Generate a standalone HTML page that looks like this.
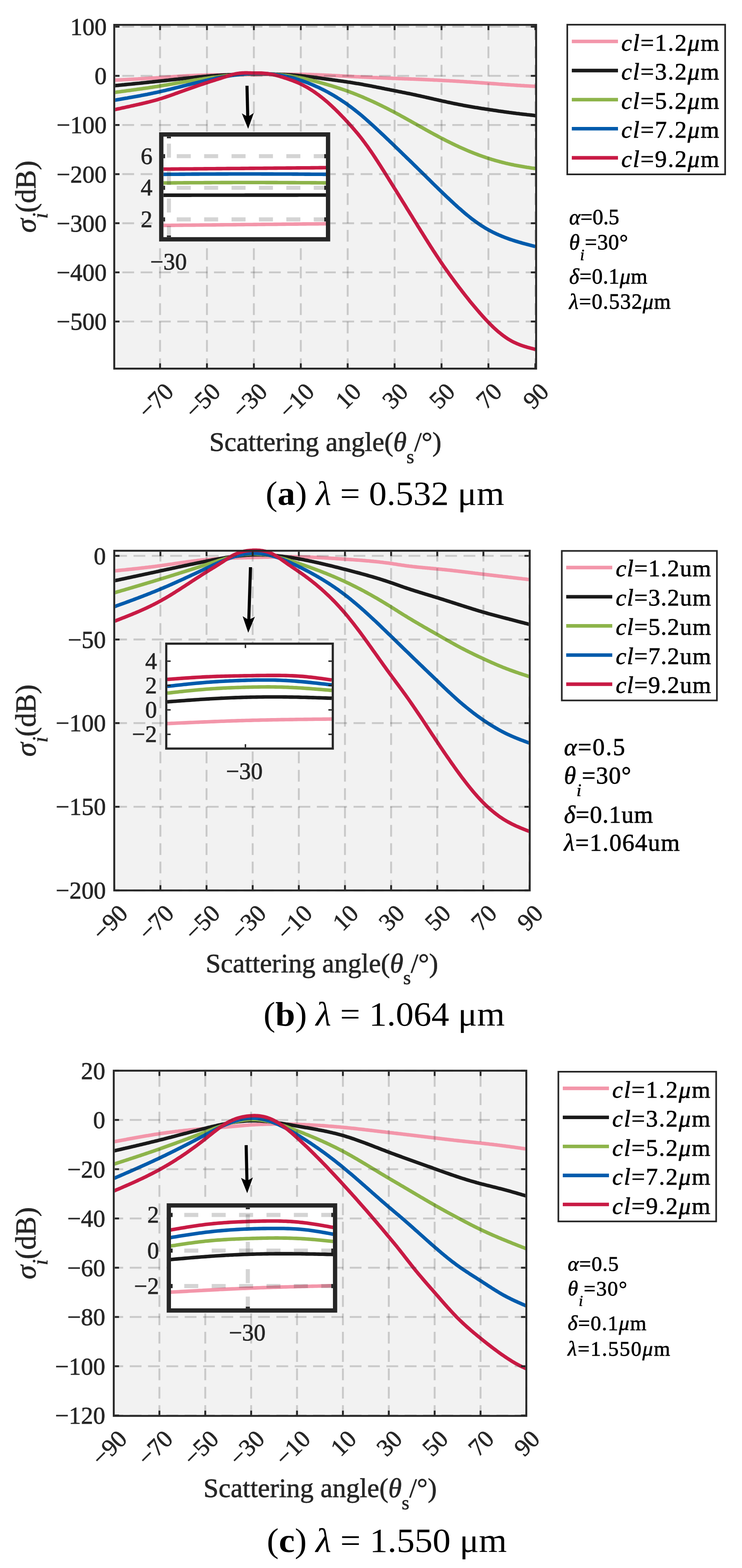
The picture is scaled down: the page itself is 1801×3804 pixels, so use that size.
<!DOCTYPE html><html><head><meta charset="utf-8"><style>html,body{margin:0;padding:0;background:#fff;overflow:hidden}svg{display:block}</style></head><body>
<svg xmlns="http://www.w3.org/2000/svg" width="1801" height="3804" viewBox="0 0 1801 3804" font-family="'Liberation Serif','Times New Roman',serif">
<rect width="1801" height="3804" fill="#fff"/>
<rect x="275" y="58" width="1028.6" height="838.6" fill="#F2F2F2"/>
<clipPath id="c2808"><rect x="279.6" y="0" width="1019.4" height="3804"/></clipPath>
<g fill="none" stroke-width="8.6" stroke-linejoin="round" clip-path="url(#c2808)">
<path d="M274.6 194.6 L277.5 194.4 L280.3 194.3 L283.2 194.2 L286.0 194.0 L288.9 193.9 L291.7 193.7 L294.6 193.6 L297.4 193.5 L300.3 193.3 L303.1 193.2 L306.0 193.0 L308.9 192.9 L311.7 192.7 L314.6 192.6 L317.4 192.5 L320.3 192.3 L323.1 192.2 L326.0 192.0 L328.8 191.9 L331.7 191.7 L334.5 191.6 L337.4 191.4 L340.3 191.3 L343.1 191.1 L346.0 190.9 L348.8 190.8 L351.7 190.6 L354.5 190.4 L357.4 190.3 L360.2 190.1 L363.1 189.9 L365.9 189.8 L368.8 189.6 L371.7 189.4 L374.5 189.2 L377.4 189.1 L380.2 188.9 L383.1 188.7 L385.9 188.5 L388.8 188.3 L391.6 188.1 L394.5 187.9 L397.3 187.7 L400.2 187.5 L403.1 187.3 L405.9 187.1 L408.8 186.9 L411.6 186.7 L414.5 186.5 L417.3 186.3 L420.2 186.1 L423.0 185.9 L425.9 185.7 L428.7 185.5 L431.6 185.3 L434.5 185.1 L437.3 184.9 L440.2 184.8 L443.0 184.6 L445.9 184.4 L448.7 184.3 L451.6 184.1 L454.4 183.9 L457.3 183.8 L460.1 183.6 L463.0 183.5 L465.9 183.4 L468.7 183.2 L471.6 183.1 L474.4 183.0 L477.3 182.9 L480.1 182.7 L483.0 182.6 L485.8 182.5 L488.7 182.4 L491.5 182.3 L494.4 182.2 L497.3 182.1 L500.1 182.1 L503.0 182.0 L505.8 181.9 L508.7 181.9 L511.5 181.8 L514.4 181.7 L517.2 181.7 L520.1 181.6 L522.9 181.6 L525.8 181.6 L528.7 181.5 L531.5 181.5 L534.4 181.5 L537.2 181.4 L540.1 181.4 L542.9 181.4 L545.8 181.4 L548.6 181.4 L551.5 181.3 L554.3 181.3 L557.2 181.3 L560.1 181.3 L562.9 181.3 L565.8 181.3 L568.6 181.3 L571.5 181.3 L574.3 181.3 L577.2 181.3 L580.0 181.3 L582.9 181.3 L585.7 181.2 L588.6 181.2 L591.5 181.2 L594.3 181.2 L597.2 181.2 L600.0 181.2 L602.9 181.2 L605.7 181.2 L608.6 181.2 L611.4 181.2 L614.3 181.1 L617.1 181.1 L620.0 181.1 L622.9 181.1 L625.7 181.0 L628.6 181.0 L631.4 181.0 L634.3 180.9 L637.1 180.9 L640.0 180.9 L642.8 180.8 L645.7 180.8 L648.5 180.8 L651.4 180.7 L654.3 180.7 L657.1 180.6 L660.0 180.6 L662.8 180.6 L665.7 180.5 L668.5 180.5 L671.4 180.5 L674.2 180.4 L677.1 180.4 L680.0 180.4 L682.8 180.3 L685.7 180.3 L688.5 180.3 L691.4 180.3 L694.2 180.3 L697.1 180.2 L699.9 180.2 L702.8 180.2 L705.6 180.2 L708.5 180.2 L711.4 180.2 L714.2 180.2 L717.1 180.3 L719.9 180.3 L722.8 180.3 L725.6 180.3 L728.5 180.4 L731.3 180.4 L734.2 180.4 L737.0 180.5 L739.9 180.5 L742.8 180.6 L745.6 180.7 L748.5 180.7 L751.3 180.8 L754.2 180.9 L757.0 181.0 L759.9 181.1 L762.7 181.2 L765.6 181.3 L768.4 181.4 L771.3 181.5 L774.2 181.6 L777.0 181.7 L779.9 181.8 L782.7 182.0 L785.6 182.1 L788.4 182.2 L791.3 182.4 L794.1 182.5 L797.0 182.6 L799.8 182.8 L802.7 182.9 L805.6 183.1 L808.4 183.2 L811.3 183.3 L814.1 183.5 L817.0 183.6 L819.8 183.8 L822.7 183.9 L825.5 184.1 L828.4 184.2 L831.2 184.4 L834.1 184.5 L837.0 184.7 L839.8 184.8 L842.7 185.0 L845.5 185.1 L848.4 185.3 L851.2 185.4 L854.1 185.6 L856.9 185.7 L859.8 185.9 L862.6 186.0 L865.5 186.2 L868.4 186.3 L871.2 186.4 L874.1 186.6 L876.9 186.7 L879.8 186.9 L882.6 187.0 L885.5 187.1 L888.3 187.3 L891.2 187.4 L894.0 187.5 L896.9 187.7 L899.8 187.8 L902.6 187.9 L905.5 188.1 L908.3 188.2 L911.2 188.3 L914.0 188.4 L916.9 188.6 L919.7 188.7 L922.6 188.8 L925.4 188.9 L928.3 189.0 L931.2 189.2 L934.0 189.3 L936.9 189.4 L939.7 189.5 L942.6 189.6 L945.4 189.7 L948.3 189.8 L951.1 189.9 L954.0 190.1 L956.8 190.2 L959.7 190.3 L962.6 190.4 L965.4 190.5 L968.3 190.6 L971.1 190.7 L974.0 190.8 L976.8 190.9 L979.7 191.0 L982.5 191.1 L985.4 191.2 L988.2 191.3 L991.1 191.4 L994.0 191.5 L996.8 191.6 L999.7 191.7 L1002.5 191.8 L1005.4 191.9 L1008.2 192.0 L1011.1 192.2 L1013.9 192.3 L1016.8 192.4 L1019.6 192.5 L1022.5 192.6 L1025.4 192.8 L1028.2 192.9 L1031.1 193.0 L1033.9 193.1 L1036.8 193.3 L1039.6 193.4 L1042.5 193.5 L1045.3 193.7 L1048.2 193.8 L1051.0 193.9 L1053.9 194.1 L1056.8 194.2 L1059.6 194.3 L1062.5 194.5 L1065.3 194.6 L1068.2 194.8 L1071.0 194.9 L1073.9 195.1 L1076.7 195.2 L1079.6 195.4 L1082.4 195.5 L1085.3 195.7 L1088.2 195.8 L1091.0 196.0 L1093.9 196.2 L1096.7 196.3 L1099.6 196.5 L1102.4 196.6 L1105.3 196.8 L1108.1 197.0 L1111.0 197.1 L1113.8 197.3 L1116.7 197.5 L1119.6 197.7 L1122.4 197.8 L1125.3 198.0 L1128.1 198.2 L1131.0 198.4 L1133.8 198.6 L1136.7 198.7 L1139.5 198.9 L1142.4 199.1 L1145.2 199.3 L1148.1 199.5 L1151.0 199.7 L1153.8 199.9 L1156.7 200.1 L1159.5 200.3 L1162.4 200.5 L1165.2 200.7 L1168.1 200.9 L1170.9 201.1 L1173.8 201.3 L1176.6 201.5 L1179.5 201.7 L1182.4 201.9 L1185.2 202.1 L1188.1 202.3 L1190.9 202.5 L1193.8 202.7 L1196.6 202.9 L1199.5 203.1 L1202.3 203.3 L1205.2 203.5 L1208.0 203.7 L1210.9 204.0 L1213.8 204.2 L1216.6 204.4 L1219.5 204.6 L1222.3 204.8 L1225.2 205.0 L1228.0 205.2 L1230.9 205.4 L1233.7 205.6 L1236.6 205.8 L1239.4 206.0 L1242.3 206.2 L1245.2 206.3 L1248.0 206.5 L1250.9 206.7 L1253.7 206.9 L1256.6 207.1 L1259.4 207.2 L1262.3 207.4 L1265.1 207.6 L1268.0 207.7 L1270.8 207.9 L1273.7 208.1 L1276.6 208.2 L1279.4 208.4 L1282.3 208.5 L1285.1 208.7 L1288.0 208.9 L1290.8 209.0 L1293.7 209.2 L1296.5 209.3 L1299.4 209.5" stroke="#F396AA"/>
<path d="M274.6 208.2 L277.5 207.9 L280.3 207.6 L283.2 207.3 L286.0 207.1 L288.9 206.8 L291.7 206.5 L294.6 206.2 L297.4 205.9 L300.3 205.7 L303.1 205.4 L306.0 205.1 L308.9 204.8 L311.7 204.5 L314.6 204.2 L317.4 204.0 L320.3 203.7 L323.1 203.4 L326.0 203.1 L328.8 202.8 L331.7 202.5 L334.5 202.2 L337.4 202.0 L340.3 201.7 L343.1 201.4 L346.0 201.1 L348.8 200.8 L351.7 200.5 L354.5 200.2 L357.4 199.9 L360.2 199.6 L363.1 199.3 L365.9 199.0 L368.8 198.7 L371.7 198.4 L374.5 198.1 L377.4 197.8 L380.2 197.5 L383.1 197.2 L385.9 196.9 L388.8 196.6 L391.6 196.3 L394.5 196.0 L397.3 195.7 L400.2 195.4 L403.1 195.1 L405.9 194.8 L408.8 194.5 L411.6 194.1 L414.5 193.8 L417.3 193.5 L420.2 193.2 L423.0 192.9 L425.9 192.6 L428.7 192.3 L431.6 192.0 L434.5 191.6 L437.3 191.3 L440.2 191.0 L443.0 190.7 L445.9 190.4 L448.7 190.1 L451.6 189.8 L454.4 189.5 L457.3 189.2 L460.1 188.9 L463.0 188.6 L465.9 188.3 L468.7 188.0 L471.6 187.7 L474.4 187.4 L477.3 187.2 L480.1 186.9 L483.0 186.6 L485.8 186.3 L488.7 186.1 L491.5 185.8 L494.4 185.5 L497.3 185.3 L500.1 185.1 L503.0 184.8 L505.8 184.6 L508.7 184.4 L511.5 184.1 L514.4 183.9 L517.2 183.7 L520.1 183.5 L522.9 183.3 L525.8 183.1 L528.7 182.9 L531.5 182.7 L534.4 182.5 L537.2 182.4 L540.1 182.2 L542.9 182.0 L545.8 181.9 L548.6 181.7 L551.5 181.6 L554.3 181.4 L557.2 181.3 L560.1 181.2 L562.9 181.0 L565.8 180.9 L568.6 180.8 L571.5 180.7 L574.3 180.6 L577.2 180.5 L580.0 180.4 L582.9 180.3 L585.7 180.2 L588.6 180.1 L591.5 180.0 L594.3 180.0 L597.2 179.9 L600.0 179.8 L602.9 179.8 L605.7 179.7 L608.6 179.7 L611.4 179.6 L614.3 179.6 L617.1 179.6 L620.0 179.5 L622.9 179.5 L625.7 179.5 L628.6 179.5 L631.4 179.5 L634.3 179.5 L637.1 179.5 L640.0 179.5 L642.8 179.5 L645.7 179.5 L648.5 179.6 L651.4 179.6 L654.3 179.6 L657.1 179.7 L660.0 179.7 L662.8 179.8 L665.7 179.9 L668.5 180.0 L671.4 180.0 L674.2 180.1 L677.1 180.2 L680.0 180.3 L682.8 180.5 L685.7 180.6 L688.5 180.7 L691.4 180.9 L694.2 181.0 L697.1 181.2 L699.9 181.4 L702.8 181.5 L705.6 181.7 L708.5 181.9 L711.4 182.2 L714.2 182.4 L717.1 182.6 L719.9 182.8 L722.8 183.1 L725.6 183.4 L728.5 183.6 L731.3 183.9 L734.2 184.2 L737.0 184.5 L739.9 184.8 L742.8 185.2 L745.6 185.5 L748.5 185.9 L751.3 186.2 L754.2 186.6 L757.0 186.9 L759.9 187.3 L762.7 187.7 L765.6 188.0 L768.4 188.4 L771.3 188.8 L774.2 189.2 L777.0 189.6 L779.9 190.0 L782.7 190.4 L785.6 190.8 L788.4 191.2 L791.3 191.6 L794.1 191.9 L797.0 192.3 L799.8 192.7 L802.7 193.1 L805.6 193.5 L808.4 193.9 L811.3 194.3 L814.1 194.7 L817.0 195.1 L819.8 195.5 L822.7 195.9 L825.5 196.3 L828.4 196.7 L831.2 197.1 L834.1 197.5 L837.0 197.9 L839.8 198.3 L842.7 198.7 L845.5 199.2 L848.4 199.6 L851.2 200.1 L854.1 200.5 L856.9 201.0 L859.8 201.4 L862.6 201.9 L865.5 202.4 L868.4 202.8 L871.2 203.3 L874.1 203.8 L876.9 204.3 L879.8 204.8 L882.6 205.4 L885.5 205.9 L888.3 206.4 L891.2 206.9 L894.0 207.5 L896.9 208.0 L899.8 208.6 L902.6 209.1 L905.5 209.7 L908.3 210.3 L911.2 210.8 L914.0 211.4 L916.9 211.9 L919.7 212.5 L922.6 213.1 L925.4 213.6 L928.3 214.2 L931.2 214.8 L934.0 215.4 L936.9 215.9 L939.7 216.5 L942.6 217.1 L945.4 217.6 L948.3 218.2 L951.1 218.8 L954.0 219.3 L956.8 219.9 L959.7 220.5 L962.6 221.0 L965.4 221.6 L968.3 222.2 L971.1 222.7 L974.0 223.3 L976.8 223.9 L979.7 224.4 L982.5 225.0 L985.4 225.6 L988.2 226.2 L991.1 226.7 L994.0 227.3 L996.8 227.9 L999.7 228.5 L1002.5 229.1 L1005.4 229.7 L1008.2 230.3 L1011.1 231.0 L1013.9 231.6 L1016.8 232.2 L1019.6 232.8 L1022.5 233.5 L1025.4 234.1 L1028.2 234.7 L1031.1 235.4 L1033.9 236.0 L1036.8 236.7 L1039.6 237.3 L1042.5 238.0 L1045.3 238.6 L1048.2 239.3 L1051.0 239.9 L1053.9 240.6 L1056.8 241.2 L1059.6 241.9 L1062.5 242.5 L1065.3 243.2 L1068.2 243.8 L1071.0 244.4 L1073.9 245.1 L1076.7 245.7 L1079.6 246.3 L1082.4 246.9 L1085.3 247.6 L1088.2 248.2 L1091.0 248.8 L1093.9 249.4 L1096.7 250.0 L1099.6 250.6 L1102.4 251.2 L1105.3 251.8 L1108.1 252.3 L1111.0 252.9 L1113.8 253.5 L1116.7 254.0 L1119.6 254.6 L1122.4 255.1 L1125.3 255.7 L1128.1 256.2 L1131.0 256.7 L1133.8 257.2 L1136.7 257.7 L1139.5 258.2 L1142.4 258.7 L1145.2 259.2 L1148.1 259.7 L1151.0 260.2 L1153.8 260.7 L1156.7 261.1 L1159.5 261.6 L1162.4 262.1 L1165.2 262.5 L1168.1 263.0 L1170.9 263.4 L1173.8 263.8 L1176.6 264.3 L1179.5 264.7 L1182.4 265.1 L1185.2 265.6 L1188.1 266.0 L1190.9 266.4 L1193.8 266.8 L1196.6 267.3 L1199.5 267.7 L1202.3 268.1 L1205.2 268.5 L1208.0 268.9 L1210.9 269.4 L1213.8 269.8 L1216.6 270.2 L1219.5 270.6 L1222.3 271.0 L1225.2 271.4 L1228.0 271.8 L1230.9 272.2 L1233.7 272.6 L1236.6 273.0 L1239.4 273.3 L1242.3 273.7 L1245.2 274.1 L1248.0 274.4 L1250.9 274.8 L1253.7 275.2 L1256.6 275.5 L1259.4 275.8 L1262.3 276.2 L1265.1 276.5 L1268.0 276.9 L1270.8 277.2 L1273.7 277.5 L1276.6 277.8 L1279.4 278.2 L1282.3 278.5 L1285.1 278.8 L1288.0 279.1 L1290.8 279.4 L1293.7 279.7 L1296.5 280.1 L1299.4 280.4" stroke="#1A1A1A"/>
<path d="M274.6 224.6 L277.5 224.3 L280.3 223.9 L283.2 223.5 L286.0 223.1 L288.9 222.8 L291.7 222.4 L294.6 222.0 L297.4 221.6 L300.3 221.3 L303.1 220.9 L306.0 220.5 L308.9 220.1 L311.7 219.7 L314.6 219.4 L317.4 219.0 L320.3 218.6 L323.1 218.2 L326.0 217.8 L328.8 217.4 L331.7 217.0 L334.5 216.6 L337.4 216.2 L340.3 215.8 L343.1 215.4 L346.0 215.0 L348.8 214.6 L351.7 214.2 L354.5 213.8 L357.4 213.4 L360.2 213.0 L363.1 212.5 L365.9 212.1 L368.8 211.7 L371.7 211.2 L374.5 210.8 L377.4 210.3 L380.2 209.9 L383.1 209.4 L385.9 209.0 L388.8 208.5 L391.6 208.1 L394.5 207.6 L397.3 207.1 L400.2 206.6 L403.1 206.2 L405.9 205.7 L408.8 205.2 L411.6 204.7 L414.5 204.2 L417.3 203.7 L420.2 203.2 L423.0 202.7 L425.9 202.2 L428.7 201.7 L431.6 201.3 L434.5 200.8 L437.3 200.3 L440.2 199.8 L443.0 199.3 L445.9 198.8 L448.7 198.3 L451.6 197.9 L454.4 197.4 L457.3 196.9 L460.1 196.5 L463.0 196.0 L465.9 195.5 L468.7 195.1 L471.6 194.6 L474.4 194.1 L477.3 193.7 L480.1 193.2 L483.0 192.8 L485.8 192.3 L488.7 191.9 L491.5 191.5 L494.4 191.0 L497.3 190.6 L500.1 190.2 L503.0 189.8 L505.8 189.3 L508.7 188.9 L511.5 188.5 L514.4 188.1 L517.2 187.7 L520.1 187.3 L522.9 186.9 L525.8 186.5 L528.7 186.2 L531.5 185.8 L534.4 185.4 L537.2 185.1 L540.1 184.7 L542.9 184.4 L545.8 184.0 L548.6 183.7 L551.5 183.4 L554.3 183.1 L557.2 182.8 L560.1 182.5 L562.9 182.2 L565.8 181.9 L568.6 181.6 L571.5 181.4 L574.3 181.1 L577.2 180.9 L580.0 180.7 L582.9 180.5 L585.7 180.3 L588.6 180.1 L591.5 179.9 L594.3 179.7 L597.2 179.6 L600.0 179.4 L602.9 179.3 L605.7 179.2 L608.6 179.1 L611.4 179.0 L614.3 178.9 L617.1 178.8 L620.0 178.8 L622.9 178.8 L625.7 178.7 L628.6 178.7 L631.4 178.7 L634.3 178.8 L637.1 178.8 L640.0 178.9 L642.8 178.9 L645.7 179.0 L648.5 179.1 L651.4 179.2 L654.3 179.4 L657.1 179.5 L660.0 179.7 L662.8 179.8 L665.7 180.0 L668.5 180.2 L671.4 180.5 L674.2 180.7 L677.1 181.0 L680.0 181.2 L682.8 181.5 L685.7 181.8 L688.5 182.2 L691.4 182.5 L694.2 182.8 L697.1 183.2 L699.9 183.6 L702.8 184.0 L705.6 184.4 L708.5 184.9 L711.4 185.4 L714.2 185.8 L717.1 186.3 L719.9 186.8 L722.8 187.4 L725.6 187.9 L728.5 188.5 L731.3 189.1 L734.2 189.7 L737.0 190.3 L739.9 190.9 L742.8 191.6 L745.6 192.2 L748.5 192.9 L751.3 193.6 L754.2 194.3 L757.0 195.0 L759.9 195.8 L762.7 196.5 L765.6 197.2 L768.4 198.0 L771.3 198.7 L774.2 199.5 L777.0 200.3 L779.9 201.1 L782.7 201.9 L785.6 202.7 L788.4 203.5 L791.3 204.3 L794.1 205.1 L797.0 206.0 L799.8 206.8 L802.7 207.7 L805.6 208.5 L808.4 209.4 L811.3 210.3 L814.1 211.2 L817.0 212.1 L819.8 213.0 L822.7 213.9 L825.5 214.9 L828.4 215.8 L831.2 216.8 L834.1 217.7 L837.0 218.7 L839.8 219.7 L842.7 220.8 L845.5 221.8 L848.4 222.8 L851.2 223.9 L854.1 225.0 L856.9 226.1 L859.8 227.2 L862.6 228.3 L865.5 229.4 L868.4 230.6 L871.2 231.8 L874.1 232.9 L876.9 234.1 L879.8 235.3 L882.6 236.5 L885.5 237.8 L888.3 239.0 L891.2 240.3 L894.0 241.5 L896.9 242.8 L899.8 244.1 L902.6 245.4 L905.5 246.7 L908.3 248.0 L911.2 249.4 L914.0 250.7 L916.9 252.1 L919.7 253.4 L922.6 254.8 L925.4 256.2 L928.3 257.6 L931.2 259.0 L934.0 260.4 L936.9 261.8 L939.7 263.3 L942.6 264.7 L945.4 266.2 L948.3 267.7 L951.1 269.2 L954.0 270.6 L956.8 272.2 L959.7 273.7 L962.6 275.2 L965.4 276.7 L968.3 278.3 L971.1 279.8 L974.0 281.4 L976.8 283.0 L979.7 284.6 L982.5 286.1 L985.4 287.7 L988.2 289.3 L991.1 290.9 L994.0 292.5 L996.8 294.1 L999.7 295.7 L1002.5 297.3 L1005.4 298.9 L1008.2 300.5 L1011.1 302.1 L1013.9 303.7 L1016.8 305.3 L1019.6 306.9 L1022.5 308.5 L1025.4 310.1 L1028.2 311.7 L1031.1 313.3 L1033.9 314.9 L1036.8 316.5 L1039.6 318.1 L1042.5 319.6 L1045.3 321.2 L1048.2 322.8 L1051.0 324.3 L1053.9 325.9 L1056.8 327.4 L1059.6 328.9 L1062.5 330.4 L1065.3 332.0 L1068.2 333.5 L1071.0 335.0 L1073.9 336.4 L1076.7 337.9 L1079.6 339.4 L1082.4 340.8 L1085.3 342.3 L1088.2 343.7 L1091.0 345.1 L1093.9 346.5 L1096.7 347.9 L1099.6 349.3 L1102.4 350.7 L1105.3 352.1 L1108.1 353.4 L1111.0 354.7 L1113.8 356.1 L1116.7 357.4 L1119.6 358.7 L1122.4 359.9 L1125.3 361.2 L1128.1 362.4 L1131.0 363.7 L1133.8 364.9 L1136.7 366.1 L1139.5 367.3 L1142.4 368.4 L1145.2 369.6 L1148.1 370.7 L1151.0 371.9 L1153.8 373.0 L1156.7 374.1 L1159.5 375.1 L1162.4 376.2 L1165.2 377.2 L1168.1 378.3 L1170.9 379.3 L1173.8 380.3 L1176.6 381.2 L1179.5 382.2 L1182.4 383.2 L1185.2 384.1 L1188.1 385.0 L1190.9 385.9 L1193.8 386.8 L1196.6 387.6 L1199.5 388.5 L1202.3 389.3 L1205.2 390.1 L1208.0 390.9 L1210.9 391.7 L1213.8 392.5 L1216.6 393.2 L1219.5 394.0 L1222.3 394.7 L1225.2 395.4 L1228.0 396.1 L1230.9 396.7 L1233.7 397.4 L1236.6 398.0 L1239.4 398.6 L1242.3 399.2 L1245.2 399.8 L1248.0 400.4 L1250.9 400.9 L1253.7 401.5 L1256.6 402.0 L1259.4 402.5 L1262.3 403.0 L1265.1 403.5 L1268.0 404.0 L1270.8 404.5 L1273.7 405.0 L1276.6 405.4 L1279.4 405.9 L1282.3 406.3 L1285.1 406.8 L1288.0 407.2 L1290.8 407.7 L1293.7 408.1 L1296.5 408.5 L1299.4 409.0" stroke="#8DB44A"/>
<path d="M274.6 243.8 L277.5 243.3 L280.3 242.8 L283.2 242.3 L286.0 241.8 L288.9 241.3 L291.7 240.8 L294.6 240.3 L297.4 239.8 L300.3 239.3 L303.1 238.8 L306.0 238.3 L308.9 237.9 L311.7 237.3 L314.6 236.8 L317.4 236.3 L320.3 235.8 L323.1 235.3 L326.0 234.8 L328.8 234.3 L331.7 233.8 L334.5 233.2 L337.4 232.7 L340.3 232.2 L343.1 231.6 L346.0 231.1 L348.8 230.5 L351.7 230.0 L354.5 229.4 L357.4 228.9 L360.2 228.3 L363.1 227.7 L365.9 227.1 L368.8 226.5 L371.7 225.9 L374.5 225.3 L377.4 224.7 L380.2 224.1 L383.1 223.5 L385.9 222.8 L388.8 222.2 L391.6 221.5 L394.5 220.9 L397.3 220.2 L400.2 219.6 L403.1 218.9 L405.9 218.2 L408.8 217.5 L411.6 216.8 L414.5 216.1 L417.3 215.4 L420.2 214.7 L423.0 214.0 L425.9 213.3 L428.7 212.6 L431.6 211.9 L434.5 211.2 L437.3 210.5 L440.2 209.8 L443.0 209.0 L445.9 208.3 L448.7 207.6 L451.6 206.9 L454.4 206.2 L457.3 205.5 L460.1 204.8 L463.0 204.1 L465.9 203.4 L468.7 202.7 L471.6 202.0 L474.4 201.3 L477.3 200.7 L480.1 200.0 L483.0 199.3 L485.8 198.6 L488.7 198.0 L491.5 197.3 L494.4 196.6 L497.3 196.0 L500.1 195.3 L503.0 194.7 L505.8 194.0 L508.7 193.4 L511.5 192.8 L514.4 192.2 L517.2 191.6 L520.1 191.0 L522.9 190.4 L525.8 189.8 L528.7 189.2 L531.5 188.6 L534.4 188.1 L537.2 187.5 L540.1 187.0 L542.9 186.5 L545.8 185.9 L548.6 185.4 L551.5 185.0 L554.3 184.5 L557.2 184.0 L560.1 183.6 L562.9 183.1 L565.8 182.7 L568.6 182.3 L571.5 181.9 L574.3 181.6 L577.2 181.2 L580.0 180.9 L582.9 180.5 L585.7 180.2 L588.6 180.0 L591.5 179.7 L594.3 179.4 L597.2 179.2 L600.0 179.0 L602.9 178.8 L605.7 178.7 L608.6 178.5 L611.4 178.4 L614.3 178.3 L617.1 178.2 L620.0 178.2 L622.9 178.1 L625.7 178.1 L628.6 178.2 L631.4 178.2 L634.3 178.3 L637.1 178.3 L640.0 178.5 L642.8 178.6 L645.7 178.8 L648.5 178.9 L651.4 179.1 L654.3 179.4 L657.1 179.6 L660.0 179.9 L662.8 180.2 L665.7 180.6 L668.5 180.9 L671.4 181.3 L674.2 181.7 L677.1 182.1 L680.0 182.6 L682.8 183.1 L685.7 183.6 L688.5 184.1 L691.4 184.7 L694.2 185.3 L697.1 185.9 L699.9 186.6 L702.8 187.2 L705.6 187.9 L708.5 188.6 L711.4 189.4 L714.2 190.2 L717.1 191.0 L719.9 191.8 L722.8 192.7 L725.6 193.5 L728.5 194.5 L731.3 195.4 L734.2 196.4 L737.0 197.4 L739.9 198.4 L742.8 199.4 L745.6 200.5 L748.5 201.6 L751.3 202.8 L754.2 203.9 L757.0 205.1 L759.9 206.3 L762.7 207.5 L765.6 208.8 L768.4 210.1 L771.3 211.4 L774.2 212.7 L777.0 214.1 L779.9 215.5 L782.7 216.9 L785.6 218.3 L788.4 219.8 L791.3 221.3 L794.1 222.8 L797.0 224.3 L799.8 225.9 L802.7 227.5 L805.6 229.2 L808.4 230.8 L811.3 232.5 L814.1 234.2 L817.0 236.0 L819.8 237.8 L822.7 239.6 L825.5 241.4 L828.4 243.3 L831.2 245.2 L834.1 247.1 L837.0 249.0 L839.8 251.0 L842.7 253.0 L845.5 255.1 L848.4 257.2 L851.2 259.3 L854.1 261.4 L856.9 263.6 L859.8 265.8 L862.6 268.0 L865.5 270.3 L868.4 272.6 L871.2 274.9 L874.1 277.2 L876.9 279.6 L879.8 282.0 L882.6 284.5 L885.5 286.9 L888.3 289.4 L891.2 291.9 L894.0 294.5 L896.9 297.0 L899.8 299.6 L902.6 302.2 L905.5 304.8 L908.3 307.4 L911.2 310.0 L914.0 312.7 L916.9 315.3 L919.7 318.0 L922.6 320.6 L925.4 323.3 L928.3 326.0 L931.2 328.7 L934.0 331.4 L936.9 334.1 L939.7 336.8 L942.6 339.5 L945.4 342.3 L948.3 345.0 L951.1 347.7 L954.0 350.5 L956.8 353.2 L959.7 356.0 L962.6 358.7 L965.4 361.5 L968.3 364.2 L971.1 367.0 L974.0 369.7 L976.8 372.5 L979.7 375.3 L982.5 378.0 L985.4 380.8 L988.2 383.6 L991.1 386.4 L994.0 389.1 L996.8 391.9 L999.7 394.7 L1002.5 397.5 L1005.4 400.3 L1008.2 403.1 L1011.1 405.9 L1013.9 408.7 L1016.8 411.5 L1019.6 414.3 L1022.5 417.1 L1025.4 419.9 L1028.2 422.7 L1031.1 425.5 L1033.9 428.3 L1036.8 431.1 L1039.6 433.9 L1042.5 436.7 L1045.3 439.5 L1048.2 442.4 L1051.0 445.2 L1053.9 448.0 L1056.8 450.8 L1059.6 453.5 L1062.5 456.3 L1065.3 459.1 L1068.2 461.9 L1071.0 464.6 L1073.9 467.4 L1076.7 470.1 L1079.6 472.9 L1082.4 475.6 L1085.3 478.3 L1088.2 481.0 L1091.0 483.7 L1093.9 486.4 L1096.7 489.0 L1099.6 491.7 L1102.4 494.3 L1105.3 496.9 L1108.1 499.5 L1111.0 502.1 L1113.8 504.6 L1116.7 507.1 L1119.6 509.6 L1122.4 512.1 L1125.3 514.5 L1128.1 517.0 L1131.0 519.4 L1133.8 521.7 L1136.7 524.0 L1139.5 526.3 L1142.4 528.6 L1145.2 530.8 L1148.1 533.0 L1151.0 535.1 L1153.8 537.2 L1156.7 539.3 L1159.5 541.3 L1162.4 543.3 L1165.2 545.2 L1168.1 547.1 L1170.9 548.9 L1173.8 550.7 L1176.6 552.5 L1179.5 554.2 L1182.4 555.8 L1185.2 557.4 L1188.1 559.0 L1190.9 560.5 L1193.8 562.0 L1196.6 563.5 L1199.5 564.9 L1202.3 566.2 L1205.2 567.6 L1208.0 568.8 L1210.9 570.1 L1213.8 571.3 L1216.6 572.5 L1219.5 573.7 L1222.3 574.8 L1225.2 575.9 L1228.0 577.0 L1230.9 578.1 L1233.7 579.1 L1236.6 580.1 L1239.4 581.1 L1242.3 582.0 L1245.2 583.0 L1248.0 583.9 L1250.9 584.8 L1253.7 585.7 L1256.6 586.5 L1259.4 587.4 L1262.3 588.2 L1265.1 589.0 L1268.0 589.8 L1270.8 590.6 L1273.7 591.4 L1276.6 592.1 L1279.4 592.9 L1282.3 593.7 L1285.1 594.4 L1288.0 595.1 L1290.8 595.9 L1293.7 596.6 L1296.5 597.3 L1299.4 598.1" stroke="#005BAC"/>
<path d="M274.6 266.8 L277.5 266.2 L280.3 265.6 L283.2 264.9 L286.0 264.3 L288.9 263.7 L291.7 263.1 L294.6 262.4 L297.4 261.8 L300.3 261.2 L303.1 260.6 L306.0 259.9 L308.9 259.3 L311.7 258.7 L314.6 258.1 L317.4 257.4 L320.3 256.8 L323.1 256.2 L326.0 255.5 L328.8 254.9 L331.7 254.2 L334.5 253.6 L337.4 253.0 L340.3 252.3 L343.1 251.7 L346.0 251.0 L348.8 250.3 L351.7 249.7 L354.5 249.0 L357.4 248.3 L360.2 247.6 L363.1 246.9 L365.9 246.1 L368.8 245.4 L371.7 244.6 L374.5 243.9 L377.4 243.1 L380.2 242.3 L383.1 241.5 L385.9 240.6 L388.8 239.7 L391.6 238.9 L394.5 238.0 L397.3 237.0 L400.2 236.1 L403.1 235.1 L405.9 234.2 L408.8 233.2 L411.6 232.2 L414.5 231.2 L417.3 230.2 L420.2 229.2 L423.0 228.2 L425.9 227.1 L428.7 226.1 L431.6 225.1 L434.5 224.0 L437.3 223.0 L440.2 222.0 L443.0 221.0 L445.9 220.0 L448.7 218.9 L451.6 217.9 L454.4 216.9 L457.3 215.9 L460.1 214.9 L463.0 213.9 L465.9 212.9 L468.7 211.9 L471.6 210.9 L474.4 209.9 L477.3 208.9 L480.1 208.0 L483.0 207.0 L485.8 206.0 L488.7 205.0 L491.5 204.1 L494.4 203.1 L497.3 202.1 L500.1 201.2 L503.0 200.3 L505.8 199.3 L508.7 198.4 L511.5 197.5 L514.4 196.6 L517.2 195.7 L520.1 194.8 L522.9 193.9 L525.8 193.0 L528.7 192.1 L531.5 191.2 L534.4 190.3 L537.2 189.4 L540.1 188.5 L542.9 187.5 L545.8 186.6 L548.6 185.6 L551.5 184.7 L554.3 183.8 L557.2 182.9 L560.1 182.1 L562.9 181.3 L565.8 180.6 L568.6 179.9 L571.5 179.3 L574.3 178.8 L577.2 178.3 L580.0 177.9 L582.9 177.6 L585.7 177.3 L588.6 177.1 L591.5 177.0 L594.3 176.9 L597.2 176.9 L600.0 176.9 L602.9 177.0 L605.7 177.1 L608.6 177.1 L611.4 177.2 L614.3 177.3 L617.1 177.3 L620.0 177.3 L622.9 177.3 L625.7 177.3 L628.6 177.3 L631.4 177.4 L634.3 177.4 L637.1 177.6 L640.0 177.8 L642.8 178.0 L645.7 178.3 L648.5 178.6 L651.4 179.0 L654.3 179.4 L657.1 179.9 L660.0 180.4 L662.8 181.0 L665.7 181.7 L668.5 182.3 L671.4 183.1 L674.2 183.8 L677.1 184.6 L680.0 185.5 L682.8 186.3 L685.7 187.2 L688.5 188.1 L691.4 189.1 L694.2 190.0 L697.1 191.0 L699.9 192.0 L702.8 192.9 L705.6 194.0 L708.5 195.0 L711.4 196.1 L714.2 197.2 L717.1 198.3 L719.9 199.4 L722.8 200.7 L725.6 201.9 L728.5 203.2 L731.3 204.6 L734.2 206.0 L737.0 207.4 L739.9 209.0 L742.8 210.5 L745.6 212.1 L748.5 213.8 L751.3 215.5 L754.2 217.3 L757.0 219.1 L759.9 221.0 L762.7 222.9 L765.6 224.9 L768.4 227.0 L771.3 229.0 L774.2 231.1 L777.0 233.3 L779.9 235.5 L782.7 237.8 L785.6 240.1 L788.4 242.5 L791.3 244.9 L794.1 247.3 L797.0 249.8 L799.8 252.4 L802.7 255.0 L805.6 257.6 L808.4 260.3 L811.3 263.0 L814.1 265.8 L817.0 268.6 L819.8 271.4 L822.7 274.3 L825.5 277.2 L828.4 280.1 L831.2 283.1 L834.1 286.1 L837.0 289.1 L839.8 292.2 L842.7 295.2 L845.5 298.3 L848.4 301.5 L851.2 304.6 L854.1 307.8 L856.9 311.1 L859.8 314.4 L862.6 317.7 L865.5 321.1 L868.4 324.5 L871.2 328.0 L874.1 331.6 L876.9 335.2 L879.8 338.9 L882.6 342.7 L885.5 346.5 L888.3 350.4 L891.2 354.3 L894.0 358.3 L896.9 362.4 L899.8 366.5 L902.6 370.7 L905.5 374.9 L908.3 379.2 L911.2 383.5 L914.0 387.8 L916.9 392.2 L919.7 396.7 L922.6 401.1 L925.4 405.6 L928.3 410.1 L931.2 414.6 L934.0 419.1 L936.9 423.7 L939.7 428.2 L942.6 432.8 L945.4 437.4 L948.3 441.9 L951.1 446.5 L954.0 451.1 L956.8 455.7 L959.7 460.3 L962.6 464.9 L965.4 469.5 L968.3 474.1 L971.1 478.7 L974.0 483.3 L976.8 487.9 L979.7 492.5 L982.5 497.1 L985.4 501.8 L988.2 506.4 L991.1 511.0 L994.0 515.6 L996.8 520.2 L999.7 524.8 L1002.5 529.5 L1005.4 534.1 L1008.2 538.7 L1011.1 543.3 L1013.9 547.9 L1016.8 552.5 L1019.6 557.1 L1022.5 561.7 L1025.4 566.2 L1028.2 570.8 L1031.1 575.4 L1033.9 579.9 L1036.8 584.4 L1039.6 588.9 L1042.5 593.4 L1045.3 597.9 L1048.2 602.3 L1051.0 606.8 L1053.9 611.2 L1056.8 615.5 L1059.6 619.9 L1062.5 624.2 L1065.3 628.5 L1068.2 632.8 L1071.0 637.0 L1073.9 641.2 L1076.7 645.3 L1079.6 649.5 L1082.4 653.5 L1085.3 657.6 L1088.2 661.6 L1091.0 665.6 L1093.9 669.5 L1096.7 673.4 L1099.6 677.3 L1102.4 681.2 L1105.3 685.0 L1108.1 688.9 L1111.0 692.7 L1113.8 696.5 L1116.7 700.2 L1119.6 703.9 L1122.4 707.7 L1125.3 711.3 L1128.1 715.0 L1131.0 718.6 L1133.8 722.2 L1136.7 725.8 L1139.5 729.4 L1142.4 732.9 L1145.2 736.4 L1148.1 739.8 L1151.0 743.2 L1153.8 746.6 L1156.7 750.0 L1159.5 753.3 L1162.4 756.6 L1165.2 759.9 L1168.1 763.1 L1170.9 766.3 L1173.8 769.5 L1176.6 772.6 L1179.5 775.7 L1182.4 778.7 L1185.2 781.7 L1188.1 784.6 L1190.9 787.5 L1193.8 790.3 L1196.6 793.1 L1199.5 795.8 L1202.3 798.4 L1205.2 801.0 L1208.0 803.4 L1210.9 805.9 L1213.8 808.2 L1216.6 810.5 L1219.5 812.7 L1222.3 814.9 L1225.2 816.9 L1228.0 818.9 L1230.9 820.8 L1233.7 822.7 L1236.6 824.4 L1239.4 826.1 L1242.3 827.7 L1245.2 829.2 L1248.0 830.6 L1250.9 831.9 L1253.7 833.2 L1256.6 834.4 L1259.4 835.6 L1262.3 836.7 L1265.1 837.7 L1268.0 838.7 L1270.8 839.7 L1273.7 840.6 L1276.6 841.4 L1279.4 842.3 L1282.3 843.1 L1285.1 843.9 L1288.0 844.7 L1290.8 845.4 L1293.7 846.2 L1296.5 846.9 L1299.4 847.6" stroke="#C81A44"/>
</g>
<line x1="388.5" y1="62.6" x2="388.5" y2="892.0" stroke="#262626" stroke-opacity="0.2" stroke-width="4.6" stroke-dasharray="28.6 15.9" stroke-dashoffset="38.9"/>
<line x1="502.3" y1="62.6" x2="502.3" y2="892.0" stroke="#262626" stroke-opacity="0.2" stroke-width="4.6" stroke-dasharray="28.6 15.9" stroke-dashoffset="38.9"/>
<line x1="616.2" y1="62.6" x2="616.2" y2="892.0" stroke="#262626" stroke-opacity="0.2" stroke-width="4.6" stroke-dasharray="28.6 15.9" stroke-dashoffset="38.9"/>
<line x1="730.1" y1="62.6" x2="730.1" y2="892.0" stroke="#262626" stroke-opacity="0.2" stroke-width="4.6" stroke-dasharray="28.6 15.9" stroke-dashoffset="38.9"/>
<line x1="843.9" y1="62.6" x2="843.9" y2="892.0" stroke="#262626" stroke-opacity="0.2" stroke-width="4.6" stroke-dasharray="28.6 15.9" stroke-dashoffset="38.9"/>
<line x1="957.8" y1="62.6" x2="957.8" y2="892.0" stroke="#262626" stroke-opacity="0.2" stroke-width="4.6" stroke-dasharray="28.6 15.9" stroke-dashoffset="38.9"/>
<line x1="1071.7" y1="62.6" x2="1071.7" y2="892.0" stroke="#262626" stroke-opacity="0.2" stroke-width="4.6" stroke-dasharray="28.6 15.9" stroke-dashoffset="38.9"/>
<line x1="1185.5" y1="62.6" x2="1185.5" y2="892.0" stroke="#262626" stroke-opacity="0.2" stroke-width="4.6" stroke-dasharray="28.6 15.9" stroke-dashoffset="38.9"/>
<line x1="1299.4" y1="62.6" x2="1299.4" y2="892.0" stroke="#262626" stroke-opacity="0.2" stroke-width="4.6" stroke-dasharray="28.6 15.9" stroke-dashoffset="38.9"/>
<line x1="279.6" y1="64.8" x2="1299.0" y2="64.8" stroke="#262626" stroke-opacity="0.2" stroke-width="4.6" stroke-dasharray="28.6 15.9" stroke-dashoffset="27.2"/>
<line x1="279.6" y1="184.0" x2="1299.0" y2="184.0" stroke="#262626" stroke-opacity="0.2" stroke-width="4.6" stroke-dasharray="28.6 15.9" stroke-dashoffset="27.2"/>
<line x1="279.6" y1="303.2" x2="1299.0" y2="303.2" stroke="#262626" stroke-opacity="0.2" stroke-width="4.6" stroke-dasharray="28.6 15.9" stroke-dashoffset="27.2"/>
<line x1="279.6" y1="422.4" x2="1299.0" y2="422.4" stroke="#262626" stroke-opacity="0.2" stroke-width="4.6" stroke-dasharray="28.6 15.9" stroke-dashoffset="27.2"/>
<line x1="279.6" y1="541.6" x2="1299.0" y2="541.6" stroke="#262626" stroke-opacity="0.2" stroke-width="4.6" stroke-dasharray="28.6 15.9" stroke-dashoffset="27.2"/>
<line x1="279.6" y1="660.8" x2="1299.0" y2="660.8" stroke="#262626" stroke-opacity="0.2" stroke-width="4.6" stroke-dasharray="28.6 15.9" stroke-dashoffset="27.2"/>
<line x1="279.6" y1="780.0" x2="1299.0" y2="780.0" stroke="#262626" stroke-opacity="0.2" stroke-width="4.6" stroke-dasharray="28.6 15.9" stroke-dashoffset="27.2"/>
<g stroke="#262626" stroke-width="4.5" clip-path="url(#c2808)">
<line x1="274.6" y1="62.6" x2="274.6" y2="73.1"/><line x1="274.6" y1="892.0" x2="274.6" y2="881.5"/>
<line x1="388.5" y1="62.6" x2="388.5" y2="73.1"/><line x1="388.5" y1="892.0" x2="388.5" y2="881.5"/>
<line x1="502.3" y1="62.6" x2="502.3" y2="73.1"/><line x1="502.3" y1="892.0" x2="502.3" y2="881.5"/>
<line x1="616.2" y1="62.6" x2="616.2" y2="73.1"/><line x1="616.2" y1="892.0" x2="616.2" y2="881.5"/>
<line x1="730.1" y1="62.6" x2="730.1" y2="73.1"/><line x1="730.1" y1="892.0" x2="730.1" y2="881.5"/>
<line x1="843.9" y1="62.6" x2="843.9" y2="73.1"/><line x1="843.9" y1="892.0" x2="843.9" y2="881.5"/>
<line x1="957.8" y1="62.6" x2="957.8" y2="73.1"/><line x1="957.8" y1="892.0" x2="957.8" y2="881.5"/>
<line x1="1071.7" y1="62.6" x2="1071.7" y2="73.1"/><line x1="1071.7" y1="892.0" x2="1071.7" y2="881.5"/>
<line x1="1185.5" y1="62.6" x2="1185.5" y2="73.1"/><line x1="1185.5" y1="892.0" x2="1185.5" y2="881.5"/>
<line x1="1299.4" y1="62.6" x2="1299.4" y2="73.1"/><line x1="1299.4" y1="892.0" x2="1299.4" y2="881.5"/>
<line x1="279.6" y1="64.8" x2="290.1" y2="64.8"/><line x1="1299.0" y1="64.8" x2="1288.5" y2="64.8"/>
<line x1="279.6" y1="184.0" x2="290.1" y2="184.0"/><line x1="1299.0" y1="184.0" x2="1288.5" y2="184.0"/>
<line x1="279.6" y1="303.2" x2="290.1" y2="303.2"/><line x1="1299.0" y1="303.2" x2="1288.5" y2="303.2"/>
<line x1="279.6" y1="422.4" x2="290.1" y2="422.4"/><line x1="1299.0" y1="422.4" x2="1288.5" y2="422.4"/>
<line x1="279.6" y1="541.6" x2="290.1" y2="541.6"/><line x1="1299.0" y1="541.6" x2="1288.5" y2="541.6"/>
<line x1="279.6" y1="660.8" x2="290.1" y2="660.8"/><line x1="1299.0" y1="660.8" x2="1288.5" y2="660.8"/>
<line x1="279.6" y1="780.0" x2="290.1" y2="780.0"/><line x1="1299.0" y1="780.0" x2="1288.5" y2="780.0"/>
</g>
<rect x="277.30" y="60.30" width="1024.00" height="834.00" fill="none" stroke="#262626" stroke-width="4.6"/>
<g font-size="59" fill="#262626" stroke="#262626" stroke-width="0.9" text-anchor="end">
<text x="259" y="84.9">100</text>
<text x="259" y="204.1">0</text>
<text x="259" y="323.3">−100</text>
<text x="259" y="442.5">−200</text>
<text x="259" y="561.7">−300</text>
<text x="259" y="680.9">−400</text>
<text x="259" y="800.1">−500</text>
<text x="424.5" y="953.6" transform="rotate(-45 424.5 953.6)">−70</text>
<text x="538.3" y="953.6" transform="rotate(-45 538.3 953.6)">−50</text>
<text x="652.2" y="953.6" transform="rotate(-45 652.2 953.6)">−30</text>
<text x="766.1" y="953.6" transform="rotate(-45 766.1 953.6)">−10</text>
<text x="879.9" y="953.6" transform="rotate(-45 879.9 953.6)">10</text>
<text x="993.8" y="953.6" transform="rotate(-45 993.8 953.6)">30</text>
<text x="1107.7" y="953.6" transform="rotate(-45 1107.7 953.6)">50</text>
<text x="1221.5" y="953.6" transform="rotate(-45 1221.5 953.6)">70</text>
<text x="1335.4" y="953.6" transform="rotate(-45 1335.4 953.6)">90</text>
</g>
<rect x="386.2" y="321" width="415.3" height="264.8" fill="#fff"/>
<g fill="none" stroke-width="8.6">
<path d="M397.0 546.8 L402.0 546.8 L407.0 546.7 L412.0 546.7 L416.9 546.6 L421.9 546.6 L426.9 546.5 L431.9 546.5 L436.9 546.4 L441.9 546.4 L446.9 546.3 L451.9 546.3 L456.8 546.2 L461.8 546.2 L466.8 546.1 L471.8 546.1 L476.8 546.0 L481.8 546.0 L486.8 545.9 L491.8 545.9 L496.7 545.8 L501.7 545.8 L506.7 545.7 L511.7 545.7 L516.7 545.6 L521.7 545.6 L526.7 545.5 L531.7 545.5 L536.6 545.4 L541.6 545.4 L546.6 545.3 L551.6 545.3 L556.6 545.2 L561.6 545.2 L566.6 545.1 L571.6 545.1 L576.5 545.0 L581.5 545.0 L586.5 544.9 L591.5 544.9 L596.5 544.8 L601.5 544.8 L606.5 544.7 L611.5 544.7 L616.4 544.6 L621.4 544.6 L626.4 544.5 L631.4 544.5 L636.4 544.4 L641.4 544.4 L646.4 544.3 L651.4 544.3 L656.3 544.2 L661.3 544.2 L666.3 544.1 L671.3 544.1 L676.3 544.0 L681.3 544.0 L686.3 543.9 L691.3 543.9 L696.2 543.8 L701.2 543.8 L706.2 543.7 L711.2 543.7 L716.2 543.6 L721.2 543.6 L726.2 543.5 L731.2 543.5 L736.1 543.4 L741.1 543.4 L746.1 543.3 L751.1 543.3 L756.1 543.2 L761.1 543.2 L766.1 543.1 L771.1 543.1 L776.0 543.0 L781.0 543.0 L786.0 542.9 L791.0 542.9" stroke="#F396AA"/>
<path d="M397.0 473.6 L402.0 473.6 L407.0 473.6 L412.0 473.6 L416.9 473.6 L421.9 473.6 L426.9 473.6 L431.9 473.6 L436.9 473.6 L441.9 473.6 L446.9 473.6 L451.9 473.6 L456.8 473.6 L461.8 473.6 L466.8 473.5 L471.8 473.5 L476.8 473.5 L481.8 473.5 L486.8 473.5 L491.8 473.5 L496.7 473.5 L501.7 473.5 L506.7 473.5 L511.7 473.5 L516.7 473.5 L521.7 473.5 L526.7 473.5 L531.7 473.5 L536.6 473.5 L541.6 473.5 L546.6 473.5 L551.6 473.5 L556.6 473.5 L561.6 473.5 L566.6 473.5 L571.6 473.5 L576.5 473.5 L581.5 473.5 L586.5 473.5 L591.5 473.5 L596.5 473.4 L601.5 473.4 L606.5 473.4 L611.5 473.4 L616.4 473.4 L621.4 473.4 L626.4 473.4 L631.4 473.4 L636.4 473.4 L641.4 473.4 L646.4 473.4 L651.4 473.4 L656.3 473.4 L661.3 473.4 L666.3 473.4 L671.3 473.4 L676.3 473.4 L681.3 473.4 L686.3 473.4 L691.3 473.4 L696.2 473.4 L701.2 473.4 L706.2 473.4 L711.2 473.4 L716.2 473.4 L721.2 473.4 L726.2 473.3 L731.2 473.3 L736.1 473.3 L741.1 473.3 L746.1 473.3 L751.1 473.3 L756.1 473.3 L761.1 473.3 L766.1 473.3 L771.1 473.3 L776.0 473.3 L781.0 473.3 L786.0 473.3 L791.0 473.3" stroke="#1A1A1A"/>
<path d="M397.0 443.8 L402.0 443.8 L407.0 443.7 L412.0 443.7 L416.9 443.7 L421.9 443.6 L426.9 443.6 L431.9 443.5 L436.9 443.5 L441.9 443.5 L446.9 443.4 L451.9 443.4 L456.8 443.4 L461.8 443.3 L466.8 443.3 L471.8 443.3 L476.8 443.2 L481.8 443.2 L486.8 443.2 L491.8 443.2 L496.7 443.1 L501.7 443.1 L506.7 443.1 L511.7 443.1 L516.7 443.0 L521.7 443.0 L526.7 443.0 L531.7 443.0 L536.6 442.9 L541.6 442.9 L546.6 442.9 L551.6 442.9 L556.6 442.9 L561.6 442.9 L566.6 442.8 L571.6 442.8 L576.5 442.8 L581.5 442.8 L586.5 442.8 L591.5 442.8 L596.5 442.8 L601.5 442.8 L606.5 442.8 L611.5 442.8 L616.4 442.8 L621.4 442.8 L626.4 442.8 L631.4 442.8 L636.4 442.8 L641.4 442.8 L646.4 442.9 L651.4 442.9 L656.3 442.9 L661.3 442.9 L666.3 442.9 L671.3 442.9 L676.3 443.0 L681.3 443.0 L686.3 443.0 L691.3 443.0 L696.2 443.0 L701.2 443.1 L706.2 443.1 L711.2 443.1 L716.2 443.1 L721.2 443.2 L726.2 443.2 L731.2 443.2 L736.1 443.3 L741.1 443.3 L746.1 443.3 L751.1 443.3 L756.1 443.4 L761.1 443.4 L766.1 443.4 L771.1 443.5 L776.0 443.5 L781.0 443.5 L786.0 443.6 L791.0 443.6" stroke="#8DB44A"/>
<path d="M397.0 422.9 L402.0 422.9 L407.0 422.8 L412.0 422.8 L416.9 422.8 L421.9 422.7 L426.9 422.7 L431.9 422.7 L436.9 422.6 L441.9 422.6 L446.9 422.6 L451.9 422.5 L456.8 422.5 L461.8 422.5 L466.8 422.4 L471.8 422.4 L476.8 422.4 L481.8 422.4 L486.8 422.3 L491.8 422.3 L496.7 422.3 L501.7 422.3 L506.7 422.2 L511.7 422.2 L516.7 422.2 L521.7 422.2 L526.7 422.1 L531.7 422.1 L536.6 422.1 L541.6 422.1 L546.6 422.1 L551.6 422.1 L556.6 422.0 L561.6 422.0 L566.6 422.0 L571.6 422.0 L576.5 422.0 L581.5 422.0 L586.5 422.0 L591.5 422.0 L596.5 422.0 L601.5 422.0 L606.5 422.0 L611.5 422.0 L616.4 422.0 L621.4 422.0 L626.4 422.0 L631.4 422.0 L636.4 422.1 L641.4 422.1 L646.4 422.1 L651.4 422.1 L656.3 422.1 L661.3 422.1 L666.3 422.2 L671.3 422.2 L676.3 422.2 L681.3 422.2 L686.3 422.2 L691.3 422.3 L696.2 422.3 L701.2 422.3 L706.2 422.3 L711.2 422.4 L716.2 422.4 L721.2 422.4 L726.2 422.5 L731.2 422.5 L736.1 422.5 L741.1 422.6 L746.1 422.6 L751.1 422.6 L756.1 422.7 L761.1 422.7 L766.1 422.7 L771.1 422.8 L776.0 422.8 L781.0 422.8 L786.0 422.9 L791.0 422.9" stroke="#005BAC"/>
<path d="M397.0 410.3 L402.0 410.3 L407.0 410.2 L412.0 410.2 L416.9 410.1 L421.9 410.1 L426.9 410.0 L431.9 410.0 L436.9 409.9 L441.9 409.9 L446.9 409.9 L451.9 409.8 L456.8 409.8 L461.8 409.7 L466.8 409.7 L471.8 409.6 L476.8 409.6 L481.8 409.5 L486.8 409.5 L491.8 409.5 L496.7 409.4 L501.7 409.4 L506.7 409.3 L511.7 409.3 L516.7 409.2 L521.7 409.2 L526.7 409.1 L531.7 409.1 L536.6 409.1 L541.6 409.0 L546.6 409.0 L551.6 408.9 L556.6 408.9 L561.6 408.8 L566.6 408.8 L571.6 408.7 L576.5 408.7 L581.5 408.7 L586.5 408.6 L591.5 408.6 L596.5 408.5 L601.5 408.5 L606.5 408.4 L611.5 408.4 L616.4 408.4 L621.4 408.3 L626.4 408.3 L631.4 408.2 L636.4 408.2 L641.4 408.1 L646.4 408.1 L651.4 408.0 L656.3 408.0 L661.3 408.0 L666.3 407.9 L671.3 407.9 L676.3 407.8 L681.3 407.8 L686.3 407.7 L691.3 407.7 L696.2 407.6 L701.2 407.6 L706.2 407.6 L711.2 407.5 L716.2 407.5 L721.2 407.4 L726.2 407.4 L731.2 407.3 L736.1 407.3 L741.1 407.2 L746.1 407.2 L751.1 407.2 L756.1 407.1 L761.1 407.1 L766.1 407.0 L771.1 407.0 L776.0 406.9 L781.0 406.9 L786.0 406.8 L791.0 406.8" stroke="#C81A44"/>
</g>
<line x1="396.7" y1="378.9" x2="791.0" y2="378.9" stroke="#262626" stroke-opacity="0.2" stroke-width="9.9" stroke-dasharray="34 32.5" stroke-dashoffset="34.2"/>
<line x1="396.7" y1="455.6" x2="791.0" y2="455.6" stroke="#262626" stroke-opacity="0.2" stroke-width="9.9" stroke-dasharray="34 32.5" stroke-dashoffset="34.2"/>
<line x1="396.7" y1="532.3" x2="791.0" y2="532.3" stroke="#262626" stroke-opacity="0.2" stroke-width="9.9" stroke-dasharray="34 32.5" stroke-dashoffset="34.2"/>
<line x1="410" y1="331.5" x2="410" y2="575.3" stroke="#262626" stroke-opacity="0.2" stroke-width="9.9" stroke-dasharray="34 32.5" stroke-dashoffset="49.4"/>
<g stroke="#262626" stroke-width="10">
<line x1="396.7" y1="378.9" x2="400.7" y2="378.9"/><line x1="791.0" y1="378.9" x2="787.0" y2="378.9"/>
<line x1="396.7" y1="455.6" x2="400.7" y2="455.6"/><line x1="791.0" y1="455.6" x2="787.0" y2="455.6"/>
<line x1="396.7" y1="532.3" x2="400.7" y2="532.3"/><line x1="791.0" y1="532.3" x2="787.0" y2="532.3"/>
<line x1="410" y1="331.5" x2="410" y2="335.5"/><line x1="410" y1="575.3" x2="410" y2="571.3"/>
</g>
<rect x="391.45" y="326.25" width="404.80" height="254.30" fill="none" stroke="#262626" stroke-width="10.5"/>
<g font-size="57" fill="#262626" stroke="#262626" stroke-width="0.9">
<text x="370" y="397.7" text-anchor="end">6</text>
<text x="370" y="474.4" text-anchor="end">4</text>
<text x="370" y="551.1" text-anchor="end">2</text>
<text x="409" y="654" text-anchor="middle">−30</text>
</g>
<line x1="599.5" y1="208" x2="601.5" y2="290" stroke="#000" stroke-width="7.5"/>
<polygon points="602.3,312.5 616.0,274.1 601.5,283.5 587.0,275.1" fill="#000"/>
<rect x="1376.9" y="59.9" width="383.2" height="363.1" fill="#fff" stroke="#262626" stroke-width="4.0"/>
<line x1="1387.9" y1="100.5" x2="1500" y2="100.5" stroke="#F396AA" stroke-width="8.6"/>
<text x="1508" y="122.6" font-size="58" fill="#000" stroke="#000" stroke-width="0.9" textLength="237.6" lengthAdjust="spacing"><tspan font-style="italic">cl</tspan>=1.2<tspan font-style="italic">μ</tspan>m</text>
<line x1="1387.9" y1="171.1" x2="1500" y2="171.1" stroke="#1A1A1A" stroke-width="8.6"/>
<text x="1508" y="193.2" font-size="58" fill="#000" stroke="#000" stroke-width="0.9" textLength="237.6" lengthAdjust="spacing"><tspan font-style="italic">cl</tspan>=3.2<tspan font-style="italic">μ</tspan>m</text>
<line x1="1387.9" y1="241.7" x2="1500" y2="241.7" stroke="#8DB44A" stroke-width="8.6"/>
<text x="1508" y="263.8" font-size="58" fill="#000" stroke="#000" stroke-width="0.9" textLength="237.6" lengthAdjust="spacing"><tspan font-style="italic">cl</tspan>=5.2<tspan font-style="italic">μ</tspan>m</text>
<line x1="1387.9" y1="312.3" x2="1500" y2="312.3" stroke="#005BAC" stroke-width="8.6"/>
<text x="1508" y="334.4" font-size="58" fill="#000" stroke="#000" stroke-width="0.9" textLength="237.6" lengthAdjust="spacing"><tspan font-style="italic">cl</tspan>=7.2<tspan font-style="italic">μ</tspan>m</text>
<line x1="1387.9" y1="382.9" x2="1500" y2="382.9" stroke="#C81A44" stroke-width="8.6"/>
<text x="1508" y="405.0" font-size="58" fill="#000" stroke="#000" stroke-width="0.9" textLength="237.6" lengthAdjust="spacing"><tspan font-style="italic">cl</tspan>=9.2<tspan font-style="italic">μ</tspan>m</text>
<g font-size="52" fill="#000" stroke="#000" stroke-width="0.9">
<text x="1381.6" y="544.1" textLength="121.5" lengthAdjust="spacing"><tspan font-style="italic">α</tspan>=0.5</text>
<text x="1381.6" y="605.1" textLength="142.7" lengthAdjust="spacing"><tspan font-style="italic">θ</tspan><tspan font-style="italic" font-size="37.4" dy="26.0">i</tspan><tspan dy="-26.0">=30°</tspan></text>
<text x="1381.6" y="688" textLength="189.9" lengthAdjust="spacing"><tspan font-style="italic">δ</tspan>=0.1<tspan font-style="italic">μ</tspan>m</text>
<text x="1381.6" y="749.4" textLength="246.4" lengthAdjust="spacing"><tspan font-style="italic">λ</tspan>=0.532<tspan font-style="italic">μ</tspan>m</text>
</g>
<text x="85.5" y="477" font-size="69" fill="#262626" stroke="#262626" stroke-width="0.9" text-anchor="middle" transform="rotate(-90 85.5 477)"><tspan font-style="italic">σ</tspan><tspan font-style="italic" font-size="51.8" dy="29.0">i</tspan><tspan dy="-29.0">(dB)</tspan></text>
<text x="508" y="1094" font-size="66" fill="#262626" stroke="#262626" stroke-width="0.9" textLength="563.6" lengthAdjust="spacing">Scattering angle(<tspan font-style="italic">θ</tspan><tspan font-size="47.5" dy="29.7">s</tspan><tspan dy="-29.7">/°)</tspan></text>
<text x="644.8" y="1225.2" font-size="83" fill="#000" textLength="579.2" lengthAdjust="spacingAndGlyphs">(<tspan font-weight="bold">a</tspan>) <tspan font-style="italic">λ</tspan> = 0.532 μm</text>
<rect x="275" y="1333.8" width="1013.1" height="828.7" fill="#F2F2F2"/>
<clipPath id="c4083"><rect x="279.6" y="0" width="1003.9" height="3804"/></clipPath>
<g fill="none" stroke-width="8.6" stroke-linejoin="round" clip-path="url(#c4083)">
<path d="M277.3 1385.0 L280.1 1384.8 L282.9 1384.5 L285.7 1384.2 L288.5 1383.9 L291.3 1383.6 L294.1 1383.3 L297.0 1383.0 L299.8 1382.7 L302.6 1382.5 L305.4 1382.2 L308.2 1381.9 L311.0 1381.6 L313.8 1381.3 L316.6 1381.0 L319.4 1380.7 L322.2 1380.4 L325.0 1380.1 L327.8 1379.8 L330.6 1379.5 L333.5 1379.2 L336.3 1378.9 L339.1 1378.5 L341.9 1378.2 L344.7 1377.9 L347.5 1377.6 L350.3 1377.3 L353.1 1376.9 L355.9 1376.6 L358.7 1376.3 L361.5 1375.9 L364.3 1375.6 L367.1 1375.3 L370.0 1374.9 L372.8 1374.5 L375.6 1374.2 L378.4 1373.8 L381.2 1373.5 L384.0 1373.1 L386.8 1372.7 L389.6 1372.3 L392.4 1372.0 L395.2 1371.6 L398.0 1371.2 L400.8 1370.8 L403.7 1370.4 L406.5 1370.0 L409.3 1369.6 L412.1 1369.2 L414.9 1368.8 L417.7 1368.4 L420.5 1367.9 L423.3 1367.5 L426.1 1367.1 L428.9 1366.7 L431.7 1366.3 L434.5 1365.9 L437.3 1365.5 L440.2 1365.1 L443.0 1364.7 L445.8 1364.3 L448.6 1363.9 L451.4 1363.5 L454.2 1363.1 L457.0 1362.7 L459.8 1362.3 L462.6 1362.0 L465.4 1361.6 L468.2 1361.2 L471.0 1360.9 L473.8 1360.5 L476.7 1360.2 L479.5 1359.8 L482.3 1359.5 L485.1 1359.2 L487.9 1358.9 L490.7 1358.6 L493.5 1358.3 L496.3 1358.0 L499.1 1357.7 L501.9 1357.4 L504.7 1357.2 L507.5 1357.0 L510.3 1356.7 L513.2 1356.5 L516.0 1356.3 L518.8 1356.1 L521.6 1355.9 L524.4 1355.7 L527.2 1355.5 L530.0 1355.3 L532.8 1355.2 L535.6 1355.0 L538.4 1354.9 L541.2 1354.7 L544.0 1354.6 L546.8 1354.5 L549.7 1354.4 L552.5 1354.2 L555.3 1354.1 L558.1 1354.0 L560.9 1353.9 L563.7 1353.8 L566.5 1353.7 L569.3 1353.6 L572.1 1353.5 L574.9 1353.5 L577.7 1353.4 L580.5 1353.3 L583.4 1353.2 L586.2 1353.2 L589.0 1353.1 L591.8 1353.0 L594.6 1353.0 L597.4 1352.9 L600.2 1352.8 L603.0 1352.7 L605.8 1352.7 L608.6 1352.6 L611.4 1352.5 L614.2 1352.5 L617.0 1352.4 L619.9 1352.3 L622.7 1352.3 L625.5 1352.2 L628.3 1352.1 L631.1 1352.0 L633.9 1352.0 L636.7 1351.9 L639.5 1351.8 L642.3 1351.8 L645.1 1351.7 L647.9 1351.6 L650.7 1351.6 L653.5 1351.5 L656.4 1351.4 L659.2 1351.4 L662.0 1351.3 L664.8 1351.2 L667.6 1351.2 L670.4 1351.1 L673.2 1351.1 L676.0 1351.0 L678.8 1351.0 L681.6 1351.0 L684.4 1350.9 L687.2 1350.9 L690.0 1350.9 L692.9 1350.8 L695.7 1350.8 L698.5 1350.8 L701.3 1350.8 L704.1 1350.8 L706.9 1350.8 L709.7 1350.8 L712.5 1350.8 L715.3 1350.9 L718.1 1350.9 L720.9 1350.9 L723.7 1351.0 L726.5 1351.0 L729.4 1351.1 L732.2 1351.1 L735.0 1351.2 L737.8 1351.3 L740.6 1351.3 L743.4 1351.4 L746.2 1351.5 L749.0 1351.6 L751.8 1351.7 L754.6 1351.8 L757.4 1351.9 L760.2 1352.0 L763.0 1352.2 L765.9 1352.3 L768.7 1352.4 L771.5 1352.6 L774.3 1352.7 L777.1 1352.8 L779.9 1353.0 L782.7 1353.1 L785.5 1353.3 L788.3 1353.5 L791.1 1353.6 L793.9 1353.8 L796.7 1354.0 L799.6 1354.1 L802.4 1354.3 L805.2 1354.5 L808.0 1354.6 L810.8 1354.8 L813.6 1355.0 L816.4 1355.2 L819.2 1355.4 L822.0 1355.5 L824.8 1355.7 L827.6 1355.9 L830.4 1356.1 L833.2 1356.3 L836.1 1356.5 L838.9 1356.7 L841.7 1356.9 L844.5 1357.0 L847.3 1357.2 L850.1 1357.4 L852.9 1357.6 L855.7 1357.8 L858.5 1358.0 L861.3 1358.2 L864.1 1358.4 L866.9 1358.6 L869.7 1358.8 L872.6 1359.0 L875.4 1359.2 L878.2 1359.4 L881.0 1359.7 L883.8 1359.9 L886.6 1360.1 L889.4 1360.4 L892.2 1360.6 L895.0 1360.8 L897.8 1361.1 L900.6 1361.4 L903.4 1361.6 L906.2 1361.9 L909.1 1362.2 L911.9 1362.4 L914.7 1362.7 L917.5 1363.0 L920.3 1363.3 L923.1 1363.7 L925.9 1364.0 L928.7 1364.3 L931.5 1364.7 L934.3 1365.0 L937.1 1365.4 L939.9 1365.7 L942.7 1366.1 L945.6 1366.5 L948.4 1366.9 L951.2 1367.3 L954.0 1367.7 L956.8 1368.2 L959.6 1368.6 L962.4 1369.0 L965.2 1369.5 L968.0 1369.9 L970.8 1370.3 L973.6 1370.8 L976.4 1371.2 L979.2 1371.6 L982.1 1372.0 L984.9 1372.4 L987.7 1372.8 L990.5 1373.1 L993.3 1373.5 L996.1 1373.8 L998.9 1374.1 L1001.7 1374.5 L1004.5 1374.8 L1007.3 1375.1 L1010.1 1375.4 L1012.9 1375.7 L1015.8 1376.0 L1018.6 1376.2 L1021.4 1376.5 L1024.2 1376.8 L1027.0 1377.1 L1029.8 1377.3 L1032.6 1377.6 L1035.4 1377.8 L1038.2 1378.1 L1041.0 1378.3 L1043.8 1378.6 L1046.6 1378.9 L1049.4 1379.1 L1052.3 1379.4 L1055.1 1379.6 L1057.9 1379.9 L1060.7 1380.2 L1063.5 1380.4 L1066.3 1380.7 L1069.1 1381.0 L1071.9 1381.3 L1074.7 1381.6 L1077.5 1381.8 L1080.3 1382.1 L1083.1 1382.4 L1085.9 1382.7 L1088.8 1383.0 L1091.6 1383.3 L1094.4 1383.6 L1097.2 1383.9 L1100.0 1384.3 L1102.8 1384.6 L1105.6 1384.9 L1108.4 1385.2 L1111.2 1385.5 L1114.0 1385.9 L1116.8 1386.2 L1119.6 1386.5 L1122.4 1386.9 L1125.3 1387.2 L1128.1 1387.5 L1130.9 1387.9 L1133.7 1388.2 L1136.5 1388.6 L1139.3 1388.9 L1142.1 1389.3 L1144.9 1389.6 L1147.7 1390.0 L1150.5 1390.3 L1153.3 1390.7 L1156.1 1391.0 L1158.9 1391.3 L1161.8 1391.7 L1164.6 1392.0 L1167.4 1392.4 L1170.2 1392.7 L1173.0 1393.1 L1175.8 1393.4 L1178.6 1393.7 L1181.4 1394.1 L1184.2 1394.4 L1187.0 1394.7 L1189.8 1395.1 L1192.6 1395.4 L1195.5 1395.7 L1198.3 1396.1 L1201.1 1396.4 L1203.9 1396.7 L1206.7 1397.0 L1209.5 1397.4 L1212.3 1397.7 L1215.1 1398.0 L1217.9 1398.3 L1220.7 1398.7 L1223.5 1399.0 L1226.3 1399.3 L1229.1 1399.6 L1232.0 1399.9 L1234.8 1400.3 L1237.6 1400.6 L1240.4 1400.9 L1243.2 1401.2 L1246.0 1401.6 L1248.8 1401.9 L1251.6 1402.2 L1254.4 1402.5 L1257.2 1402.9 L1260.0 1403.2 L1262.8 1403.5 L1265.6 1403.8 L1268.5 1404.2 L1271.3 1404.5 L1274.1 1404.8 L1276.9 1405.1 L1279.7 1405.5 L1282.5 1405.8 L1285.3 1406.1" stroke="#F396AA"/>
<path d="M277.3 1409.0 L280.1 1408.4 L282.9 1407.8 L285.7 1407.2 L288.5 1406.6 L291.3 1406.0 L294.1 1405.4 L297.0 1404.8 L299.8 1404.2 L302.6 1403.6 L305.4 1403.0 L308.2 1402.4 L311.0 1401.8 L313.8 1401.2 L316.6 1400.6 L319.4 1400.0 L322.2 1399.4 L325.0 1398.8 L327.8 1398.2 L330.6 1397.6 L333.5 1397.0 L336.3 1396.4 L339.1 1395.8 L341.9 1395.2 L344.7 1394.6 L347.5 1394.0 L350.3 1393.4 L353.1 1392.8 L355.9 1392.2 L358.7 1391.6 L361.5 1391.0 L364.3 1390.4 L367.1 1389.8 L370.0 1389.2 L372.8 1388.6 L375.6 1388.0 L378.4 1387.4 L381.2 1386.8 L384.0 1386.2 L386.8 1385.5 L389.6 1384.9 L392.4 1384.3 L395.2 1383.7 L398.0 1383.1 L400.8 1382.5 L403.7 1381.9 L406.5 1381.3 L409.3 1380.7 L412.1 1380.1 L414.9 1379.5 L417.7 1378.9 L420.5 1378.3 L423.3 1377.7 L426.1 1377.1 L428.9 1376.5 L431.7 1375.9 L434.5 1375.3 L437.3 1374.7 L440.2 1374.1 L443.0 1373.5 L445.8 1372.9 L448.6 1372.3 L451.4 1371.7 L454.2 1371.1 L457.0 1370.5 L459.8 1369.9 L462.6 1369.3 L465.4 1368.8 L468.2 1368.2 L471.0 1367.6 L473.8 1367.0 L476.7 1366.4 L479.5 1365.8 L482.3 1365.3 L485.1 1364.7 L487.9 1364.1 L490.7 1363.6 L493.5 1363.0 L496.3 1362.4 L499.1 1361.9 L501.9 1361.3 L504.7 1360.8 L507.5 1360.2 L510.3 1359.7 L513.2 1359.1 L516.0 1358.6 L518.8 1358.1 L521.6 1357.5 L524.4 1357.0 L527.2 1356.5 L530.0 1356.0 L532.8 1355.5 L535.6 1355.0 L538.4 1354.5 L541.2 1354.0 L544.0 1353.6 L546.8 1353.1 L549.7 1352.7 L552.5 1352.2 L555.3 1351.8 L558.1 1351.4 L560.9 1351.0 L563.7 1350.6 L566.5 1350.2 L569.3 1349.8 L572.1 1349.5 L574.9 1349.1 L577.7 1348.8 L580.5 1348.5 L583.4 1348.2 L586.2 1347.9 L589.0 1347.7 L591.8 1347.4 L594.6 1347.2 L597.4 1347.0 L600.2 1346.8 L603.0 1346.6 L605.8 1346.5 L608.6 1346.3 L611.4 1346.2 L614.2 1346.1 L617.0 1346.0 L619.9 1346.0 L622.7 1345.9 L625.5 1345.9 L628.3 1345.9 L631.1 1346.0 L633.9 1346.0 L636.7 1346.1 L639.5 1346.1 L642.3 1346.2 L645.1 1346.3 L647.9 1346.5 L650.7 1346.6 L653.5 1346.8 L656.4 1347.0 L659.2 1347.2 L662.0 1347.4 L664.8 1347.6 L667.6 1347.8 L670.4 1348.1 L673.2 1348.4 L676.0 1348.7 L678.8 1349.0 L681.6 1349.3 L684.4 1349.6 L687.2 1349.9 L690.0 1350.3 L692.9 1350.7 L695.7 1351.1 L698.5 1351.5 L701.3 1351.9 L704.1 1352.3 L706.9 1352.7 L709.7 1353.1 L712.5 1353.6 L715.3 1354.1 L718.1 1354.5 L720.9 1355.0 L723.7 1355.5 L726.5 1356.0 L729.4 1356.5 L732.2 1357.1 L735.0 1357.6 L737.8 1358.1 L740.6 1358.7 L743.4 1359.2 L746.2 1359.8 L749.0 1360.4 L751.8 1361.0 L754.6 1361.5 L757.4 1362.1 L760.2 1362.7 L763.0 1363.4 L765.9 1364.0 L768.7 1364.6 L771.5 1365.2 L774.3 1365.9 L777.1 1366.5 L779.9 1367.2 L782.7 1367.8 L785.5 1368.5 L788.3 1369.1 L791.1 1369.8 L793.9 1370.5 L796.7 1371.2 L799.6 1371.8 L802.4 1372.5 L805.2 1373.2 L808.0 1373.9 L810.8 1374.6 L813.6 1375.3 L816.4 1376.0 L819.2 1376.7 L822.0 1377.4 L824.8 1378.1 L827.6 1378.8 L830.4 1379.6 L833.2 1380.3 L836.1 1381.0 L838.9 1381.7 L841.7 1382.4 L844.5 1383.2 L847.3 1383.9 L850.1 1384.6 L852.9 1385.3 L855.7 1386.1 L858.5 1386.8 L861.3 1387.6 L864.1 1388.3 L866.9 1389.0 L869.7 1389.8 L872.6 1390.5 L875.4 1391.3 L878.2 1392.1 L881.0 1392.8 L883.8 1393.6 L886.6 1394.4 L889.4 1395.2 L892.2 1396.0 L895.0 1396.8 L897.8 1397.6 L900.6 1398.4 L903.4 1399.2 L906.2 1400.0 L909.1 1400.8 L911.9 1401.7 L914.7 1402.5 L917.5 1403.4 L920.3 1404.2 L923.1 1405.1 L925.9 1406.0 L928.7 1406.9 L931.5 1407.8 L934.3 1408.7 L937.1 1409.6 L939.9 1410.5 L942.7 1411.5 L945.6 1412.4 L948.4 1413.4 L951.2 1414.3 L954.0 1415.3 L956.8 1416.3 L959.6 1417.3 L962.4 1418.3 L965.2 1419.3 L968.0 1420.3 L970.8 1421.3 L973.6 1422.3 L976.4 1423.2 L979.2 1424.2 L982.1 1425.2 L984.9 1426.1 L987.7 1427.1 L990.5 1428.0 L993.3 1428.9 L996.1 1429.9 L998.9 1430.8 L1001.7 1431.7 L1004.5 1432.6 L1007.3 1433.5 L1010.1 1434.3 L1012.9 1435.2 L1015.8 1436.1 L1018.6 1437.0 L1021.4 1437.8 L1024.2 1438.7 L1027.0 1439.6 L1029.8 1440.4 L1032.6 1441.3 L1035.4 1442.1 L1038.2 1443.0 L1041.0 1443.8 L1043.8 1444.7 L1046.6 1445.5 L1049.4 1446.4 L1052.3 1447.3 L1055.1 1448.1 L1057.9 1449.0 L1060.7 1449.8 L1063.5 1450.7 L1066.3 1451.6 L1069.1 1452.5 L1071.9 1453.3 L1074.7 1454.2 L1077.5 1455.1 L1080.3 1456.0 L1083.1 1456.9 L1085.9 1457.8 L1088.8 1458.7 L1091.6 1459.6 L1094.4 1460.5 L1097.2 1461.4 L1100.0 1462.3 L1102.8 1463.2 L1105.6 1464.1 L1108.4 1465.0 L1111.2 1465.9 L1114.0 1466.8 L1116.8 1467.7 L1119.6 1468.6 L1122.4 1469.5 L1125.3 1470.4 L1128.1 1471.3 L1130.9 1472.2 L1133.7 1473.1 L1136.5 1473.9 L1139.3 1474.8 L1142.1 1475.7 L1144.9 1476.6 L1147.7 1477.5 L1150.5 1478.3 L1153.3 1479.2 L1156.1 1480.1 L1158.9 1480.9 L1161.8 1481.8 L1164.6 1482.6 L1167.4 1483.4 L1170.2 1484.3 L1173.0 1485.1 L1175.8 1485.9 L1178.6 1486.7 L1181.4 1487.5 L1184.2 1488.3 L1187.0 1489.1 L1189.8 1489.8 L1192.6 1490.6 L1195.5 1491.4 L1198.3 1492.1 L1201.1 1492.9 L1203.9 1493.6 L1206.7 1494.4 L1209.5 1495.1 L1212.3 1495.9 L1215.1 1496.6 L1217.9 1497.3 L1220.7 1498.1 L1223.5 1498.8 L1226.3 1499.5 L1229.1 1500.3 L1232.0 1501.0 L1234.8 1501.7 L1237.6 1502.5 L1240.4 1503.2 L1243.2 1503.9 L1246.0 1504.7 L1248.8 1505.4 L1251.6 1506.1 L1254.4 1506.8 L1257.2 1507.6 L1260.0 1508.3 L1262.8 1509.0 L1265.6 1509.8 L1268.5 1510.5 L1271.3 1511.2 L1274.1 1512.0 L1276.9 1512.7 L1279.7 1513.4 L1282.5 1514.1 L1285.3 1514.9" stroke="#1A1A1A"/>
<path d="M277.3 1438.2 L280.1 1437.4 L282.9 1436.5 L285.7 1435.7 L288.5 1434.9 L291.3 1434.1 L294.1 1433.2 L297.0 1432.4 L299.8 1431.6 L302.6 1430.8 L305.4 1429.9 L308.2 1429.1 L311.0 1428.3 L313.8 1427.5 L316.6 1426.6 L319.4 1425.8 L322.2 1425.0 L325.0 1424.2 L327.8 1423.3 L330.6 1422.5 L333.5 1421.7 L336.3 1420.8 L339.1 1420.0 L341.9 1419.2 L344.7 1418.3 L347.5 1417.5 L350.3 1416.7 L353.1 1415.8 L355.9 1415.0 L358.7 1414.1 L361.5 1413.3 L364.3 1412.5 L367.1 1411.6 L370.0 1410.8 L372.8 1409.9 L375.6 1409.1 L378.4 1408.2 L381.2 1407.4 L384.0 1406.5 L386.8 1405.7 L389.6 1404.8 L392.4 1403.9 L395.2 1403.1 L398.0 1402.2 L400.8 1401.4 L403.7 1400.5 L406.5 1399.6 L409.3 1398.8 L412.1 1397.9 L414.9 1397.0 L417.7 1396.2 L420.5 1395.3 L423.3 1394.4 L426.1 1393.5 L428.9 1392.7 L431.7 1391.8 L434.5 1390.9 L437.3 1390.0 L440.2 1389.1 L443.0 1388.2 L445.8 1387.4 L448.6 1386.5 L451.4 1385.6 L454.2 1384.7 L457.0 1383.8 L459.8 1382.9 L462.6 1382.0 L465.4 1381.1 L468.2 1380.2 L471.0 1379.3 L473.8 1378.4 L476.7 1377.5 L479.5 1376.6 L482.3 1375.7 L485.1 1374.8 L487.9 1373.8 L490.7 1372.9 L493.5 1372.0 L496.3 1371.1 L499.1 1370.2 L501.9 1369.3 L504.7 1368.3 L507.5 1367.4 L510.3 1366.5 L513.2 1365.6 L516.0 1364.7 L518.8 1363.8 L521.6 1362.9 L524.4 1362.0 L527.2 1361.1 L530.0 1360.2 L532.8 1359.3 L535.6 1358.5 L538.4 1357.6 L541.2 1356.8 L544.0 1356.0 L546.8 1355.2 L549.7 1354.4 L552.5 1353.6 L555.3 1352.9 L558.1 1352.2 L560.9 1351.4 L563.7 1350.8 L566.5 1350.1 L569.3 1349.5 L572.1 1348.9 L574.9 1348.3 L577.7 1347.8 L580.5 1347.3 L583.4 1346.8 L586.2 1346.3 L589.0 1345.9 L591.8 1345.5 L594.6 1345.2 L597.4 1344.9 L600.2 1344.6 L603.0 1344.4 L605.8 1344.2 L608.6 1344.0 L611.4 1343.9 L614.2 1343.9 L617.0 1343.8 L619.9 1343.9 L622.7 1343.9 L625.5 1344.1 L628.3 1344.2 L631.1 1344.4 L633.9 1344.6 L636.7 1344.9 L639.5 1345.2 L642.3 1345.5 L645.1 1345.9 L647.9 1346.3 L650.7 1346.8 L653.5 1347.3 L656.4 1347.8 L659.2 1348.3 L662.0 1348.9 L664.8 1349.4 L667.6 1350.1 L670.4 1350.7 L673.2 1351.4 L676.0 1352.1 L678.8 1352.8 L681.6 1353.5 L684.4 1354.3 L687.2 1355.1 L690.0 1355.9 L692.9 1356.7 L695.7 1357.5 L698.5 1358.3 L701.3 1359.2 L704.1 1360.1 L706.9 1361.0 L709.7 1361.9 L712.5 1362.8 L715.3 1363.7 L718.1 1364.6 L720.9 1365.6 L723.7 1366.5 L726.5 1367.5 L729.4 1368.4 L732.2 1369.4 L735.0 1370.3 L737.8 1371.3 L740.6 1372.3 L743.4 1373.3 L746.2 1374.3 L749.0 1375.3 L751.8 1376.3 L754.6 1377.3 L757.4 1378.3 L760.2 1379.3 L763.0 1380.3 L765.9 1381.4 L768.7 1382.4 L771.5 1383.5 L774.3 1384.5 L777.1 1385.6 L779.9 1386.7 L782.7 1387.8 L785.5 1388.9 L788.3 1390.0 L791.1 1391.1 L793.9 1392.2 L796.7 1393.4 L799.6 1394.5 L802.4 1395.7 L805.2 1396.9 L808.0 1398.0 L810.8 1399.2 L813.6 1400.4 L816.4 1401.6 L819.2 1402.9 L822.0 1404.1 L824.8 1405.3 L827.6 1406.6 L830.4 1407.9 L833.2 1409.1 L836.1 1410.4 L838.9 1411.8 L841.7 1413.1 L844.5 1414.4 L847.3 1415.7 L850.1 1417.1 L852.9 1418.5 L855.7 1419.9 L858.5 1421.3 L861.3 1422.7 L864.1 1424.1 L866.9 1425.5 L869.7 1427.0 L872.6 1428.4 L875.4 1429.9 L878.2 1431.4 L881.0 1432.8 L883.8 1434.3 L886.6 1435.9 L889.4 1437.4 L892.2 1438.9 L895.0 1440.5 L897.8 1442.0 L900.6 1443.6 L903.4 1445.2 L906.2 1446.8 L909.1 1448.4 L911.9 1450.0 L914.7 1451.6 L917.5 1453.2 L920.3 1454.9 L923.1 1456.5 L925.9 1458.2 L928.7 1459.9 L931.5 1461.6 L934.3 1463.3 L937.1 1465.0 L939.9 1466.7 L942.7 1468.4 L945.6 1470.1 L948.4 1471.9 L951.2 1473.7 L954.0 1475.4 L956.8 1477.2 L959.6 1479.0 L962.4 1480.7 L965.2 1482.5 L968.0 1484.3 L970.8 1486.1 L973.6 1487.8 L976.4 1489.6 L979.2 1491.4 L982.1 1493.1 L984.9 1494.8 L987.7 1496.5 L990.5 1498.3 L993.3 1500.0 L996.1 1501.6 L998.9 1503.3 L1001.7 1505.0 L1004.5 1506.7 L1007.3 1508.3 L1010.1 1510.0 L1012.9 1511.6 L1015.8 1513.3 L1018.6 1514.9 L1021.4 1516.5 L1024.2 1518.1 L1027.0 1519.8 L1029.8 1521.4 L1032.6 1523.0 L1035.4 1524.6 L1038.2 1526.2 L1041.0 1527.8 L1043.8 1529.4 L1046.6 1531.0 L1049.4 1532.6 L1052.3 1534.2 L1055.1 1535.8 L1057.9 1537.4 L1060.7 1539.0 L1063.5 1540.6 L1066.3 1542.2 L1069.1 1543.8 L1071.9 1545.4 L1074.7 1547.1 L1077.5 1548.7 L1080.3 1550.3 L1083.1 1551.9 L1085.9 1553.5 L1088.8 1555.0 L1091.6 1556.6 L1094.4 1558.2 L1097.2 1559.8 L1100.0 1561.3 L1102.8 1562.9 L1105.6 1564.4 L1108.4 1566.0 L1111.2 1567.5 L1114.0 1569.0 L1116.8 1570.5 L1119.6 1572.0 L1122.4 1573.4 L1125.3 1574.9 L1128.1 1576.3 L1130.9 1577.8 L1133.7 1579.2 L1136.5 1580.6 L1139.3 1582.0 L1142.1 1583.4 L1144.9 1584.7 L1147.7 1586.1 L1150.5 1587.5 L1153.3 1588.8 L1156.1 1590.2 L1158.9 1591.5 L1161.8 1592.8 L1164.6 1594.1 L1167.4 1595.4 L1170.2 1596.7 L1173.0 1598.0 L1175.8 1599.3 L1178.6 1600.6 L1181.4 1601.9 L1184.2 1603.2 L1187.0 1604.4 L1189.8 1605.7 L1192.6 1607.0 L1195.5 1608.2 L1198.3 1609.4 L1201.1 1610.7 L1203.9 1611.9 L1206.7 1613.1 L1209.5 1614.3 L1212.3 1615.4 L1215.1 1616.6 L1217.9 1617.7 L1220.7 1618.9 L1223.5 1620.0 L1226.3 1621.1 L1229.1 1622.2 L1232.0 1623.3 L1234.8 1624.3 L1237.6 1625.4 L1240.4 1626.4 L1243.2 1627.4 L1246.0 1628.4 L1248.8 1629.4 L1251.6 1630.4 L1254.4 1631.3 L1257.2 1632.3 L1260.0 1633.3 L1262.8 1634.2 L1265.6 1635.1 L1268.5 1636.1 L1271.3 1637.0 L1274.1 1637.9 L1276.9 1638.8 L1279.7 1639.8 L1282.5 1640.7 L1285.3 1641.6" stroke="#8DB44A"/>
<path d="M277.3 1471.9 L280.1 1470.9 L282.9 1469.8 L285.7 1468.8 L288.5 1467.8 L291.3 1466.8 L294.1 1465.8 L297.0 1464.7 L299.8 1463.7 L302.6 1462.7 L305.4 1461.7 L308.2 1460.6 L311.0 1459.6 L313.8 1458.6 L316.6 1457.5 L319.4 1456.5 L322.2 1455.5 L325.0 1454.4 L327.8 1453.4 L330.6 1452.3 L333.5 1451.3 L336.3 1450.2 L339.1 1449.1 L341.9 1448.1 L344.7 1447.0 L347.5 1445.9 L350.3 1444.8 L353.1 1443.8 L355.9 1442.7 L358.7 1441.6 L361.5 1440.5 L364.3 1439.4 L367.1 1438.2 L370.0 1437.1 L372.8 1436.0 L375.6 1434.9 L378.4 1433.7 L381.2 1432.6 L384.0 1431.4 L386.8 1430.2 L389.6 1429.1 L392.4 1427.9 L395.2 1426.7 L398.0 1425.5 L400.8 1424.3 L403.7 1423.1 L406.5 1421.9 L409.3 1420.7 L412.1 1419.4 L414.9 1418.2 L417.7 1417.0 L420.5 1415.7 L423.3 1414.5 L426.1 1413.2 L428.9 1412.0 L431.7 1410.7 L434.5 1409.4 L437.3 1408.2 L440.2 1406.9 L443.0 1405.6 L445.8 1404.3 L448.6 1403.0 L451.4 1401.7 L454.2 1400.4 L457.0 1399.1 L459.8 1397.8 L462.6 1396.5 L465.4 1395.2 L468.2 1393.9 L471.0 1392.6 L473.8 1391.3 L476.7 1390.0 L479.5 1388.6 L482.3 1387.3 L485.1 1386.0 L487.9 1384.7 L490.7 1383.4 L493.5 1382.0 L496.3 1380.7 L499.1 1379.4 L501.9 1378.1 L504.7 1376.8 L507.5 1375.5 L510.3 1374.1 L513.2 1372.8 L516.0 1371.5 L518.8 1370.2 L521.6 1369.0 L524.4 1367.7 L527.2 1366.4 L530.0 1365.2 L532.8 1364.0 L535.6 1362.8 L538.4 1361.6 L541.2 1360.4 L544.0 1359.3 L546.8 1358.1 L549.7 1357.0 L552.5 1356.0 L555.3 1354.9 L558.1 1353.9 L560.9 1352.9 L563.7 1352.0 L566.5 1351.1 L569.3 1350.2 L572.1 1349.4 L574.9 1348.6 L577.7 1347.8 L580.5 1347.1 L583.4 1346.4 L586.2 1345.8 L589.0 1345.2 L591.8 1344.7 L594.6 1344.2 L597.4 1343.7 L600.2 1343.4 L603.0 1343.0 L605.8 1342.8 L608.6 1342.5 L611.4 1342.4 L614.2 1342.3 L617.0 1342.3 L619.9 1342.3 L622.7 1342.4 L625.5 1342.5 L628.3 1342.7 L631.1 1343.0 L633.9 1343.3 L636.7 1343.6 L639.5 1344.0 L642.3 1344.5 L645.1 1345.0 L647.9 1345.6 L650.7 1346.2 L653.5 1346.8 L656.4 1347.5 L659.2 1348.2 L662.0 1349.0 L664.8 1349.8 L667.6 1350.7 L670.4 1351.6 L673.2 1352.5 L676.0 1353.4 L678.8 1354.4 L681.6 1355.5 L684.4 1356.5 L687.2 1357.6 L690.0 1358.7 L692.9 1359.9 L695.7 1361.0 L698.5 1362.2 L701.3 1363.5 L704.1 1364.7 L706.9 1366.0 L709.7 1367.3 L712.5 1368.6 L715.3 1369.9 L718.1 1371.2 L720.9 1372.6 L723.7 1373.9 L726.5 1375.3 L729.4 1376.7 L732.2 1378.1 L735.0 1379.5 L737.8 1381.0 L740.6 1382.4 L743.4 1383.9 L746.2 1385.3 L749.0 1386.8 L751.8 1388.3 L754.6 1389.8 L757.4 1391.4 L760.2 1392.9 L763.0 1394.5 L765.9 1396.1 L768.7 1397.7 L771.5 1399.3 L774.3 1400.9 L777.1 1402.6 L779.9 1404.2 L782.7 1405.9 L785.5 1407.6 L788.3 1409.4 L791.1 1411.1 L793.9 1412.9 L796.7 1414.7 L799.6 1416.5 L802.4 1418.3 L805.2 1420.2 L808.0 1422.1 L810.8 1424.0 L813.6 1425.9 L816.4 1427.9 L819.2 1429.8 L822.0 1431.8 L824.8 1433.9 L827.6 1435.9 L830.4 1438.0 L833.2 1440.1 L836.1 1442.2 L838.9 1444.4 L841.7 1446.5 L844.5 1448.7 L847.3 1451.0 L850.1 1453.2 L852.9 1455.5 L855.7 1457.8 L858.5 1460.1 L861.3 1462.5 L864.1 1464.8 L866.9 1467.2 L869.7 1469.6 L872.6 1472.1 L875.4 1474.5 L878.2 1477.0 L881.0 1479.4 L883.8 1481.9 L886.6 1484.5 L889.4 1487.0 L892.2 1489.5 L895.0 1492.1 L897.8 1494.7 L900.6 1497.3 L903.4 1499.9 L906.2 1502.5 L909.1 1505.1 L911.9 1507.7 L914.7 1510.4 L917.5 1513.0 L920.3 1515.7 L923.1 1518.4 L925.9 1521.1 L928.7 1523.8 L931.5 1526.5 L934.3 1529.2 L937.1 1531.9 L939.9 1534.6 L942.7 1537.3 L945.6 1540.0 L948.4 1542.8 L951.2 1545.5 L954.0 1548.2 L956.8 1551.0 L959.6 1553.7 L962.4 1556.4 L965.2 1559.2 L968.0 1561.9 L970.8 1564.6 L973.6 1567.4 L976.4 1570.1 L979.2 1572.8 L982.1 1575.6 L984.9 1578.3 L987.7 1581.0 L990.5 1583.7 L993.3 1586.4 L996.1 1589.1 L998.9 1591.9 L1001.7 1594.6 L1004.5 1597.3 L1007.3 1600.0 L1010.1 1602.7 L1012.9 1605.4 L1015.8 1608.1 L1018.6 1610.8 L1021.4 1613.5 L1024.2 1616.2 L1027.0 1618.9 L1029.8 1621.6 L1032.6 1624.3 L1035.4 1627.0 L1038.2 1629.7 L1041.0 1632.4 L1043.8 1635.0 L1046.6 1637.7 L1049.4 1640.4 L1052.3 1643.1 L1055.1 1645.8 L1057.9 1648.5 L1060.7 1651.2 L1063.5 1653.9 L1066.3 1656.6 L1069.1 1659.3 L1071.9 1662.0 L1074.7 1664.7 L1077.5 1667.3 L1080.3 1670.0 L1083.1 1672.7 L1085.9 1675.3 L1088.8 1678.0 L1091.6 1680.6 L1094.4 1683.2 L1097.2 1685.8 L1100.0 1688.4 L1102.8 1690.9 L1105.6 1693.5 L1108.4 1696.0 L1111.2 1698.5 L1114.0 1701.0 L1116.8 1703.4 L1119.6 1705.8 L1122.4 1708.2 L1125.3 1710.6 L1128.1 1712.9 L1130.9 1715.2 L1133.7 1717.5 L1136.5 1719.8 L1139.3 1722.0 L1142.1 1724.2 L1144.9 1726.4 L1147.7 1728.6 L1150.5 1730.7 L1153.3 1732.8 L1156.1 1734.9 L1158.9 1736.9 L1161.8 1739.0 L1164.6 1741.0 L1167.4 1743.0 L1170.2 1744.9 L1173.0 1746.9 L1175.8 1748.8 L1178.6 1750.6 L1181.4 1752.5 L1184.2 1754.3 L1187.0 1756.2 L1189.8 1757.9 L1192.6 1759.7 L1195.5 1761.4 L1198.3 1763.1 L1201.1 1764.8 L1203.9 1766.5 L1206.7 1768.1 L1209.5 1769.7 L1212.3 1771.2 L1215.1 1772.8 L1217.9 1774.3 L1220.7 1775.7 L1223.5 1777.2 L1226.3 1778.6 L1229.1 1780.0 L1232.0 1781.3 L1234.8 1782.6 L1237.6 1783.9 L1240.4 1785.2 L1243.2 1786.4 L1246.0 1787.6 L1248.8 1788.8 L1251.6 1789.9 L1254.4 1791.1 L1257.2 1792.2 L1260.0 1793.3 L1262.8 1794.4 L1265.6 1795.5 L1268.5 1796.5 L1271.3 1797.6 L1274.1 1798.6 L1276.9 1799.7 L1279.7 1800.7 L1282.5 1801.7 L1285.3 1802.8" stroke="#005BAC"/>
<path d="M277.3 1507.2 L280.1 1506.1 L282.9 1505.1 L285.7 1504.0 L288.5 1502.9 L291.3 1501.8 L294.1 1500.7 L297.0 1499.6 L299.8 1498.5 L302.6 1497.4 L305.4 1496.3 L308.2 1495.2 L311.0 1494.1 L313.8 1492.9 L316.6 1491.8 L319.4 1490.7 L322.2 1489.5 L325.0 1488.3 L327.8 1487.2 L330.6 1486.0 L333.5 1484.8 L336.3 1483.6 L339.1 1482.4 L341.9 1481.1 L344.7 1479.9 L347.5 1478.6 L350.3 1477.4 L353.1 1476.1 L355.9 1474.8 L358.7 1473.5 L361.5 1472.1 L364.3 1470.8 L367.1 1469.4 L370.0 1468.0 L372.8 1466.6 L375.6 1465.2 L378.4 1463.7 L381.2 1462.3 L384.0 1460.8 L386.8 1459.3 L389.6 1457.7 L392.4 1456.2 L395.2 1454.6 L398.0 1453.0 L400.8 1451.4 L403.7 1449.7 L406.5 1448.1 L409.3 1446.4 L412.1 1444.7 L414.9 1443.0 L417.7 1441.3 L420.5 1439.5 L423.3 1437.8 L426.1 1436.0 L428.9 1434.2 L431.7 1432.4 L434.5 1430.7 L437.3 1428.9 L440.2 1427.0 L443.0 1425.2 L445.8 1423.4 L448.6 1421.6 L451.4 1419.7 L454.2 1417.9 L457.0 1416.1 L459.8 1414.2 L462.6 1412.4 L465.4 1410.5 L468.2 1408.7 L471.0 1406.9 L473.8 1405.0 L476.7 1403.2 L479.5 1401.4 L482.3 1399.6 L485.1 1397.8 L487.9 1396.0 L490.7 1394.2 L493.5 1392.4 L496.3 1390.6 L499.1 1388.8 L501.9 1387.1 L504.7 1385.3 L507.5 1383.6 L510.3 1381.9 L513.2 1380.2 L516.0 1378.4 L518.8 1376.7 L521.6 1375.0 L524.4 1373.3 L527.2 1371.5 L530.0 1369.8 L532.8 1368.0 L535.6 1366.2 L538.4 1364.4 L541.2 1362.6 L544.0 1360.7 L546.8 1358.8 L549.7 1357.0 L552.5 1355.2 L555.3 1353.4 L558.1 1351.6 L560.9 1350.0 L563.7 1348.3 L566.5 1346.8 L569.3 1345.4 L572.1 1344.1 L574.9 1342.9 L577.7 1341.8 L580.5 1340.8 L583.4 1339.8 L586.2 1339.0 L589.0 1338.3 L591.8 1337.6 L594.6 1337.1 L597.4 1336.6 L600.2 1336.1 L603.0 1335.8 L605.8 1335.5 L608.6 1335.2 L611.4 1335.1 L614.2 1334.9 L617.0 1334.9 L619.9 1334.8 L622.7 1334.9 L625.5 1335.0 L628.3 1335.1 L631.1 1335.4 L633.9 1335.7 L636.7 1336.1 L639.5 1336.6 L642.3 1337.2 L645.1 1337.9 L647.9 1338.6 L650.7 1339.5 L653.5 1340.5 L656.4 1341.6 L659.2 1342.8 L662.0 1344.2 L664.8 1345.7 L667.6 1347.2 L670.4 1348.9 L673.2 1350.7 L676.0 1352.5 L678.8 1354.4 L681.6 1356.4 L684.4 1358.4 L687.2 1360.4 L690.0 1362.4 L692.9 1364.4 L695.7 1366.4 L698.5 1368.4 L701.3 1370.4 L704.1 1372.3 L706.9 1374.2 L709.7 1376.1 L712.5 1378.0 L715.3 1379.9 L718.1 1381.8 L720.9 1383.7 L723.7 1385.7 L726.5 1387.6 L729.4 1389.6 L732.2 1391.5 L735.0 1393.5 L737.8 1395.6 L740.6 1397.6 L743.4 1399.7 L746.2 1401.8 L749.0 1403.9 L751.8 1406.0 L754.6 1408.2 L757.4 1410.4 L760.2 1412.6 L763.0 1414.9 L765.9 1417.2 L768.7 1419.5 L771.5 1421.9 L774.3 1424.3 L777.1 1426.7 L779.9 1429.1 L782.7 1431.6 L785.5 1434.1 L788.3 1436.7 L791.1 1439.3 L793.9 1441.9 L796.7 1444.5 L799.6 1447.2 L802.4 1450.0 L805.2 1452.8 L808.0 1455.6 L810.8 1458.4 L813.6 1461.3 L816.4 1464.3 L819.2 1467.3 L822.0 1470.3 L824.8 1473.4 L827.6 1476.5 L830.4 1479.6 L833.2 1482.8 L836.1 1486.1 L838.9 1489.4 L841.7 1492.7 L844.5 1496.1 L847.3 1499.6 L850.1 1503.1 L852.9 1506.6 L855.7 1510.1 L858.5 1513.7 L861.3 1517.3 L864.1 1521.0 L866.9 1524.7 L869.7 1528.4 L872.6 1532.2 L875.4 1535.9 L878.2 1539.7 L881.0 1543.6 L883.8 1547.4 L886.6 1551.3 L889.4 1555.1 L892.2 1559.0 L895.0 1562.9 L897.8 1566.9 L900.6 1570.8 L903.4 1574.7 L906.2 1578.7 L909.1 1582.6 L911.9 1586.6 L914.7 1590.5 L917.5 1594.5 L920.3 1598.4 L923.1 1602.4 L925.9 1606.3 L928.7 1610.2 L931.5 1614.2 L934.3 1618.1 L937.1 1622.0 L939.9 1625.9 L942.7 1629.7 L945.6 1633.6 L948.4 1637.4 L951.2 1641.2 L954.0 1645.0 L956.8 1648.8 L959.6 1652.6 L962.4 1656.4 L965.2 1660.1 L968.0 1663.9 L970.8 1667.7 L973.6 1671.5 L976.4 1675.3 L979.2 1679.2 L982.1 1683.1 L984.9 1687.0 L987.7 1690.9 L990.5 1694.9 L993.3 1698.9 L996.1 1702.9 L998.9 1707.0 L1001.7 1711.0 L1004.5 1715.1 L1007.3 1719.2 L1010.1 1723.4 L1012.9 1727.5 L1015.8 1731.7 L1018.6 1735.9 L1021.4 1740.0 L1024.2 1744.2 L1027.0 1748.5 L1029.8 1752.7 L1032.6 1756.9 L1035.4 1761.1 L1038.2 1765.4 L1041.0 1769.6 L1043.8 1773.8 L1046.6 1778.1 L1049.4 1782.3 L1052.3 1786.5 L1055.1 1790.8 L1057.9 1795.0 L1060.7 1799.2 L1063.5 1803.4 L1066.3 1807.6 L1069.1 1811.8 L1071.9 1815.9 L1074.7 1820.1 L1077.5 1824.2 L1080.3 1828.3 L1083.1 1832.4 L1085.9 1836.5 L1088.8 1840.6 L1091.6 1844.6 L1094.4 1848.7 L1097.2 1852.7 L1100.0 1856.6 L1102.8 1860.6 L1105.6 1864.5 L1108.4 1868.4 L1111.2 1872.3 L1114.0 1876.1 L1116.8 1879.9 L1119.6 1883.7 L1122.4 1887.5 L1125.3 1891.2 L1128.1 1894.8 L1130.9 1898.5 L1133.7 1902.1 L1136.5 1905.6 L1139.3 1909.1 L1142.1 1912.6 L1144.9 1916.0 L1147.7 1919.4 L1150.5 1922.7 L1153.3 1926.0 L1156.1 1929.2 L1158.9 1932.4 L1161.8 1935.5 L1164.6 1938.5 L1167.4 1941.5 L1170.2 1944.4 L1173.0 1947.3 L1175.8 1950.1 L1178.6 1952.9 L1181.4 1955.5 L1184.2 1958.1 L1187.0 1960.7 L1189.8 1963.2 L1192.6 1965.6 L1195.5 1968.0 L1198.3 1970.3 L1201.1 1972.5 L1203.9 1974.7 L1206.7 1976.8 L1209.5 1978.9 L1212.3 1980.9 L1215.1 1982.9 L1217.9 1984.7 L1220.7 1986.6 L1223.5 1988.4 L1226.3 1990.1 L1229.1 1991.7 L1232.0 1993.4 L1234.8 1994.9 L1237.6 1996.4 L1240.4 1997.9 L1243.2 1999.3 L1246.0 2000.7 L1248.8 2002.0 L1251.6 2003.3 L1254.4 2004.6 L1257.2 2005.8 L1260.0 2007.0 L1262.8 2008.2 L1265.6 2009.4 L1268.5 2010.5 L1271.3 2011.7 L1274.1 2012.8 L1276.9 2013.9 L1279.7 2015.0 L1282.5 2016.1 L1285.3 2017.2" stroke="#C81A44"/>
</g>
<line x1="389.3" y1="1338.4" x2="389.3" y2="2157.9" stroke="#262626" stroke-opacity="0.2" stroke-width="4.6" stroke-dasharray="28.6 15.9" stroke-dashoffset="4.7"/>
<line x1="501.3" y1="1338.4" x2="501.3" y2="2157.9" stroke="#262626" stroke-opacity="0.2" stroke-width="4.6" stroke-dasharray="28.6 15.9" stroke-dashoffset="4.7"/>
<line x1="613.3" y1="1338.4" x2="613.3" y2="2157.9" stroke="#262626" stroke-opacity="0.2" stroke-width="4.6" stroke-dasharray="28.6 15.9" stroke-dashoffset="4.7"/>
<line x1="725.3" y1="1338.4" x2="725.3" y2="2157.9" stroke="#262626" stroke-opacity="0.2" stroke-width="4.6" stroke-dasharray="28.6 15.9" stroke-dashoffset="4.7"/>
<line x1="837.3" y1="1338.4" x2="837.3" y2="2157.9" stroke="#262626" stroke-opacity="0.2" stroke-width="4.6" stroke-dasharray="28.6 15.9" stroke-dashoffset="4.7"/>
<line x1="949.3" y1="1338.4" x2="949.3" y2="2157.9" stroke="#262626" stroke-opacity="0.2" stroke-width="4.6" stroke-dasharray="28.6 15.9" stroke-dashoffset="4.7"/>
<line x1="1061.3" y1="1338.4" x2="1061.3" y2="2157.9" stroke="#262626" stroke-opacity="0.2" stroke-width="4.6" stroke-dasharray="28.6 15.9" stroke-dashoffset="4.7"/>
<line x1="1173.3" y1="1338.4" x2="1173.3" y2="2157.9" stroke="#262626" stroke-opacity="0.2" stroke-width="4.6" stroke-dasharray="28.6 15.9" stroke-dashoffset="4.7"/>
<line x1="1285.3" y1="1338.4" x2="1285.3" y2="2157.9" stroke="#262626" stroke-opacity="0.2" stroke-width="4.6" stroke-dasharray="28.6 15.9" stroke-dashoffset="4.7"/>
<line x1="279.6" y1="1348.5" x2="1283.5" y2="1348.5" stroke="#262626" stroke-opacity="0.2" stroke-width="4.6" stroke-dasharray="28.6 15.9" stroke-dashoffset="0"/>
<line x1="279.6" y1="1551.4" x2="1283.5" y2="1551.4" stroke="#262626" stroke-opacity="0.2" stroke-width="4.6" stroke-dasharray="28.6 15.9" stroke-dashoffset="0"/>
<line x1="279.6" y1="1754.3" x2="1283.5" y2="1754.3" stroke="#262626" stroke-opacity="0.2" stroke-width="4.6" stroke-dasharray="28.6 15.9" stroke-dashoffset="0"/>
<line x1="279.6" y1="1957.2" x2="1283.5" y2="1957.2" stroke="#262626" stroke-opacity="0.2" stroke-width="4.6" stroke-dasharray="28.6 15.9" stroke-dashoffset="0"/>
<line x1="279.6" y1="2160.1" x2="1283.5" y2="2160.1" stroke="#262626" stroke-opacity="0.2" stroke-width="4.6" stroke-dasharray="28.6 15.9" stroke-dashoffset="0"/>
<g stroke="#262626" stroke-width="4.5" clip-path="url(#c4083)">
<line x1="277.3" y1="1338.4" x2="277.3" y2="1348.9"/><line x1="277.3" y1="2157.9" x2="277.3" y2="2147.4"/>
<line x1="389.3" y1="1338.4" x2="389.3" y2="1348.9"/><line x1="389.3" y1="2157.9" x2="389.3" y2="2147.4"/>
<line x1="501.3" y1="1338.4" x2="501.3" y2="1348.9"/><line x1="501.3" y1="2157.9" x2="501.3" y2="2147.4"/>
<line x1="613.3" y1="1338.4" x2="613.3" y2="1348.9"/><line x1="613.3" y1="2157.9" x2="613.3" y2="2147.4"/>
<line x1="725.3" y1="1338.4" x2="725.3" y2="1348.9"/><line x1="725.3" y1="2157.9" x2="725.3" y2="2147.4"/>
<line x1="837.3" y1="1338.4" x2="837.3" y2="1348.9"/><line x1="837.3" y1="2157.9" x2="837.3" y2="2147.4"/>
<line x1="949.3" y1="1338.4" x2="949.3" y2="1348.9"/><line x1="949.3" y1="2157.9" x2="949.3" y2="2147.4"/>
<line x1="1061.3" y1="1338.4" x2="1061.3" y2="1348.9"/><line x1="1061.3" y1="2157.9" x2="1061.3" y2="2147.4"/>
<line x1="1173.3" y1="1338.4" x2="1173.3" y2="1348.9"/><line x1="1173.3" y1="2157.9" x2="1173.3" y2="2147.4"/>
<line x1="1285.3" y1="1338.4" x2="1285.3" y2="1348.9"/><line x1="1285.3" y1="2157.9" x2="1285.3" y2="2147.4"/>
<line x1="279.6" y1="1348.5" x2="290.1" y2="1348.5"/><line x1="1283.5" y1="1348.5" x2="1273.0" y2="1348.5"/>
<line x1="279.6" y1="1551.4" x2="290.1" y2="1551.4"/><line x1="1283.5" y1="1551.4" x2="1273.0" y2="1551.4"/>
<line x1="279.6" y1="1754.3" x2="290.1" y2="1754.3"/><line x1="1283.5" y1="1754.3" x2="1273.0" y2="1754.3"/>
<line x1="279.6" y1="1957.2" x2="290.1" y2="1957.2"/><line x1="1283.5" y1="1957.2" x2="1273.0" y2="1957.2"/>
<line x1="279.6" y1="2160.1" x2="290.1" y2="2160.1"/><line x1="1283.5" y1="2160.1" x2="1273.0" y2="2160.1"/>
</g>
<rect x="277.30" y="1336.10" width="1008.50" height="824.10" fill="none" stroke="#262626" stroke-width="4.6"/>
<g font-size="59" fill="#262626" stroke="#262626" stroke-width="0.9" text-anchor="end">
<text x="257" y="1368.6">0</text>
<text x="257" y="1571.5">−50</text>
<text x="257" y="1774.4">−100</text>
<text x="257" y="1977.3">−150</text>
<text x="257" y="2180.2">−200</text>
<text x="313.3" y="2219.5" transform="rotate(-45 313.3 2219.5)">−90</text>
<text x="425.3" y="2219.5" transform="rotate(-45 425.3 2219.5)">−70</text>
<text x="537.3" y="2219.5" transform="rotate(-45 537.3 2219.5)">−50</text>
<text x="649.3" y="2219.5" transform="rotate(-45 649.3 2219.5)">−30</text>
<text x="761.3" y="2219.5" transform="rotate(-45 761.3 2219.5)">−10</text>
<text x="873.3" y="2219.5" transform="rotate(-45 873.3 2219.5)">10</text>
<text x="985.3" y="2219.5" transform="rotate(-45 985.3 2219.5)">30</text>
<text x="1097.3" y="2219.5" transform="rotate(-45 1097.3 2219.5)">50</text>
<text x="1209.3" y="2219.5" transform="rotate(-45 1209.3 2219.5)">70</text>
<text x="1321.3" y="2219.5" transform="rotate(-45 1321.3 2219.5)">90</text>
</g>
<rect x="400.9" y="1558.9" width="409.5" height="259.8" fill="#fff"/>
<g fill="none" stroke-width="8.6">
<path d="M406.0 1755.4 L411.1 1755.2 L416.1 1754.9 L421.2 1754.7 L426.2 1754.5 L431.3 1754.3 L436.3 1754.0 L441.4 1753.8 L446.4 1753.6 L451.5 1753.4 L456.5 1753.1 L461.6 1752.9 L466.6 1752.7 L471.7 1752.5 L476.7 1752.3 L481.8 1752.1 L486.8 1751.8 L491.9 1751.6 L496.9 1751.4 L502.0 1751.2 L507.0 1751.0 L512.1 1750.8 L517.1 1750.6 L522.2 1750.4 L527.2 1750.2 L532.3 1750.0 L537.3 1749.8 L542.4 1749.7 L547.4 1749.5 L552.5 1749.3 L557.5 1749.1 L562.6 1748.9 L567.6 1748.8 L572.7 1748.6 L577.7 1748.4 L582.8 1748.3 L587.8 1748.1 L592.9 1748.0 L597.9 1747.8 L603.0 1747.7 L608.0 1747.6 L613.1 1747.4 L618.1 1747.3 L623.2 1747.2 L628.2 1747.1 L633.3 1746.9 L638.3 1746.8 L643.4 1746.7 L648.4 1746.6 L653.5 1746.5 L658.5 1746.4 L663.6 1746.3 L668.6 1746.2 L673.7 1746.1 L678.7 1746.0 L683.8 1745.9 L688.8 1745.9 L693.9 1745.8 L698.9 1745.7 L704.0 1745.6 L709.0 1745.6 L714.1 1745.5 L719.1 1745.4 L724.2 1745.3 L729.2 1745.3 L734.3 1745.2 L739.3 1745.1 L744.4 1745.1 L749.4 1745.0 L754.5 1745.0 L759.5 1744.9 L764.6 1744.8 L769.6 1744.8 L774.7 1744.7 L779.7 1744.7 L784.8 1744.6 L789.8 1744.6 L794.9 1744.5 L799.9 1744.5 L805.0 1744.4" stroke="#F396AA"/>
<path d="M406.0 1702.7 L411.1 1702.3 L416.1 1701.9 L421.2 1701.5 L426.2 1701.2 L431.3 1700.8 L436.3 1700.4 L441.4 1700.0 L446.4 1699.7 L451.5 1699.3 L456.5 1698.9 L461.6 1698.6 L466.6 1698.2 L471.7 1697.9 L476.7 1697.5 L481.8 1697.2 L486.8 1696.8 L491.9 1696.5 L496.9 1696.2 L502.0 1695.9 L507.0 1695.6 L512.1 1695.3 L517.1 1695.0 L522.2 1694.7 L527.2 1694.5 L532.3 1694.2 L537.3 1693.9 L542.4 1693.7 L547.4 1693.5 L552.5 1693.2 L557.5 1693.0 L562.6 1692.8 L567.6 1692.6 L572.7 1692.4 L577.7 1692.3 L582.8 1692.1 L587.8 1691.9 L592.9 1691.8 L597.9 1691.6 L603.0 1691.5 L608.0 1691.4 L613.1 1691.3 L618.1 1691.2 L623.2 1691.1 L628.2 1691.0 L633.3 1691.0 L638.3 1690.9 L643.4 1690.8 L648.4 1690.8 L653.5 1690.8 L658.5 1690.8 L663.6 1690.8 L668.6 1690.8 L673.7 1690.8 L678.7 1690.8 L683.8 1690.8 L688.8 1690.9 L693.9 1690.9 L698.9 1691.0 L704.0 1691.1 L709.0 1691.1 L714.1 1691.2 L719.1 1691.3 L724.2 1691.4 L729.2 1691.6 L734.3 1691.7 L739.3 1691.8 L744.4 1691.9 L749.4 1692.1 L754.5 1692.2 L759.5 1692.4 L764.6 1692.5 L769.6 1692.7 L774.7 1692.9 L779.7 1693.0 L784.8 1693.2 L789.8 1693.4 L794.9 1693.6 L799.9 1693.7 L805.0 1693.9" stroke="#1A1A1A"/>
<path d="M406.0 1681.5 L411.1 1680.9 L416.1 1680.4 L421.2 1679.8 L426.2 1679.2 L431.3 1678.7 L436.3 1678.1 L441.4 1677.6 L446.4 1677.0 L451.5 1676.5 L456.5 1676.0 L461.6 1675.5 L466.6 1675.0 L471.7 1674.5 L476.7 1674.0 L481.8 1673.5 L486.8 1673.1 L491.9 1672.7 L496.9 1672.2 L502.0 1671.8 L507.0 1671.5 L512.1 1671.1 L517.1 1670.8 L522.2 1670.5 L527.2 1670.1 L532.3 1669.9 L537.3 1669.6 L542.4 1669.3 L547.4 1669.1 L552.5 1668.8 L557.5 1668.6 L562.6 1668.4 L567.6 1668.2 L572.7 1668.0 L577.7 1667.9 L582.8 1667.7 L587.8 1667.5 L592.9 1667.4 L597.9 1667.2 L603.0 1667.1 L608.0 1667.0 L613.1 1666.9 L618.1 1666.8 L623.2 1666.7 L628.2 1666.6 L633.3 1666.5 L638.3 1666.5 L643.4 1666.5 L648.4 1666.4 L653.5 1666.4 L658.5 1666.5 L663.6 1666.5 L668.6 1666.6 L673.7 1666.7 L678.7 1666.8 L683.8 1666.9 L688.8 1667.1 L693.9 1667.2 L698.9 1667.4 L704.0 1667.7 L709.0 1667.9 L714.1 1668.2 L719.1 1668.4 L724.2 1668.7 L729.2 1669.0 L734.3 1669.4 L739.3 1669.7 L744.4 1670.1 L749.4 1670.4 L754.5 1670.8 L759.5 1671.2 L764.6 1671.6 L769.6 1672.0 L774.7 1672.4 L779.7 1672.8 L784.8 1673.2 L789.8 1673.6 L794.9 1674.0 L799.9 1674.5 L805.0 1674.9" stroke="#8DB44A"/>
<path d="M406.0 1665.1 L411.1 1664.5 L416.1 1664.0 L421.2 1663.4 L426.2 1662.8 L431.3 1662.3 L436.3 1661.7 L441.4 1661.2 L446.4 1660.6 L451.5 1660.1 L456.5 1659.5 L461.6 1659.0 L466.6 1658.5 L471.7 1658.0 L476.7 1657.5 L481.8 1657.1 L486.8 1656.6 L491.9 1656.2 L496.9 1655.8 L502.0 1655.3 L507.0 1655.0 L512.1 1654.6 L517.1 1654.2 L522.2 1653.9 L527.2 1653.6 L532.3 1653.3 L537.3 1653.0 L542.4 1652.7 L547.4 1652.4 L552.5 1652.2 L557.5 1651.9 L562.6 1651.7 L567.6 1651.5 L572.7 1651.3 L577.7 1651.1 L582.8 1650.9 L587.8 1650.7 L592.9 1650.6 L597.9 1650.4 L603.0 1650.3 L608.0 1650.2 L613.1 1650.0 L618.1 1649.9 L623.2 1649.8 L628.2 1649.8 L633.3 1649.7 L638.3 1649.7 L643.4 1649.7 L648.4 1649.7 L653.5 1649.7 L658.5 1649.8 L663.6 1649.8 L668.6 1649.9 L673.7 1650.1 L678.7 1650.3 L683.8 1650.5 L688.8 1650.7 L693.9 1650.9 L698.9 1651.2 L704.0 1651.5 L709.0 1651.9 L714.1 1652.3 L719.1 1652.6 L724.2 1653.1 L729.2 1653.5 L734.3 1653.9 L739.3 1654.4 L744.4 1654.9 L749.4 1655.4 L754.5 1655.9 L759.5 1656.5 L764.6 1657.0 L769.6 1657.6 L774.7 1658.1 L779.7 1658.7 L784.8 1659.3 L789.8 1659.8 L794.9 1660.4 L799.9 1661.0 L805.0 1661.6" stroke="#005BAC"/>
<path d="M406.0 1648.3 L411.1 1647.9 L416.1 1647.5 L421.2 1647.1 L426.2 1646.8 L431.3 1646.4 L436.3 1646.0 L441.4 1645.6 L446.4 1645.3 L451.5 1644.9 L456.5 1644.6 L461.6 1644.2 L466.6 1643.9 L471.7 1643.6 L476.7 1643.3 L481.8 1643.0 L486.8 1642.7 L491.9 1642.4 L496.9 1642.1 L502.0 1641.9 L507.0 1641.7 L512.1 1641.5 L517.1 1641.3 L522.2 1641.1 L527.2 1640.9 L532.3 1640.8 L537.3 1640.6 L542.4 1640.5 L547.4 1640.4 L552.5 1640.2 L557.5 1640.1 L562.6 1640.0 L567.6 1639.9 L572.7 1639.8 L577.7 1639.7 L582.8 1639.6 L587.8 1639.5 L592.9 1639.4 L597.9 1639.4 L603.0 1639.3 L608.0 1639.2 L613.1 1639.1 L618.1 1639.0 L623.2 1638.9 L628.2 1638.9 L633.3 1638.8 L638.3 1638.7 L643.4 1638.7 L648.4 1638.6 L653.5 1638.6 L658.5 1638.6 L663.6 1638.6 L668.6 1638.6 L673.7 1638.6 L678.7 1638.6 L683.8 1638.7 L688.8 1638.8 L693.9 1638.9 L698.9 1639.0 L704.0 1639.2 L709.0 1639.4 L714.1 1639.6 L719.1 1639.9 L724.2 1640.2 L729.2 1640.6 L734.3 1640.9 L739.3 1641.4 L744.4 1641.8 L749.4 1642.4 L754.5 1642.9 L759.5 1643.5 L764.6 1644.1 L769.6 1644.7 L774.7 1645.4 L779.7 1646.1 L784.8 1646.7 L789.8 1647.4 L794.9 1648.2 L799.9 1648.9 L805.0 1649.6" stroke="#C81A44"/>
</g>
<g stroke="#262626" stroke-width="3.5">
<line x1="406.2" y1="1604" x2="414.2" y2="1604"/><line x1="805.1" y1="1604" x2="797.1" y2="1604"/>
<line x1="406.2" y1="1662.9" x2="414.2" y2="1662.9"/><line x1="805.1" y1="1662.9" x2="797.1" y2="1662.9"/>
<line x1="406.2" y1="1722.2" x2="414.2" y2="1722.2"/><line x1="805.1" y1="1722.2" x2="797.1" y2="1722.2"/>
<line x1="406.2" y1="1781.5" x2="414.2" y2="1781.5"/><line x1="805.1" y1="1781.5" x2="797.1" y2="1781.5"/>
<line x1="595.7" y1="1564.2" x2="595.7" y2="1572.2"/><line x1="595.7" y1="1813.4" x2="595.7" y2="1805.4"/>
</g>
<rect x="403.55" y="1561.55" width="404.20" height="254.50" fill="none" stroke="#262626" stroke-width="5.3"/>
<g font-size="57" fill="#262626" stroke="#262626" stroke-width="0.9">
<text x="381" y="1622.8" text-anchor="end">4</text>
<text x="381" y="1681.7" text-anchor="end">2</text>
<text x="381" y="1741.0" text-anchor="end">0</text>
<text x="381" y="1800.3" text-anchor="end">−2</text>
<text x="593" y="1889.5" text-anchor="middle">−30</text>
</g>
<line x1="608" y1="1376" x2="603.7" y2="1510" stroke="#000" stroke-width="7.5"/>
<polygon points="602.5,1535.1 618.7,1496.2 603.5,1504.0 589.0,1495.0" fill="#000"/>
<rect x="1363.6" y="1336.5" width="376.5" height="362.8" fill="#fff" stroke="#262626" stroke-width="4.0"/>
<line x1="1374.3" y1="1376.9" x2="1486.1" y2="1376.9" stroke="#F396AA" stroke-width="8.6"/>
<text x="1494.4" y="1398.4" font-size="58" fill="#000" stroke="#000" stroke-width="0.9" textLength="231.5" lengthAdjust="spacing"><tspan font-style="italic">cl</tspan>=1.2um</text>
<line x1="1374.3" y1="1447.7" x2="1486.1" y2="1447.7" stroke="#1A1A1A" stroke-width="8.6"/>
<text x="1494.4" y="1469.2" font-size="58" fill="#000" stroke="#000" stroke-width="0.9" textLength="231.5" lengthAdjust="spacing"><tspan font-style="italic">cl</tspan>=3.2um</text>
<line x1="1374.3" y1="1518.4" x2="1486.1" y2="1518.4" stroke="#8DB44A" stroke-width="8.6"/>
<text x="1494.4" y="1539.9" font-size="58" fill="#000" stroke="#000" stroke-width="0.9" textLength="231.5" lengthAdjust="spacing"><tspan font-style="italic">cl</tspan>=5.2um</text>
<line x1="1374.3" y1="1589.2" x2="1486.1" y2="1589.2" stroke="#005BAC" stroke-width="8.6"/>
<text x="1494.4" y="1610.7" font-size="58" fill="#000" stroke="#000" stroke-width="0.9" textLength="231.5" lengthAdjust="spacing"><tspan font-style="italic">cl</tspan>=7.2um</text>
<line x1="1374.3" y1="1659.9" x2="1486.1" y2="1659.9" stroke="#C81A44" stroke-width="8.6"/>
<text x="1494.4" y="1681.4" font-size="58" fill="#000" stroke="#000" stroke-width="0.9" textLength="231.5" lengthAdjust="spacing"><tspan font-style="italic">cl</tspan>=9.2um</text>
<g font-size="59" fill="#000" stroke="#000" stroke-width="0.9">
<text x="1368.9" y="1832.3" textLength="148.1" lengthAdjust="spacing"><tspan font-style="italic">α</tspan>=0.5</text>
<text x="1368.9" y="1901" textLength="162.9" lengthAdjust="spacing"><tspan font-style="italic">θ</tspan><tspan font-style="italic" font-size="42.5" dy="29.5">i</tspan><tspan dy="-29.5">=30°</tspan></text>
<text x="1368.9" y="1996.1" textLength="216" lengthAdjust="spacing"><tspan font-style="italic">δ</tspan>=0.1um</text>
<text x="1368.9" y="2063.9" textLength="280.9" lengthAdjust="spacing"><tspan font-style="italic">λ</tspan>=1.064um</text>
</g>
<text x="85.5" y="1748" font-size="69" fill="#262626" stroke="#262626" stroke-width="0.9" text-anchor="middle" transform="rotate(-90 85.5 1748)"><tspan font-style="italic">σ</tspan><tspan font-style="italic" font-size="51.8" dy="29.0">i</tspan><tspan dy="-29.0">(dB)</tspan></text>
<text x="499.2" y="2358.7" font-size="66" fill="#262626" stroke="#262626" stroke-width="0.9" textLength="564.4" lengthAdjust="spacing">Scattering angle(<tspan font-style="italic">θ</tspan><tspan font-size="47.5" dy="29.7">s</tspan><tspan dy="-29.7">/°)</tspan></text>
<text x="639.4" y="2487.8" font-size="83" fill="#000" textLength="585.9" lengthAdjust="spacingAndGlyphs">(<tspan font-weight="bold">b</tspan>) <tspan font-style="italic">λ</tspan> = 1.064 μm</text>
<rect x="273.8" y="2595.2" width="1006.0" height="842.1" fill="#F2F2F2"/>
<clipPath id="c5333"><rect x="278.4" y="0" width="996.8" height="3804"/></clipPath>
<g fill="none" stroke-width="8.6" stroke-linejoin="round" clip-path="url(#c5333)">
<path d="M275.5 2770.2 L278.3 2769.6 L281.1 2769.1 L283.9 2768.6 L286.7 2768.0 L289.5 2767.5 L292.3 2767.0 L295.0 2766.5 L297.8 2765.9 L300.6 2765.4 L303.4 2764.9 L306.2 2764.4 L309.0 2763.8 L311.8 2763.3 L314.6 2762.8 L317.4 2762.3 L320.2 2761.8 L323.0 2761.2 L325.8 2760.7 L328.5 2760.2 L331.3 2759.7 L334.1 2759.2 L336.9 2758.7 L339.7 2758.2 L342.5 2757.7 L345.3 2757.3 L348.1 2756.8 L350.9 2756.3 L353.7 2755.8 L356.5 2755.3 L359.3 2754.9 L362.0 2754.4 L364.8 2753.9 L367.6 2753.5 L370.4 2753.0 L373.2 2752.6 L376.0 2752.1 L378.8 2751.7 L381.6 2751.3 L384.4 2750.9 L387.2 2750.4 L390.0 2750.0 L392.8 2749.6 L395.5 2749.2 L398.3 2748.8 L401.1 2748.4 L403.9 2748.0 L406.7 2747.6 L409.5 2747.3 L412.3 2746.9 L415.1 2746.5 L417.9 2746.2 L420.7 2745.8 L423.5 2745.5 L426.3 2745.1 L429.0 2744.8 L431.8 2744.5 L434.6 2744.1 L437.4 2743.8 L440.2 2743.5 L443.0 2743.2 L445.8 2742.9 L448.6 2742.6 L451.4 2742.3 L454.2 2742.0 L457.0 2741.7 L459.8 2741.4 L462.5 2741.1 L465.3 2740.9 L468.1 2740.6 L470.9 2740.3 L473.7 2740.1 L476.5 2739.8 L479.3 2739.6 L482.1 2739.3 L484.9 2739.1 L487.7 2738.8 L490.5 2738.6 L493.3 2738.4 L496.0 2738.2 L498.8 2737.9 L501.6 2737.7 L504.4 2737.5 L507.2 2737.3 L510.0 2737.1 L512.8 2736.9 L515.6 2736.7 L518.4 2736.5 L521.2 2736.3 L524.0 2736.1 L526.8 2735.9 L529.5 2735.7 L532.3 2735.5 L535.1 2735.3 L537.9 2735.0 L540.7 2734.8 L543.5 2734.6 L546.3 2734.4 L549.1 2734.1 L551.9 2733.9 L554.7 2733.6 L557.5 2733.4 L560.3 2733.1 L563.1 2732.9 L565.8 2732.6 L568.6 2732.4 L571.4 2732.1 L574.2 2731.9 L577.0 2731.6 L579.8 2731.4 L582.6 2731.1 L585.4 2730.9 L588.2 2730.7 L591.0 2730.4 L593.8 2730.2 L596.6 2730.0 L599.3 2729.8 L602.1 2729.6 L604.9 2729.3 L607.7 2729.2 L610.5 2729.0 L613.3 2728.8 L616.1 2728.6 L618.9 2728.5 L621.7 2728.3 L624.5 2728.2 L627.3 2728.0 L630.1 2727.9 L632.8 2727.8 L635.6 2727.7 L638.4 2727.6 L641.2 2727.5 L644.0 2727.4 L646.8 2727.3 L649.6 2727.3 L652.4 2727.2 L655.2 2727.2 L658.0 2727.1 L660.8 2727.1 L663.6 2727.0 L666.3 2727.0 L669.1 2727.0 L671.9 2727.0 L674.7 2727.0 L677.5 2727.0 L680.3 2727.0 L683.1 2727.0 L685.9 2727.0 L688.7 2727.0 L691.5 2727.1 L694.3 2727.1 L697.1 2727.2 L699.8 2727.2 L702.6 2727.3 L705.4 2727.3 L708.2 2727.4 L711.0 2727.5 L713.8 2727.5 L716.6 2727.6 L719.4 2727.7 L722.2 2727.8 L725.0 2727.9 L727.8 2728.0 L730.6 2728.1 L733.3 2728.2 L736.1 2728.3 L738.9 2728.4 L741.7 2728.5 L744.5 2728.7 L747.3 2728.8 L750.1 2728.9 L752.9 2729.1 L755.7 2729.2 L758.5 2729.4 L761.3 2729.5 L764.1 2729.7 L766.8 2729.9 L769.6 2730.0 L772.4 2730.2 L775.2 2730.4 L778.0 2730.6 L780.8 2730.7 L783.6 2730.9 L786.4 2731.1 L789.2 2731.3 L792.0 2731.5 L794.8 2731.7 L797.6 2732.0 L800.3 2732.2 L803.1 2732.4 L805.9 2732.6 L808.7 2732.8 L811.5 2733.1 L814.3 2733.3 L817.1 2733.6 L819.9 2733.8 L822.7 2734.0 L825.5 2734.3 L828.3 2734.6 L831.1 2734.8 L833.9 2735.1 L836.6 2735.4 L839.4 2735.6 L842.2 2735.9 L845.0 2736.2 L847.8 2736.5 L850.6 2736.8 L853.4 2737.1 L856.2 2737.3 L859.0 2737.6 L861.8 2737.9 L864.6 2738.2 L867.4 2738.6 L870.1 2738.9 L872.9 2739.2 L875.7 2739.5 L878.5 2739.8 L881.3 2740.1 L884.1 2740.4 L886.9 2740.8 L889.7 2741.1 L892.5 2741.4 L895.3 2741.7 L898.1 2742.1 L900.9 2742.4 L903.6 2742.7 L906.4 2743.0 L909.2 2743.4 L912.0 2743.7 L914.8 2744.0 L917.6 2744.4 L920.4 2744.7 L923.2 2745.0 L926.0 2745.4 L928.8 2745.7 L931.6 2746.0 L934.4 2746.3 L937.1 2746.7 L939.9 2747.0 L942.7 2747.3 L945.5 2747.7 L948.3 2748.0 L951.1 2748.3 L953.9 2748.6 L956.7 2749.0 L959.5 2749.3 L962.3 2749.6 L965.1 2749.9 L967.9 2750.3 L970.6 2750.6 L973.4 2750.9 L976.2 2751.2 L979.0 2751.6 L981.8 2751.9 L984.6 2752.2 L987.4 2752.6 L990.2 2752.9 L993.0 2753.2 L995.8 2753.5 L998.6 2753.9 L1001.4 2754.2 L1004.1 2754.5 L1006.9 2754.9 L1009.7 2755.2 L1012.5 2755.5 L1015.3 2755.9 L1018.1 2756.2 L1020.9 2756.5 L1023.7 2756.9 L1026.5 2757.2 L1029.3 2757.5 L1032.1 2757.9 L1034.9 2758.2 L1037.6 2758.5 L1040.4 2758.9 L1043.2 2759.2 L1046.0 2759.5 L1048.8 2759.9 L1051.6 2760.2 L1054.4 2760.6 L1057.2 2760.9 L1060.0 2761.2 L1062.8 2761.6 L1065.6 2761.9 L1068.4 2762.2 L1071.2 2762.6 L1073.9 2762.9 L1076.7 2763.2 L1079.5 2763.6 L1082.3 2763.9 L1085.1 2764.2 L1087.9 2764.5 L1090.7 2764.9 L1093.5 2765.2 L1096.3 2765.5 L1099.1 2765.8 L1101.9 2766.2 L1104.7 2766.5 L1107.4 2766.8 L1110.2 2767.1 L1113.0 2767.4 L1115.8 2767.7 L1118.6 2768.0 L1121.4 2768.3 L1124.2 2768.6 L1127.0 2768.9 L1129.8 2769.2 L1132.6 2769.5 L1135.4 2769.8 L1138.2 2770.1 L1140.9 2770.4 L1143.7 2770.7 L1146.5 2771.0 L1149.3 2771.3 L1152.1 2771.6 L1154.9 2771.9 L1157.7 2772.2 L1160.5 2772.5 L1163.3 2772.8 L1166.1 2773.1 L1168.9 2773.5 L1171.7 2773.8 L1174.4 2774.1 L1177.2 2774.4 L1180.0 2774.7 L1182.8 2775.0 L1185.6 2775.3 L1188.4 2775.7 L1191.2 2776.0 L1194.0 2776.3 L1196.8 2776.6 L1199.6 2777.0 L1202.4 2777.3 L1205.2 2777.6 L1207.9 2778.0 L1210.7 2778.3 L1213.5 2778.7 L1216.3 2779.0 L1219.1 2779.4 L1221.9 2779.8 L1224.7 2780.1 L1227.5 2780.5 L1230.3 2780.9 L1233.1 2781.2 L1235.9 2781.6 L1238.7 2782.0 L1241.4 2782.4 L1244.2 2782.7 L1247.0 2783.1 L1249.8 2783.5 L1252.6 2783.9 L1255.4 2784.3 L1258.2 2784.7 L1261.0 2785.1 L1263.8 2785.5 L1266.6 2785.9 L1269.4 2786.3 L1272.2 2786.7 L1274.9 2787.1 L1277.7 2787.5" stroke="#F396AA"/>
<path d="M275.5 2792.3 L278.3 2791.7 L281.1 2791.0 L283.9 2790.4 L286.7 2789.7 L289.5 2789.1 L292.3 2788.5 L295.0 2787.8 L297.8 2787.2 L300.6 2786.5 L303.4 2785.9 L306.2 2785.2 L309.0 2784.6 L311.8 2784.0 L314.6 2783.3 L317.4 2782.7 L320.2 2782.0 L323.0 2781.4 L325.8 2780.7 L328.5 2780.1 L331.3 2779.4 L334.1 2778.7 L336.9 2778.1 L339.7 2777.4 L342.5 2776.8 L345.3 2776.1 L348.1 2775.4 L350.9 2774.8 L353.7 2774.1 L356.5 2773.4 L359.3 2772.8 L362.0 2772.1 L364.8 2771.4 L367.6 2770.7 L370.4 2770.0 L373.2 2769.4 L376.0 2768.7 L378.8 2768.0 L381.6 2767.3 L384.4 2766.6 L387.2 2765.9 L390.0 2765.2 L392.8 2764.5 L395.5 2763.8 L398.3 2763.1 L401.1 2762.3 L403.9 2761.6 L406.7 2760.9 L409.5 2760.2 L412.3 2759.5 L415.1 2758.8 L417.9 2758.0 L420.7 2757.3 L423.5 2756.6 L426.3 2755.8 L429.0 2755.1 L431.8 2754.4 L434.6 2753.7 L437.4 2752.9 L440.2 2752.2 L443.0 2751.5 L445.8 2750.7 L448.6 2750.0 L451.4 2749.3 L454.2 2748.6 L457.0 2747.8 L459.8 2747.1 L462.5 2746.4 L465.3 2745.6 L468.1 2744.9 L470.9 2744.2 L473.7 2743.5 L476.5 2742.8 L479.3 2742.0 L482.1 2741.3 L484.9 2740.6 L487.7 2739.9 L490.5 2739.2 L493.3 2738.5 L496.0 2737.8 L498.8 2737.1 L501.6 2736.4 L504.4 2735.7 L507.2 2735.0 L510.0 2734.4 L512.8 2733.7 L515.6 2733.0 L518.4 2732.4 L521.2 2731.7 L524.0 2731.1 L526.8 2730.4 L529.5 2729.8 L532.3 2729.2 L535.1 2728.6 L537.9 2728.0 L540.7 2727.4 L543.5 2726.9 L546.3 2726.3 L549.1 2725.8 L551.9 2725.3 L554.7 2724.7 L557.5 2724.3 L560.3 2723.8 L563.1 2723.3 L565.8 2722.9 L568.6 2722.5 L571.4 2722.1 L574.2 2721.7 L577.0 2721.3 L579.8 2721.0 L582.6 2720.7 L585.4 2720.4 L588.2 2720.1 L591.0 2719.9 L593.8 2719.7 L596.6 2719.5 L599.3 2719.3 L602.1 2719.2 L604.9 2719.1 L607.7 2719.0 L610.5 2718.9 L613.3 2718.9 L616.1 2718.9 L618.9 2718.9 L621.7 2719.0 L624.5 2719.1 L627.3 2719.2 L630.1 2719.3 L632.8 2719.5 L635.6 2719.7 L638.4 2719.9 L641.2 2720.1 L644.0 2720.3 L646.8 2720.6 L649.6 2720.8 L652.4 2721.1 L655.2 2721.5 L658.0 2721.8 L660.8 2722.1 L663.6 2722.5 L666.3 2722.9 L669.1 2723.2 L671.9 2723.6 L674.7 2724.0 L677.5 2724.5 L680.3 2724.9 L683.1 2725.3 L685.9 2725.8 L688.7 2726.2 L691.5 2726.7 L694.3 2727.2 L697.1 2727.6 L699.8 2728.1 L702.6 2728.6 L705.4 2729.1 L708.2 2729.6 L711.0 2730.1 L713.8 2730.5 L716.6 2731.0 L719.4 2731.5 L722.2 2732.0 L725.0 2732.5 L727.8 2733.0 L730.6 2733.4 L733.3 2733.9 L736.1 2734.4 L738.9 2734.9 L741.7 2735.4 L744.5 2735.8 L747.3 2736.3 L750.1 2736.8 L752.9 2737.3 L755.7 2737.8 L758.5 2738.3 L761.3 2738.8 L764.1 2739.3 L766.8 2739.8 L769.6 2740.3 L772.4 2740.9 L775.2 2741.4 L778.0 2741.9 L780.8 2742.5 L783.6 2743.1 L786.4 2743.6 L789.2 2744.2 L792.0 2744.8 L794.8 2745.4 L797.6 2746.0 L800.3 2746.6 L803.1 2747.3 L805.9 2747.9 L808.7 2748.6 L811.5 2749.2 L814.3 2749.9 L817.1 2750.6 L819.9 2751.4 L822.7 2752.1 L825.5 2752.9 L828.3 2753.6 L831.1 2754.4 L833.9 2755.2 L836.6 2756.0 L839.4 2756.9 L842.2 2757.8 L845.0 2758.6 L847.8 2759.5 L850.6 2760.4 L853.4 2761.4 L856.2 2762.3 L859.0 2763.2 L861.8 2764.2 L864.6 2765.2 L867.4 2766.2 L870.1 2767.2 L872.9 2768.2 L875.7 2769.2 L878.5 2770.2 L881.3 2771.2 L884.1 2772.3 L886.9 2773.3 L889.7 2774.4 L892.5 2775.4 L895.3 2776.5 L898.1 2777.6 L900.9 2778.6 L903.6 2779.7 L906.4 2780.8 L909.2 2781.9 L912.0 2783.0 L914.8 2784.0 L917.6 2785.1 L920.4 2786.2 L923.2 2787.3 L926.0 2788.4 L928.8 2789.5 L931.6 2790.5 L934.4 2791.6 L937.1 2792.7 L939.9 2793.7 L942.7 2794.8 L945.5 2795.9 L948.3 2796.9 L951.1 2798.0 L953.9 2799.0 L956.7 2800.0 L959.5 2801.1 L962.3 2802.1 L965.1 2803.1 L967.9 2804.1 L970.6 2805.1 L973.4 2806.1 L976.2 2807.2 L979.0 2808.2 L981.8 2809.2 L984.6 2810.2 L987.4 2811.2 L990.2 2812.2 L993.0 2813.2 L995.8 2814.2 L998.6 2815.2 L1001.4 2816.2 L1004.1 2817.2 L1006.9 2818.2 L1009.7 2819.2 L1012.5 2820.2 L1015.3 2821.2 L1018.1 2822.2 L1020.9 2823.2 L1023.7 2824.2 L1026.5 2825.2 L1029.3 2826.2 L1032.1 2827.2 L1034.9 2828.2 L1037.6 2829.2 L1040.4 2830.2 L1043.2 2831.1 L1046.0 2832.1 L1048.8 2833.1 L1051.6 2834.2 L1054.4 2835.2 L1057.2 2836.2 L1060.0 2837.2 L1062.8 2838.2 L1065.6 2839.2 L1068.4 2840.2 L1071.2 2841.2 L1073.9 2842.2 L1076.7 2843.2 L1079.5 2844.2 L1082.3 2845.2 L1085.1 2846.2 L1087.9 2847.1 L1090.7 2848.1 L1093.5 2849.1 L1096.3 2850.1 L1099.1 2851.0 L1101.9 2852.0 L1104.7 2852.9 L1107.4 2853.9 L1110.2 2854.8 L1113.0 2855.7 L1115.8 2856.7 L1118.6 2857.6 L1121.4 2858.5 L1124.2 2859.4 L1127.0 2860.2 L1129.8 2861.1 L1132.6 2862.0 L1135.4 2862.8 L1138.2 2863.7 L1140.9 2864.5 L1143.7 2865.3 L1146.5 2866.1 L1149.3 2866.9 L1152.1 2867.7 L1154.9 2868.5 L1157.7 2869.3 L1160.5 2870.0 L1163.3 2870.8 L1166.1 2871.5 L1168.9 2872.3 L1171.7 2873.0 L1174.4 2873.7 L1177.2 2874.4 L1180.0 2875.1 L1182.8 2875.8 L1185.6 2876.5 L1188.4 2877.2 L1191.2 2877.9 L1194.0 2878.6 L1196.8 2879.3 L1199.6 2880.0 L1202.4 2880.7 L1205.2 2881.4 L1207.9 2882.1 L1210.7 2882.8 L1213.5 2883.5 L1216.3 2884.2 L1219.1 2884.9 L1221.9 2885.6 L1224.7 2886.4 L1227.5 2887.1 L1230.3 2887.9 L1233.1 2888.6 L1235.9 2889.4 L1238.7 2890.2 L1241.4 2891.0 L1244.2 2891.8 L1247.0 2892.6 L1249.8 2893.4 L1252.6 2894.2 L1255.4 2895.0 L1258.2 2895.8 L1261.0 2896.6 L1263.8 2897.4 L1266.6 2898.3 L1269.4 2899.1 L1272.2 2899.9 L1274.9 2900.7 L1277.7 2901.6" stroke="#1A1A1A"/>
<path d="M275.5 2824.6 L278.3 2823.7 L281.1 2822.7 L283.9 2821.8 L286.7 2820.9 L289.5 2820.0 L292.3 2819.1 L295.0 2818.2 L297.8 2817.3 L300.6 2816.4 L303.4 2815.5 L306.2 2814.6 L309.0 2813.7 L311.8 2812.8 L314.6 2811.8 L317.4 2810.9 L320.2 2810.0 L323.0 2809.1 L325.8 2808.2 L328.5 2807.3 L331.3 2806.3 L334.1 2805.4 L336.9 2804.5 L339.7 2803.6 L342.5 2802.6 L345.3 2801.7 L348.1 2800.8 L350.9 2799.8 L353.7 2798.9 L356.5 2797.9 L359.3 2797.0 L362.0 2796.0 L364.8 2795.1 L367.6 2794.1 L370.4 2793.2 L373.2 2792.2 L376.0 2791.3 L378.8 2790.3 L381.6 2789.3 L384.4 2788.4 L387.2 2787.4 L390.0 2786.4 L392.8 2785.4 L395.5 2784.4 L398.3 2783.4 L401.1 2782.4 L403.9 2781.4 L406.7 2780.4 L409.5 2779.4 L412.3 2778.4 L415.1 2777.4 L417.9 2776.4 L420.7 2775.4 L423.5 2774.4 L426.3 2773.4 L429.0 2772.3 L431.8 2771.3 L434.6 2770.3 L437.4 2769.2 L440.2 2768.2 L443.0 2767.2 L445.8 2766.1 L448.6 2765.1 L451.4 2764.0 L454.2 2763.0 L457.0 2761.9 L459.8 2760.9 L462.5 2759.8 L465.3 2758.8 L468.1 2757.7 L470.9 2756.6 L473.7 2755.6 L476.5 2754.5 L479.3 2753.4 L482.1 2752.4 L484.9 2751.3 L487.7 2750.2 L490.5 2749.1 L493.3 2748.0 L496.0 2747.0 L498.8 2745.9 L501.6 2744.8 L504.4 2743.7 L507.2 2742.6 L510.0 2741.6 L512.8 2740.5 L515.6 2739.4 L518.4 2738.3 L521.2 2737.3 L524.0 2736.2 L526.8 2735.2 L529.5 2734.2 L532.3 2733.2 L535.1 2732.2 L537.9 2731.2 L540.7 2730.2 L543.5 2729.3 L546.3 2728.4 L549.1 2727.5 L551.9 2726.6 L554.7 2725.8 L557.5 2724.9 L560.3 2724.1 L563.1 2723.4 L565.8 2722.6 L568.6 2721.9 L571.4 2721.3 L574.2 2720.6 L577.0 2720.0 L579.8 2719.5 L582.6 2718.9 L585.4 2718.5 L588.2 2718.0 L591.0 2717.6 L593.8 2717.2 L596.6 2716.9 L599.3 2716.7 L602.1 2716.4 L604.9 2716.3 L607.7 2716.2 L610.5 2716.1 L613.3 2716.1 L616.1 2716.1 L618.9 2716.2 L621.7 2716.3 L624.5 2716.5 L627.3 2716.7 L630.1 2717.0 L632.8 2717.3 L635.6 2717.7 L638.4 2718.1 L641.2 2718.6 L644.0 2719.0 L646.8 2719.6 L649.6 2720.1 L652.4 2720.7 L655.2 2721.4 L658.0 2722.0 L660.8 2722.7 L663.6 2723.4 L666.3 2724.2 L669.1 2725.0 L671.9 2725.8 L674.7 2726.6 L677.5 2727.5 L680.3 2728.4 L683.1 2729.3 L685.9 2730.2 L688.7 2731.1 L691.5 2732.1 L694.3 2733.1 L697.1 2734.1 L699.8 2735.1 L702.6 2736.1 L705.4 2737.2 L708.2 2738.2 L711.0 2739.3 L713.8 2740.4 L716.6 2741.4 L719.4 2742.5 L722.2 2743.6 L725.0 2744.7 L727.8 2745.8 L730.6 2746.9 L733.3 2748.0 L736.1 2749.1 L738.9 2750.2 L741.7 2751.4 L744.5 2752.5 L747.3 2753.6 L750.1 2754.8 L752.9 2755.9 L755.7 2757.1 L758.5 2758.3 L761.3 2759.5 L764.1 2760.6 L766.8 2761.8 L769.6 2763.0 L772.4 2764.2 L775.2 2765.5 L778.0 2766.7 L780.8 2767.9 L783.6 2769.2 L786.4 2770.5 L789.2 2771.7 L792.0 2773.0 L794.8 2774.3 L797.6 2775.6 L800.3 2776.9 L803.1 2778.3 L805.9 2779.6 L808.7 2781.0 L811.5 2782.3 L814.3 2783.7 L817.1 2785.1 L819.9 2786.5 L822.7 2788.0 L825.5 2789.4 L828.3 2790.9 L831.1 2792.3 L833.9 2793.8 L836.6 2795.3 L839.4 2796.8 L842.2 2798.3 L845.0 2799.9 L847.8 2801.4 L850.6 2803.0 L853.4 2804.6 L856.2 2806.2 L859.0 2807.8 L861.8 2809.4 L864.6 2811.0 L867.4 2812.6 L870.1 2814.3 L872.9 2815.9 L875.7 2817.5 L878.5 2819.2 L881.3 2820.9 L884.1 2822.5 L886.9 2824.2 L889.7 2825.9 L892.5 2827.6 L895.3 2829.3 L898.1 2830.9 L900.9 2832.6 L903.6 2834.3 L906.4 2836.0 L909.2 2837.7 L912.0 2839.4 L914.8 2841.1 L917.6 2842.8 L920.4 2844.5 L923.2 2846.2 L926.0 2847.9 L928.8 2849.5 L931.6 2851.2 L934.4 2852.9 L937.1 2854.6 L939.9 2856.2 L942.7 2857.9 L945.5 2859.5 L948.3 2861.2 L951.1 2862.8 L953.9 2864.5 L956.7 2866.1 L959.5 2867.7 L962.3 2869.3 L965.1 2871.0 L967.9 2872.6 L970.6 2874.2 L973.4 2875.9 L976.2 2877.5 L979.0 2879.1 L981.8 2880.8 L984.6 2882.4 L987.4 2884.1 L990.2 2885.7 L993.0 2887.4 L995.8 2889.0 L998.6 2890.7 L1001.4 2892.3 L1004.1 2894.0 L1006.9 2895.6 L1009.7 2897.3 L1012.5 2898.9 L1015.3 2900.6 L1018.1 2902.2 L1020.9 2903.9 L1023.7 2905.5 L1026.5 2907.1 L1029.3 2908.8 L1032.1 2910.4 L1034.9 2912.0 L1037.6 2913.7 L1040.4 2915.3 L1043.2 2916.9 L1046.0 2918.5 L1048.8 2920.1 L1051.6 2921.7 L1054.4 2923.3 L1057.2 2924.9 L1060.0 2926.5 L1062.8 2928.1 L1065.6 2929.6 L1068.4 2931.2 L1071.2 2932.8 L1073.9 2934.3 L1076.7 2935.8 L1079.5 2937.4 L1082.3 2938.9 L1085.1 2940.5 L1087.9 2942.0 L1090.7 2943.5 L1093.5 2945.0 L1096.3 2946.5 L1099.1 2948.0 L1101.9 2949.5 L1104.7 2951.0 L1107.4 2952.5 L1110.2 2954.0 L1113.0 2955.5 L1115.8 2957.0 L1118.6 2958.5 L1121.4 2960.0 L1124.2 2961.4 L1127.0 2962.9 L1129.8 2964.4 L1132.6 2965.8 L1135.4 2967.3 L1138.2 2968.7 L1140.9 2970.2 L1143.7 2971.6 L1146.5 2973.0 L1149.3 2974.4 L1152.1 2975.8 L1154.9 2977.2 L1157.7 2978.6 L1160.5 2979.9 L1163.3 2981.3 L1166.1 2982.6 L1168.9 2984.0 L1171.7 2985.3 L1174.4 2986.6 L1177.2 2987.9 L1180.0 2989.2 L1182.8 2990.5 L1185.6 2991.7 L1188.4 2993.0 L1191.2 2994.2 L1194.0 2995.5 L1196.8 2996.7 L1199.6 2997.9 L1202.4 2999.1 L1205.2 3000.3 L1207.9 3001.5 L1210.7 3002.7 L1213.5 3003.8 L1216.3 3005.0 L1219.1 3006.2 L1221.9 3007.3 L1224.7 3008.5 L1227.5 3009.6 L1230.3 3010.7 L1233.1 3011.9 L1235.9 3013.0 L1238.7 3014.1 L1241.4 3015.2 L1244.2 3016.4 L1247.0 3017.5 L1249.8 3018.6 L1252.6 3019.7 L1255.4 3020.8 L1258.2 3021.9 L1261.0 3023.0 L1263.8 3024.1 L1266.6 3025.2 L1269.4 3026.3 L1272.2 3027.3 L1274.9 3028.4 L1277.7 3029.5" stroke="#8DB44A"/>
<path d="M275.5 2859.2 L278.3 2858.0 L281.1 2856.8 L283.9 2855.6 L286.7 2854.4 L289.5 2853.2 L292.3 2852.0 L295.0 2850.8 L297.8 2849.6 L300.6 2848.4 L303.4 2847.1 L306.2 2845.9 L309.0 2844.7 L311.8 2843.5 L314.6 2842.3 L317.4 2841.1 L320.2 2839.8 L323.0 2838.6 L325.8 2837.4 L328.5 2836.1 L331.3 2834.9 L334.1 2833.7 L336.9 2832.4 L339.7 2831.2 L342.5 2829.9 L345.3 2828.7 L348.1 2827.4 L350.9 2826.2 L353.7 2824.9 L356.5 2823.7 L359.3 2822.4 L362.0 2821.1 L364.8 2819.8 L367.6 2818.6 L370.4 2817.3 L373.2 2816.0 L376.0 2814.7 L378.8 2813.4 L381.6 2812.1 L384.4 2810.8 L387.2 2809.4 L390.0 2808.1 L392.8 2806.8 L395.5 2805.4 L398.3 2804.1 L401.1 2802.8 L403.9 2801.4 L406.7 2800.0 L409.5 2798.7 L412.3 2797.3 L415.1 2795.9 L417.9 2794.6 L420.7 2793.2 L423.5 2791.8 L426.3 2790.4 L429.0 2789.0 L431.8 2787.6 L434.6 2786.2 L437.4 2784.8 L440.2 2783.4 L443.0 2782.0 L445.8 2780.5 L448.6 2779.1 L451.4 2777.7 L454.2 2776.2 L457.0 2774.8 L459.8 2773.4 L462.5 2771.9 L465.3 2770.5 L468.1 2769.0 L470.9 2767.6 L473.7 2766.1 L476.5 2764.7 L479.3 2763.2 L482.1 2761.7 L484.9 2760.3 L487.7 2758.8 L490.5 2757.3 L493.3 2755.9 L496.0 2754.4 L498.8 2752.9 L501.6 2751.4 L504.4 2750.0 L507.2 2748.5 L510.0 2747.0 L512.8 2745.5 L515.6 2744.1 L518.4 2742.6 L521.2 2741.2 L524.0 2739.8 L526.8 2738.4 L529.5 2737.0 L532.3 2735.6 L535.1 2734.3 L537.9 2732.9 L540.7 2731.6 L543.5 2730.4 L546.3 2729.1 L549.1 2727.9 L551.9 2726.7 L554.7 2725.6 L557.5 2724.4 L560.3 2723.4 L563.1 2722.3 L565.8 2721.3 L568.6 2720.4 L571.4 2719.5 L574.2 2718.6 L577.0 2717.8 L579.8 2717.0 L582.6 2716.3 L585.4 2715.7 L588.2 2715.1 L591.0 2714.5 L593.8 2714.1 L596.6 2713.7 L599.3 2713.3 L602.1 2713.0 L604.9 2712.8 L607.7 2712.7 L610.5 2712.6 L613.3 2712.6 L616.1 2712.7 L618.9 2712.8 L621.7 2713.0 L624.5 2713.3 L627.3 2713.6 L630.1 2714.0 L632.8 2714.5 L635.6 2715.0 L638.4 2715.6 L641.2 2716.2 L644.0 2716.9 L646.8 2717.7 L649.6 2718.5 L652.4 2719.3 L655.2 2720.2 L658.0 2721.2 L660.8 2722.2 L663.6 2723.3 L666.3 2724.4 L669.1 2725.5 L671.9 2726.7 L674.7 2727.9 L677.5 2729.2 L680.3 2730.5 L683.1 2731.8 L685.9 2733.2 L688.7 2734.6 L691.5 2736.0 L694.3 2737.5 L697.1 2739.0 L699.8 2740.5 L702.6 2742.0 L705.4 2743.6 L708.2 2745.2 L711.0 2746.8 L713.8 2748.4 L716.6 2750.1 L719.4 2751.7 L722.2 2753.4 L725.0 2755.1 L727.8 2756.8 L730.6 2758.6 L733.3 2760.3 L736.1 2762.1 L738.9 2763.9 L741.7 2765.6 L744.5 2767.4 L747.3 2769.3 L750.1 2771.1 L752.9 2772.9 L755.7 2774.8 L758.5 2776.7 L761.3 2778.6 L764.1 2780.5 L766.8 2782.4 L769.6 2784.3 L772.4 2786.3 L775.2 2788.3 L778.0 2790.2 L780.8 2792.2 L783.6 2794.3 L786.4 2796.3 L789.2 2798.3 L792.0 2800.4 L794.8 2802.5 L797.6 2804.5 L800.3 2806.6 L803.1 2808.8 L805.9 2810.9 L808.7 2813.0 L811.5 2815.2 L814.3 2817.4 L817.1 2819.6 L819.9 2821.8 L822.7 2824.0 L825.5 2826.3 L828.3 2828.5 L831.1 2830.8 L833.9 2833.1 L836.6 2835.4 L839.4 2837.7 L842.2 2840.0 L845.0 2842.4 L847.8 2844.7 L850.6 2847.1 L853.4 2849.4 L856.2 2851.8 L859.0 2854.2 L861.8 2856.6 L864.6 2859.1 L867.4 2861.5 L870.1 2863.9 L872.9 2866.3 L875.7 2868.8 L878.5 2871.2 L881.3 2873.7 L884.1 2876.1 L886.9 2878.6 L889.7 2881.0 L892.5 2883.5 L895.3 2886.0 L898.1 2888.4 L900.9 2890.9 L903.6 2893.4 L906.4 2895.8 L909.2 2898.3 L912.0 2900.7 L914.8 2903.2 L917.6 2905.6 L920.4 2908.1 L923.2 2910.5 L926.0 2913.0 L928.8 2915.4 L931.6 2917.8 L934.4 2920.2 L937.1 2922.6 L939.9 2925.0 L942.7 2927.4 L945.5 2929.8 L948.3 2932.1 L951.1 2934.5 L953.9 2936.8 L956.7 2939.2 L959.5 2941.5 L962.3 2943.9 L965.1 2946.2 L967.9 2948.6 L970.6 2951.0 L973.4 2953.3 L976.2 2955.7 L979.0 2958.1 L981.8 2960.6 L984.6 2963.0 L987.4 2965.4 L990.2 2967.9 L993.0 2970.3 L995.8 2972.8 L998.6 2975.2 L1001.4 2977.7 L1004.1 2980.2 L1006.9 2982.7 L1009.7 2985.2 L1012.5 2987.6 L1015.3 2990.1 L1018.1 2992.6 L1020.9 2995.1 L1023.7 2997.6 L1026.5 3000.1 L1029.3 3002.6 L1032.1 3005.1 L1034.9 3007.6 L1037.6 3010.1 L1040.4 3012.5 L1043.2 3015.0 L1046.0 3017.5 L1048.8 3019.9 L1051.6 3022.4 L1054.4 3024.8 L1057.2 3027.2 L1060.0 3029.6 L1062.8 3032.0 L1065.6 3034.4 L1068.4 3036.8 L1071.2 3039.2 L1073.9 3041.5 L1076.7 3043.8 L1079.5 3046.2 L1082.3 3048.4 L1085.1 3050.7 L1087.9 3053.0 L1090.7 3055.2 L1093.5 3057.4 L1096.3 3059.6 L1099.1 3061.7 L1101.9 3063.8 L1104.7 3065.9 L1107.4 3068.0 L1110.2 3070.0 L1113.0 3072.0 L1115.8 3074.0 L1118.6 3076.0 L1121.4 3077.9 L1124.2 3079.8 L1127.0 3081.7 L1129.8 3083.5 L1132.6 3085.4 L1135.4 3087.2 L1138.2 3089.0 L1140.9 3090.8 L1143.7 3092.6 L1146.5 3094.4 L1149.3 3096.2 L1152.1 3097.9 L1154.9 3099.7 L1157.7 3101.5 L1160.5 3103.3 L1163.3 3105.1 L1166.1 3106.9 L1168.9 3108.7 L1171.7 3110.5 L1174.4 3112.3 L1177.2 3114.1 L1180.0 3115.9 L1182.8 3117.8 L1185.6 3119.6 L1188.4 3121.4 L1191.2 3123.2 L1194.0 3125.0 L1196.8 3126.8 L1199.6 3128.5 L1202.4 3130.3 L1205.2 3132.0 L1207.9 3133.7 L1210.7 3135.4 L1213.5 3137.1 L1216.3 3138.7 L1219.1 3140.3 L1221.9 3141.9 L1224.7 3143.4 L1227.5 3144.9 L1230.3 3146.4 L1233.1 3147.8 L1235.9 3149.2 L1238.7 3150.6 L1241.4 3152.0 L1244.2 3153.3 L1247.0 3154.7 L1249.8 3156.0 L1252.6 3157.2 L1255.4 3158.5 L1258.2 3159.8 L1261.0 3161.0 L1263.8 3162.2 L1266.6 3163.5 L1269.4 3164.7 L1272.2 3165.9 L1274.9 3167.1 L1277.7 3168.3" stroke="#005BAC"/>
<path d="M275.5 2889.7 L278.3 2888.5 L281.1 2887.3 L283.9 2886.1 L286.7 2885.0 L289.5 2883.8 L292.3 2882.6 L295.0 2881.4 L297.8 2880.2 L300.6 2878.9 L303.4 2877.7 L306.2 2876.5 L309.0 2875.3 L311.8 2874.1 L314.6 2872.8 L317.4 2871.6 L320.2 2870.4 L323.0 2869.1 L325.8 2867.8 L328.5 2866.6 L331.3 2865.3 L334.1 2864.0 L336.9 2862.7 L339.7 2861.4 L342.5 2860.1 L345.3 2858.8 L348.1 2857.5 L350.9 2856.1 L353.7 2854.8 L356.5 2853.4 L359.3 2852.0 L362.0 2850.6 L364.8 2849.2 L367.6 2847.8 L370.4 2846.4 L373.2 2844.9 L376.0 2843.5 L378.8 2842.0 L381.6 2840.5 L384.4 2839.0 L387.2 2837.5 L390.0 2835.9 L392.8 2834.4 L395.5 2832.8 L398.3 2831.2 L401.1 2829.6 L403.9 2828.0 L406.7 2826.3 L409.5 2824.7 L412.3 2823.0 L415.1 2821.3 L417.9 2819.6 L420.7 2817.8 L423.5 2816.1 L426.3 2814.3 L429.0 2812.5 L431.8 2810.7 L434.6 2808.9 L437.4 2807.1 L440.2 2805.3 L443.0 2803.4 L445.8 2801.5 L448.6 2799.6 L451.4 2797.7 L454.2 2795.8 L457.0 2793.8 L459.8 2791.8 L462.5 2789.8 L465.3 2787.8 L468.1 2785.8 L470.9 2783.8 L473.7 2781.7 L476.5 2779.7 L479.3 2777.6 L482.1 2775.5 L484.9 2773.4 L487.7 2771.2 L490.5 2769.1 L493.3 2766.9 L496.0 2764.7 L498.8 2762.5 L501.6 2760.3 L504.4 2758.1 L507.2 2755.8 L510.0 2753.6 L512.8 2751.4 L515.6 2749.1 L518.4 2746.9 L521.2 2744.8 L524.0 2742.6 L526.8 2740.5 L529.5 2738.4 L532.3 2736.3 L535.1 2734.3 L537.9 2732.4 L540.7 2730.5 L543.5 2728.7 L546.3 2726.9 L549.1 2725.2 L551.9 2723.6 L554.7 2722.1 L557.5 2720.7 L560.3 2719.3 L563.1 2718.0 L565.8 2716.8 L568.6 2715.7 L571.4 2714.6 L574.2 2713.6 L577.0 2712.7 L579.8 2711.9 L582.6 2711.1 L585.4 2710.4 L588.2 2709.8 L591.0 2709.2 L593.8 2708.7 L596.6 2708.2 L599.3 2707.8 L602.1 2707.5 L604.9 2707.2 L607.7 2707.0 L610.5 2706.8 L613.3 2706.7 L616.1 2706.6 L618.9 2706.6 L621.7 2706.7 L624.5 2706.9 L627.3 2707.1 L630.1 2707.4 L632.8 2707.7 L635.6 2708.2 L638.4 2708.7 L641.2 2709.3 L644.0 2710.0 L646.8 2710.8 L649.6 2711.7 L652.4 2712.7 L655.2 2713.8 L658.0 2714.9 L660.8 2716.1 L663.6 2717.5 L666.3 2718.9 L669.1 2720.3 L671.9 2721.9 L674.7 2723.6 L677.5 2725.3 L680.3 2727.1 L683.1 2729.0 L685.9 2731.0 L688.7 2733.0 L691.5 2735.1 L694.3 2737.3 L697.1 2739.5 L699.8 2741.8 L702.6 2744.1 L705.4 2746.4 L708.2 2748.8 L711.0 2751.3 L713.8 2753.7 L716.6 2756.2 L719.4 2758.8 L722.2 2761.3 L725.0 2763.9 L727.8 2766.4 L730.6 2769.0 L733.3 2771.6 L736.1 2774.3 L738.9 2776.9 L741.7 2779.6 L744.5 2782.2 L747.3 2784.9 L750.1 2787.6 L752.9 2790.4 L755.7 2793.1 L758.5 2795.8 L761.3 2798.6 L764.1 2801.4 L766.8 2804.2 L769.6 2807.0 L772.4 2809.8 L775.2 2812.6 L778.0 2815.4 L780.8 2818.3 L783.6 2821.2 L786.4 2824.1 L789.2 2826.9 L792.0 2829.8 L794.8 2832.8 L797.6 2835.7 L800.3 2838.6 L803.1 2841.6 L805.9 2844.5 L808.7 2847.5 L811.5 2850.5 L814.3 2853.5 L817.1 2856.5 L819.9 2859.5 L822.7 2862.5 L825.5 2865.5 L828.3 2868.5 L831.1 2871.6 L833.9 2874.6 L836.6 2877.7 L839.4 2880.7 L842.2 2883.8 L845.0 2886.9 L847.8 2890.0 L850.6 2893.1 L853.4 2896.2 L856.2 2899.3 L859.0 2902.4 L861.8 2905.5 L864.6 2908.7 L867.4 2911.8 L870.1 2915.0 L872.9 2918.1 L875.7 2921.3 L878.5 2924.5 L881.3 2927.6 L884.1 2930.8 L886.9 2934.0 L889.7 2937.2 L892.5 2940.4 L895.3 2943.7 L898.1 2946.9 L900.9 2950.1 L903.6 2953.4 L906.4 2956.6 L909.2 2959.9 L912.0 2963.1 L914.8 2966.4 L917.6 2969.7 L920.4 2973.0 L923.2 2976.2 L926.0 2979.5 L928.8 2982.8 L931.6 2986.2 L934.4 2989.5 L937.1 2992.8 L939.9 2996.1 L942.7 2999.5 L945.5 3002.8 L948.3 3006.2 L951.1 3009.5 L953.9 3012.9 L956.7 3016.3 L959.5 3019.7 L962.3 3023.1 L965.1 3026.6 L967.9 3030.1 L970.6 3033.5 L973.4 3037.1 L976.2 3040.6 L979.0 3044.2 L981.8 3047.8 L984.6 3051.4 L987.4 3055.0 L990.2 3058.6 L993.0 3062.1 L995.8 3065.7 L998.6 3069.3 L1001.4 3072.8 L1004.1 3076.3 L1006.9 3079.7 L1009.7 3083.2 L1012.5 3086.5 L1015.3 3089.9 L1018.1 3093.2 L1020.9 3096.5 L1023.7 3099.8 L1026.5 3103.1 L1029.3 3106.3 L1032.1 3109.6 L1034.9 3112.8 L1037.6 3116.0 L1040.4 3119.2 L1043.2 3122.4 L1046.0 3125.6 L1048.8 3128.7 L1051.6 3131.9 L1054.4 3135.1 L1057.2 3138.3 L1060.0 3141.5 L1062.8 3144.7 L1065.6 3147.9 L1068.4 3151.1 L1071.2 3154.3 L1073.9 3157.5 L1076.7 3160.7 L1079.5 3163.9 L1082.3 3167.0 L1085.1 3170.1 L1087.9 3173.3 L1090.7 3176.3 L1093.5 3179.4 L1096.3 3182.4 L1099.1 3185.4 L1101.9 3188.4 L1104.7 3191.3 L1107.4 3194.2 L1110.2 3197.0 L1113.0 3199.8 L1115.8 3202.5 L1118.6 3205.2 L1121.4 3207.9 L1124.2 3210.5 L1127.0 3213.1 L1129.8 3215.7 L1132.6 3218.2 L1135.4 3220.7 L1138.2 3223.1 L1140.9 3225.5 L1143.7 3227.9 L1146.5 3230.3 L1149.3 3232.7 L1152.1 3235.0 L1154.9 3237.3 L1157.7 3239.6 L1160.5 3241.9 L1163.3 3244.2 L1166.1 3246.4 L1168.9 3248.7 L1171.7 3250.9 L1174.4 3253.2 L1177.2 3255.4 L1180.0 3257.6 L1182.8 3259.8 L1185.6 3262.0 L1188.4 3264.2 L1191.2 3266.3 L1194.0 3268.5 L1196.8 3270.6 L1199.6 3272.7 L1202.4 3274.8 L1205.2 3276.9 L1207.9 3278.9 L1210.7 3280.9 L1213.5 3282.9 L1216.3 3284.9 L1219.1 3286.9 L1221.9 3288.8 L1224.7 3290.7 L1227.5 3292.6 L1230.3 3294.5 L1233.1 3296.3 L1235.9 3298.1 L1238.7 3299.9 L1241.4 3301.7 L1244.2 3303.4 L1247.0 3305.0 L1249.8 3306.7 L1252.6 3308.3 L1255.4 3309.8 L1258.2 3311.3 L1261.0 3312.8 L1263.8 3314.2 L1266.6 3315.6 L1269.4 3316.9 L1272.2 3318.2 L1274.9 3319.5 L1277.7 3320.8" stroke="#C81A44"/>
</g>
<line x1="386.9" y1="2599.8" x2="386.9" y2="3432.7" stroke="#262626" stroke-opacity="0.2" stroke-width="4.6" stroke-dasharray="28.6 15.9" stroke-dashoffset="36.3"/>
<line x1="498.2" y1="2599.8" x2="498.2" y2="3432.7" stroke="#262626" stroke-opacity="0.2" stroke-width="4.6" stroke-dasharray="28.6 15.9" stroke-dashoffset="36.3"/>
<line x1="609.6" y1="2599.8" x2="609.6" y2="3432.7" stroke="#262626" stroke-opacity="0.2" stroke-width="4.6" stroke-dasharray="28.6 15.9" stroke-dashoffset="36.3"/>
<line x1="720.9" y1="2599.8" x2="720.9" y2="3432.7" stroke="#262626" stroke-opacity="0.2" stroke-width="4.6" stroke-dasharray="28.6 15.9" stroke-dashoffset="36.3"/>
<line x1="832.3" y1="2599.8" x2="832.3" y2="3432.7" stroke="#262626" stroke-opacity="0.2" stroke-width="4.6" stroke-dasharray="28.6 15.9" stroke-dashoffset="36.3"/>
<line x1="943.7" y1="2599.8" x2="943.7" y2="3432.7" stroke="#262626" stroke-opacity="0.2" stroke-width="4.6" stroke-dasharray="28.6 15.9" stroke-dashoffset="36.3"/>
<line x1="1055.0" y1="2599.8" x2="1055.0" y2="3432.7" stroke="#262626" stroke-opacity="0.2" stroke-width="4.6" stroke-dasharray="28.6 15.9" stroke-dashoffset="36.3"/>
<line x1="1166.4" y1="2599.8" x2="1166.4" y2="3432.7" stroke="#262626" stroke-opacity="0.2" stroke-width="4.6" stroke-dasharray="28.6 15.9" stroke-dashoffset="36.3"/>
<line x1="1277.7" y1="2599.8" x2="1277.7" y2="3432.7" stroke="#262626" stroke-opacity="0.2" stroke-width="4.6" stroke-dasharray="28.6 15.9" stroke-dashoffset="36.3"/>
<line x1="278.4" y1="2597.5" x2="1275.2" y2="2597.5" stroke="#262626" stroke-opacity="0.2" stroke-width="4.6" stroke-dasharray="28.6 15.9" stroke-dashoffset="8.0"/>
<line x1="278.4" y1="2717.0" x2="1275.2" y2="2717.0" stroke="#262626" stroke-opacity="0.2" stroke-width="4.6" stroke-dasharray="28.6 15.9" stroke-dashoffset="8.0"/>
<line x1="278.4" y1="2836.5" x2="1275.2" y2="2836.5" stroke="#262626" stroke-opacity="0.2" stroke-width="4.6" stroke-dasharray="28.6 15.9" stroke-dashoffset="8.0"/>
<line x1="278.4" y1="2956.0" x2="1275.2" y2="2956.0" stroke="#262626" stroke-opacity="0.2" stroke-width="4.6" stroke-dasharray="28.6 15.9" stroke-dashoffset="8.0"/>
<line x1="278.4" y1="3075.5" x2="1275.2" y2="3075.5" stroke="#262626" stroke-opacity="0.2" stroke-width="4.6" stroke-dasharray="28.6 15.9" stroke-dashoffset="8.0"/>
<line x1="278.4" y1="3195.0" x2="1275.2" y2="3195.0" stroke="#262626" stroke-opacity="0.2" stroke-width="4.6" stroke-dasharray="28.6 15.9" stroke-dashoffset="8.0"/>
<line x1="278.4" y1="3314.5" x2="1275.2" y2="3314.5" stroke="#262626" stroke-opacity="0.2" stroke-width="4.6" stroke-dasharray="28.6 15.9" stroke-dashoffset="8.0"/>
<line x1="278.4" y1="3434.0" x2="1275.2" y2="3434.0" stroke="#262626" stroke-opacity="0.2" stroke-width="4.6" stroke-dasharray="28.6 15.9" stroke-dashoffset="8.0"/>
<g stroke="#262626" stroke-width="4.5" clip-path="url(#c5333)">
<line x1="275.5" y1="2599.8" x2="275.5" y2="2610.3"/><line x1="275.5" y1="3432.7" x2="275.5" y2="3422.2"/>
<line x1="386.9" y1="2599.8" x2="386.9" y2="2610.3"/><line x1="386.9" y1="3432.7" x2="386.9" y2="3422.2"/>
<line x1="498.2" y1="2599.8" x2="498.2" y2="2610.3"/><line x1="498.2" y1="3432.7" x2="498.2" y2="3422.2"/>
<line x1="609.6" y1="2599.8" x2="609.6" y2="2610.3"/><line x1="609.6" y1="3432.7" x2="609.6" y2="3422.2"/>
<line x1="720.9" y1="2599.8" x2="720.9" y2="2610.3"/><line x1="720.9" y1="3432.7" x2="720.9" y2="3422.2"/>
<line x1="832.3" y1="2599.8" x2="832.3" y2="2610.3"/><line x1="832.3" y1="3432.7" x2="832.3" y2="3422.2"/>
<line x1="943.7" y1="2599.8" x2="943.7" y2="2610.3"/><line x1="943.7" y1="3432.7" x2="943.7" y2="3422.2"/>
<line x1="1055.0" y1="2599.8" x2="1055.0" y2="2610.3"/><line x1="1055.0" y1="3432.7" x2="1055.0" y2="3422.2"/>
<line x1="1166.4" y1="2599.8" x2="1166.4" y2="2610.3"/><line x1="1166.4" y1="3432.7" x2="1166.4" y2="3422.2"/>
<line x1="1277.7" y1="2599.8" x2="1277.7" y2="2610.3"/><line x1="1277.7" y1="3432.7" x2="1277.7" y2="3422.2"/>
<line x1="278.4" y1="2597.5" x2="288.9" y2="2597.5"/><line x1="1275.2" y1="2597.5" x2="1264.7" y2="2597.5"/>
<line x1="278.4" y1="2717.0" x2="288.9" y2="2717.0"/><line x1="1275.2" y1="2717.0" x2="1264.7" y2="2717.0"/>
<line x1="278.4" y1="2836.5" x2="288.9" y2="2836.5"/><line x1="1275.2" y1="2836.5" x2="1264.7" y2="2836.5"/>
<line x1="278.4" y1="2956.0" x2="288.9" y2="2956.0"/><line x1="1275.2" y1="2956.0" x2="1264.7" y2="2956.0"/>
<line x1="278.4" y1="3075.5" x2="288.9" y2="3075.5"/><line x1="1275.2" y1="3075.5" x2="1264.7" y2="3075.5"/>
<line x1="278.4" y1="3195.0" x2="288.9" y2="3195.0"/><line x1="1275.2" y1="3195.0" x2="1264.7" y2="3195.0"/>
<line x1="278.4" y1="3314.5" x2="288.9" y2="3314.5"/><line x1="1275.2" y1="3314.5" x2="1264.7" y2="3314.5"/>
<line x1="278.4" y1="3434.0" x2="288.9" y2="3434.0"/><line x1="1275.2" y1="3434.0" x2="1264.7" y2="3434.0"/>
</g>
<rect x="276.10" y="2597.50" width="1001.40" height="837.50" fill="none" stroke="#262626" stroke-width="4.6"/>
<g font-size="59" fill="#262626" stroke="#262626" stroke-width="0.9" text-anchor="end">
<text x="255.5" y="2617.6">20</text>
<text x="255.5" y="2737.1">0</text>
<text x="255.5" y="2856.6">−20</text>
<text x="255.5" y="2976.1">−40</text>
<text x="255.5" y="3095.6">−60</text>
<text x="255.5" y="3215.1">−80</text>
<text x="255.5" y="3334.6">−100</text>
<text x="255.5" y="3454.1">−120</text>
<text x="311.5" y="3494.3" transform="rotate(-45 311.5 3494.3)">−90</text>
<text x="422.9" y="3494.3" transform="rotate(-45 422.9 3494.3)">−70</text>
<text x="534.2" y="3494.3" transform="rotate(-45 534.2 3494.3)">−50</text>
<text x="645.6" y="3494.3" transform="rotate(-45 645.6 3494.3)">−30</text>
<text x="756.9" y="3494.3" transform="rotate(-45 756.9 3494.3)">−10</text>
<text x="868.3" y="3494.3" transform="rotate(-45 868.3 3494.3)">10</text>
<text x="979.7" y="3494.3" transform="rotate(-45 979.7 3494.3)">30</text>
<text x="1091.0" y="3494.3" transform="rotate(-45 1091.0 3494.3)">50</text>
<text x="1202.4" y="3494.3" transform="rotate(-45 1202.4 3494.3)">70</text>
<text x="1313.7" y="3494.3" transform="rotate(-45 1313.7 3494.3)">90</text>
</g>
<rect x="404.6" y="2919.2" width="413.9" height="265.3" fill="#fff"/>
<g fill="none" stroke-width="8.6">
<path d="M414.0 3134.8 L419.0 3134.5 L424.0 3134.2 L429.0 3134.0 L434.0 3133.7 L439.0 3133.4 L444.0 3133.1 L449.0 3132.9 L454.0 3132.6 L459.0 3132.3 L464.0 3132.0 L469.0 3131.8 L474.0 3131.5 L479.0 3131.2 L483.9 3130.9 L488.9 3130.7 L493.9 3130.4 L498.9 3130.1 L503.9 3129.9 L508.9 3129.6 L513.9 3129.4 L518.9 3129.1 L523.9 3128.9 L528.9 3128.6 L533.9 3128.3 L538.9 3128.1 L543.9 3127.9 L548.9 3127.6 L553.9 3127.4 L558.9 3127.1 L563.9 3126.9 L568.9 3126.7 L573.9 3126.5 L578.9 3126.2 L583.9 3126.0 L588.9 3125.8 L593.9 3125.6 L598.9 3125.4 L603.9 3125.2 L608.9 3125.0 L613.8 3124.8 L618.8 3124.6 L623.8 3124.4 L628.8 3124.2 L633.8 3124.0 L638.8 3123.9 L643.8 3123.7 L648.8 3123.5 L653.8 3123.4 L658.8 3123.2 L663.8 3123.0 L668.8 3122.9 L673.8 3122.7 L678.8 3122.6 L683.8 3122.4 L688.8 3122.3 L693.8 3122.1 L698.8 3122.0 L703.8 3121.8 L708.8 3121.7 L713.8 3121.6 L718.8 3121.4 L723.8 3121.3 L728.8 3121.2 L733.8 3121.0 L738.8 3120.9 L743.7 3120.8 L748.7 3120.7 L753.7 3120.5 L758.7 3120.4 L763.7 3120.3 L768.7 3120.2 L773.7 3120.0 L778.7 3119.9 L783.7 3119.8 L788.7 3119.7 L793.7 3119.6 L798.7 3119.4 L803.7 3119.3 L808.7 3119.2" stroke="#F396AA"/>
<path d="M414.0 3055.7 L419.0 3055.3 L424.0 3054.8 L429.0 3054.4 L434.0 3053.9 L439.0 3053.5 L444.0 3053.1 L449.0 3052.6 L454.0 3052.2 L459.0 3051.8 L464.0 3051.3 L469.0 3050.9 L474.0 3050.5 L479.0 3050.1 L483.9 3049.7 L488.9 3049.3 L493.9 3049.0 L498.9 3048.6 L503.9 3048.2 L508.9 3047.9 L513.9 3047.5 L518.9 3047.2 L523.9 3046.8 L528.9 3046.5 L533.9 3046.2 L538.9 3045.9 L543.9 3045.6 L548.9 3045.3 L553.9 3045.1 L558.9 3044.8 L563.9 3044.6 L568.9 3044.3 L573.9 3044.1 L578.9 3043.9 L583.9 3043.6 L588.9 3043.4 L593.9 3043.3 L598.9 3043.1 L603.9 3042.9 L608.9 3042.7 L613.8 3042.6 L618.8 3042.5 L623.8 3042.3 L628.8 3042.2 L633.8 3042.1 L638.8 3042.0 L643.8 3041.9 L648.8 3041.9 L653.8 3041.8 L658.8 3041.7 L663.8 3041.7 L668.8 3041.6 L673.8 3041.6 L678.8 3041.6 L683.8 3041.6 L688.8 3041.6 L693.8 3041.6 L698.8 3041.6 L703.8 3041.6 L708.8 3041.6 L713.8 3041.7 L718.8 3041.7 L723.8 3041.8 L728.8 3041.8 L733.8 3041.9 L738.8 3042.0 L743.7 3042.1 L748.7 3042.1 L753.7 3042.2 L758.7 3042.3 L763.7 3042.4 L768.7 3042.5 L773.7 3042.6 L778.7 3042.7 L783.7 3042.8 L788.7 3042.9 L793.7 3043.1 L798.7 3043.2 L803.7 3043.3 L808.7 3043.4" stroke="#1A1A1A"/>
<path d="M414.0 3022.9 L419.0 3022.1 L424.0 3021.4 L429.0 3020.6 L434.0 3019.8 L439.0 3019.1 L444.0 3018.3 L449.0 3017.6 L454.0 3016.8 L459.0 3016.1 L464.0 3015.4 L469.0 3014.8 L474.0 3014.1 L479.0 3013.4 L483.9 3012.8 L488.9 3012.2 L493.9 3011.7 L498.9 3011.1 L503.9 3010.6 L508.9 3010.1 L513.9 3009.6 L518.9 3009.2 L523.9 3008.8 L528.9 3008.4 L533.9 3008.1 L538.9 3007.7 L543.9 3007.4 L548.9 3007.1 L553.9 3006.8 L558.9 3006.5 L563.9 3006.3 L568.9 3006.1 L573.9 3005.8 L578.9 3005.6 L583.9 3005.4 L588.9 3005.2 L593.9 3005.0 L598.9 3004.9 L603.9 3004.7 L608.9 3004.5 L613.8 3004.4 L618.8 3004.2 L623.8 3004.1 L628.8 3004.0 L633.8 3003.9 L638.8 3003.8 L643.8 3003.7 L648.8 3003.6 L653.8 3003.5 L658.8 3003.5 L663.8 3003.5 L668.8 3003.4 L673.8 3003.4 L678.8 3003.5 L683.8 3003.5 L688.8 3003.6 L693.8 3003.6 L698.8 3003.7 L703.8 3003.9 L708.8 3004.0 L713.8 3004.2 L718.8 3004.4 L723.8 3004.6 L728.8 3004.8 L733.8 3005.1 L738.8 3005.4 L743.7 3005.8 L748.7 3006.1 L753.7 3006.5 L758.7 3006.9 L763.7 3007.3 L768.7 3007.8 L773.7 3008.2 L778.7 3008.7 L783.7 3009.2 L788.7 3009.7 L793.7 3010.2 L798.7 3010.8 L803.7 3011.3 L808.7 3011.8" stroke="#8DB44A"/>
<path d="M414.0 3002.4 L419.0 3001.6 L424.0 3000.8 L429.0 3000.0 L434.0 2999.1 L439.0 2998.3 L444.0 2997.5 L449.0 2996.8 L454.0 2996.0 L459.0 2995.2 L464.0 2994.5 L469.0 2993.7 L474.0 2993.0 L479.0 2992.3 L483.9 2991.6 L488.9 2990.9 L493.9 2990.3 L498.9 2989.6 L503.9 2989.0 L508.9 2988.4 L513.9 2987.9 L518.9 2987.3 L523.9 2986.8 L528.9 2986.3 L533.9 2985.9 L538.9 2985.4 L543.9 2985.0 L548.9 2984.6 L553.9 2984.2 L558.9 2983.8 L563.9 2983.5 L568.9 2983.2 L573.9 2982.9 L578.9 2982.6 L583.9 2982.3 L588.9 2982.0 L593.9 2981.8 L598.9 2981.6 L603.9 2981.4 L608.9 2981.2 L613.8 2981.0 L618.8 2980.9 L623.8 2980.7 L628.8 2980.6 L633.8 2980.5 L638.8 2980.4 L643.8 2980.4 L648.8 2980.3 L653.8 2980.2 L658.8 2980.2 L663.8 2980.2 L668.8 2980.2 L673.8 2980.2 L678.8 2980.2 L683.8 2980.3 L688.8 2980.3 L693.8 2980.5 L698.8 2980.6 L703.8 2980.8 L708.8 2981.0 L713.8 2981.2 L718.8 2981.5 L723.8 2981.9 L728.8 2982.2 L733.8 2982.7 L738.8 2983.2 L743.7 2983.7 L748.7 2984.3 L753.7 2985.0 L758.7 2985.7 L763.7 2986.4 L768.7 2987.2 L773.7 2988.0 L778.7 2988.8 L783.7 2989.7 L788.7 2990.6 L793.7 2991.4 L798.7 2992.4 L803.7 2993.3 L808.7 2994.2" stroke="#005BAC"/>
<path d="M414.0 2983.9 L419.0 2983.0 L424.0 2982.2 L429.0 2981.3 L434.0 2980.4 L439.0 2979.6 L444.0 2978.8 L449.0 2977.9 L454.0 2977.1 L459.0 2976.3 L464.0 2975.5 L469.0 2974.8 L474.0 2974.0 L479.0 2973.3 L483.9 2972.6 L488.9 2971.9 L493.9 2971.2 L498.9 2970.6 L503.9 2970.0 L508.9 2969.5 L513.9 2968.9 L518.9 2968.4 L523.9 2968.0 L528.9 2967.5 L533.9 2967.1 L538.9 2966.7 L543.9 2966.3 L548.9 2966.0 L553.9 2965.6 L558.9 2965.3 L563.9 2965.0 L568.9 2964.8 L573.9 2964.5 L578.9 2964.3 L583.9 2964.1 L588.9 2963.9 L593.9 2963.7 L598.9 2963.5 L603.9 2963.3 L608.9 2963.1 L613.8 2963.0 L618.8 2962.9 L623.8 2962.7 L628.8 2962.6 L633.8 2962.5 L638.8 2962.4 L643.8 2962.4 L648.8 2962.3 L653.8 2962.3 L658.8 2962.2 L663.8 2962.2 L668.8 2962.3 L673.8 2962.3 L678.8 2962.4 L683.8 2962.5 L688.8 2962.7 L693.8 2962.8 L698.8 2963.1 L703.8 2963.3 L708.8 2963.6 L713.8 2964.0 L718.8 2964.4 L723.8 2964.8 L728.8 2965.4 L733.8 2965.9 L738.8 2966.5 L743.7 2967.1 L748.7 2967.8 L753.7 2968.5 L758.7 2969.3 L763.7 2970.0 L768.7 2970.8 L773.7 2971.6 L778.7 2972.5 L783.7 2973.3 L788.7 2974.2 L793.7 2975.1 L798.7 2976.0 L803.7 2976.9 L808.7 2977.8" stroke="#C81A44"/>
</g>
<line x1="415.0" y1="2947.5" x2="808.1" y2="2947.5" stroke="#262626" stroke-opacity="0.2" stroke-width="10" stroke-dasharray="34 32.5" stroke-dashoffset="34.2"/>
<line x1="415.0" y1="3034" x2="808.1" y2="3034" stroke="#262626" stroke-opacity="0.2" stroke-width="10" stroke-dasharray="34 32.5" stroke-dashoffset="34.2"/>
<line x1="415.0" y1="3120" x2="808.1" y2="3120" stroke="#262626" stroke-opacity="0.2" stroke-width="10" stroke-dasharray="34 32.5" stroke-dashoffset="34.2"/>
<line x1="601.5" y1="2929.6" x2="601.5" y2="3174.1" stroke="#262626" stroke-opacity="0.2" stroke-width="10" stroke-dasharray="34 32.5" stroke-dashoffset="50.2"/>
<g stroke="#262626" stroke-width="10">
<line x1="415.0" y1="2947.5" x2="419.0" y2="2947.5"/><line x1="808.1" y1="2947.5" x2="804.1" y2="2947.5"/>
<line x1="415.0" y1="3034" x2="419.0" y2="3034"/><line x1="808.1" y1="3034" x2="804.1" y2="3034"/>
<line x1="415.0" y1="3120" x2="419.0" y2="3120"/><line x1="808.1" y1="3120" x2="804.1" y2="3120"/>
<line x1="601.5" y1="2929.6" x2="601.5" y2="2933.6"/><line x1="601.5" y1="3174.1" x2="601.5" y2="3170.1"/>
</g>
<rect x="409.80" y="2924.40" width="403.50" height="254.90" fill="none" stroke="#262626" stroke-width="10.4"/>
<g font-size="57" fill="#262626" stroke="#262626" stroke-width="0.9">
<text x="386" y="2966.3" text-anchor="end">2</text>
<text x="386" y="3052.8" text-anchor="end">0</text>
<text x="386" y="3138.8" text-anchor="end">−2</text>
<text x="600" y="3252.4" text-anchor="middle">−30</text>
</g>
<line x1="597.5" y1="2778.2" x2="599.5" y2="2870" stroke="#000" stroke-width="7.5"/>
<polygon points="600.0,2894.7 613.8,2856.4 599.5,2865.0 585.0,2857.4" fill="#000"/>
<rect x="1355.3" y="2600.0" width="383.0" height="363.2" fill="#fff" stroke="#262626" stroke-width="4.0"/>
<line x1="1366" y1="2640.4" x2="1478.1" y2="2640.4" stroke="#F396AA" stroke-width="8.6"/>
<text x="1486.1" y="2663.0" font-size="58" fill="#000" stroke="#000" stroke-width="0.9" textLength="238" lengthAdjust="spacing"><tspan font-style="italic">cl</tspan>=1.2<tspan font-style="italic">μ</tspan>m</text>
<line x1="1366" y1="2710.8" x2="1478.1" y2="2710.8" stroke="#1A1A1A" stroke-width="8.6"/>
<text x="1486.1" y="2733.4" font-size="58" fill="#000" stroke="#000" stroke-width="0.9" textLength="238" lengthAdjust="spacing"><tspan font-style="italic">cl</tspan>=3.2<tspan font-style="italic">μ</tspan>m</text>
<line x1="1366" y1="2781.2" x2="1478.1" y2="2781.2" stroke="#8DB44A" stroke-width="8.6"/>
<text x="1486.1" y="2803.8" font-size="58" fill="#000" stroke="#000" stroke-width="0.9" textLength="238" lengthAdjust="spacing"><tspan font-style="italic">cl</tspan>=5.2<tspan font-style="italic">μ</tspan>m</text>
<line x1="1366" y1="2851.6" x2="1478.1" y2="2851.6" stroke="#005BAC" stroke-width="8.6"/>
<text x="1486.1" y="2874.2" font-size="58" fill="#000" stroke="#000" stroke-width="0.9" textLength="238" lengthAdjust="spacing"><tspan font-style="italic">cl</tspan>=7.2<tspan font-style="italic">μ</tspan>m</text>
<line x1="1366" y1="2922.0" x2="1478.1" y2="2922.0" stroke="#C81A44" stroke-width="8.6"/>
<text x="1486.1" y="2944.6" font-size="58" fill="#000" stroke="#000" stroke-width="0.9" textLength="238" lengthAdjust="spacing"><tspan font-style="italic">cl</tspan>=9.2<tspan font-style="italic">μ</tspan>m</text>
<g font-size="51" fill="#000" stroke="#000" stroke-width="0.9">
<text x="1377.9" y="3083.1" textLength="123.7" lengthAdjust="spacing"><tspan font-style="italic">α</tspan>=0.5</text>
<text x="1377.9" y="3142.6" textLength="144.2" lengthAdjust="spacing"><tspan font-style="italic">θ</tspan><tspan font-style="italic" font-size="36.7" dy="25.5">i</tspan><tspan dy="-25.5">=30°</tspan></text>
<text x="1377.9" y="3227.4" textLength="191.1" lengthAdjust="spacing"><tspan font-style="italic">δ</tspan>=0.1<tspan font-style="italic">μ</tspan>m</text>
<text x="1377.9" y="3288.7" textLength="248.8" lengthAdjust="spacing"><tspan font-style="italic">λ</tspan>=1.550<tspan font-style="italic">μ</tspan>m</text>
</g>
<text x="85.5" y="3016" font-size="69" fill="#262626" stroke="#262626" stroke-width="0.9" text-anchor="middle" transform="rotate(-90 85.5 3016)"><tspan font-style="italic">σ</tspan><tspan font-style="italic" font-size="51.8" dy="29.0">i</tspan><tspan dy="-29.0">(dB)</tspan></text>
<text x="493.8" y="3632.1" font-size="66" fill="#262626" stroke="#262626" stroke-width="0.9" textLength="566.4" lengthAdjust="spacing">Scattering angle(<tspan font-style="italic">θ</tspan><tspan font-size="47.5" dy="29.7">s</tspan><tspan dy="-29.7">/°)</tspan></text>
<text x="647.6" y="3764.6" font-size="83" fill="#000" textLength="582.7" lengthAdjust="spacingAndGlyphs">(<tspan font-weight="bold">c</tspan>) <tspan font-style="italic">λ</tspan> = 1.550 μm</text>
</svg>
</body></html>
